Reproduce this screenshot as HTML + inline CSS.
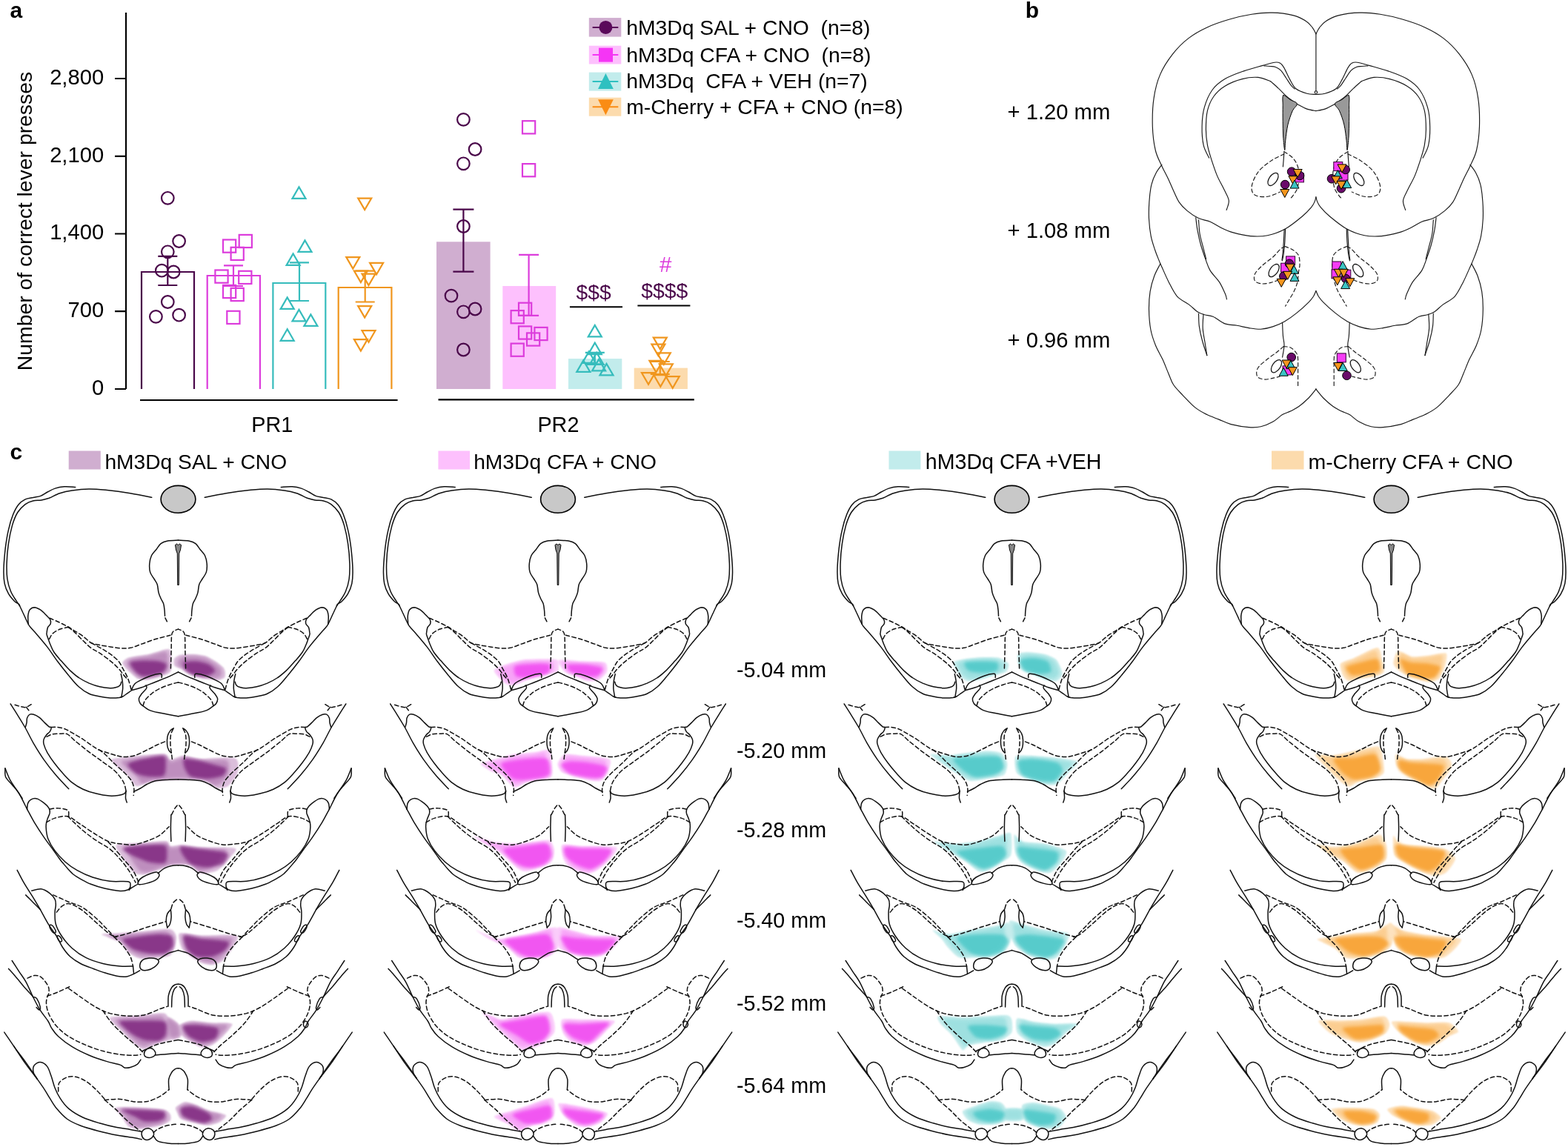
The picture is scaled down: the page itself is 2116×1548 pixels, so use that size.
<!DOCTYPE html>
<html><head><meta charset="utf-8"><style>html,body{margin:0;padding:0;background:#fff;}svg{display:block;}</style></head>
<body><svg width="2116" height="1548" viewBox="0 0 2116 1548">
<rect width="2116" height="1548" fill="#fff"/>
<path d="M170 17V525M155 525H170M155 420.2H170M155 315.5H170M155 210.8H170M155 106H170" stroke="#000" stroke-width="2.2" fill="none"/>
<text x="140.2" y="532.8" text-anchor="end" font-size="29.2" font-family="Liberation Sans, Arial, sans-serif">0</text>
<text x="140.2" y="428.0" text-anchor="end" font-size="29.2" font-family="Liberation Sans, Arial, sans-serif">700</text>
<text x="140.2" y="323.3" text-anchor="end" font-size="29.2" font-family="Liberation Sans, Arial, sans-serif">1,400</text>
<text x="140.2" y="218.5" text-anchor="end" font-size="29.2" font-family="Liberation Sans, Arial, sans-serif">2,100</text>
<text x="140.2" y="113.8" text-anchor="end" font-size="29.2" font-family="Liberation Sans, Arial, sans-serif">2,800</text>
<text transform="translate(42.8 298.5) rotate(-90)" text-anchor="middle" font-size="28.35" font-family="Liberation Sans, Arial, sans-serif">Number of correct lever presses</text>
<text x="13.5" y="23.5" font-size="30" font-weight="bold" font-family="Liberation Sans, Arial, sans-serif">a</text>
<path d="M189 540H536.6M591.5 539.4H936.8" stroke="#000" stroke-width="2.2"/>
<text x="339.3" y="582.9" font-size="28.8" font-family="Liberation Sans, Arial, sans-serif">PR1</text>
<text x="725.4" y="582.9" font-size="28.8" font-family="Liberation Sans, Arial, sans-serif">PR2</text>
<path d="M191 525V367H262V525" fill="none" stroke="#4a084a" stroke-width="2.2"/>
<path d="M279.7 525V372H350.9V525" fill="none" stroke="#dc3cdc" stroke-width="2.2"/>
<path d="M368.4 525V382H439.3V525" fill="none" stroke="#36bcbc" stroke-width="2.2"/>
<path d="M456.7 525V388H528.4V525" fill="none" stroke="#f0961e" stroke-width="2.2"/>
<circle cx="226.3" cy="267.3" r="8.3" fill="none" stroke="#4a084a" stroke-width="2.2"/>
<circle cx="241.6" cy="325.5" r="8.3" fill="none" stroke="#4a084a" stroke-width="2.2"/>
<circle cx="226.3" cy="339.8" r="8.3" fill="none" stroke="#4a084a" stroke-width="2.2"/>
<circle cx="218.3" cy="365.2" r="8.3" fill="none" stroke="#4a084a" stroke-width="2.2"/>
<circle cx="234.2" cy="367.0" r="8.3" fill="none" stroke="#4a084a" stroke-width="2.2"/>
<circle cx="226.3" cy="407.5" r="8.3" fill="none" stroke="#4a084a" stroke-width="2.2"/>
<circle cx="210.4" cy="427.4" r="8.3" fill="none" stroke="#4a084a" stroke-width="2.2"/>
<circle cx="241.6" cy="425.2" r="8.3" fill="none" stroke="#4a084a" stroke-width="2.2"/>
<path d="M226.3 345.8V385.0M213.3 345.8H239.3M213.3 385.0H239.3" stroke="#4a084a" stroke-width="2.2" fill="none"/>
<rect x="301.0" y="323.5" width="17.2" height="17.2" fill="none" stroke="#dc3cdc" stroke-width="2.2"/>
<rect x="322.7" y="316.9" width="17.2" height="17.2" fill="none" stroke="#dc3cdc" stroke-width="2.2"/>
<rect x="311.6" y="333.8" width="17.2" height="17.2" fill="none" stroke="#dc3cdc" stroke-width="2.2"/>
<rect x="290.4" y="364.5" width="17.2" height="17.2" fill="none" stroke="#dc3cdc" stroke-width="2.2"/>
<rect x="322.2" y="365.8" width="17.2" height="17.2" fill="none" stroke="#dc3cdc" stroke-width="2.2"/>
<rect x="301.0" y="384.9" width="17.2" height="17.2" fill="none" stroke="#dc3cdc" stroke-width="2.2"/>
<rect x="311.6" y="388.9" width="17.2" height="17.2" fill="none" stroke="#dc3cdc" stroke-width="2.2"/>
<rect x="306.3" y="419.8" width="17.2" height="17.2" fill="none" stroke="#dc3cdc" stroke-width="2.2"/>
<path d="M315.0 358.3V386.0M302.0 358.3H328.0M302.0 386.0H328.0" stroke="#dc3cdc" stroke-width="2.2" fill="none"/>
<polygon points="403.5,252.4 394.5,267.9 412.5,267.9" fill="none" stroke="#36bcbc" stroke-width="2.2" stroke-linejoin="miter"/>
<polygon points="411.5,324.4 402.5,339.9 420.5,339.9" fill="none" stroke="#36bcbc" stroke-width="2.2" stroke-linejoin="miter"/>
<polygon points="395.6,342.4 386.6,357.9 404.6,357.9" fill="none" stroke="#36bcbc" stroke-width="2.2" stroke-linejoin="miter"/>
<polygon points="387.7,401.4 378.7,416.9 396.7,416.9" fill="none" stroke="#36bcbc" stroke-width="2.2" stroke-linejoin="miter"/>
<polygon points="403.5,417.9 394.5,433.4 412.5,433.4" fill="none" stroke="#36bcbc" stroke-width="2.2" stroke-linejoin="miter"/>
<polygon points="419.4,424.4 410.4,439.9 428.4,439.9" fill="none" stroke="#36bcbc" stroke-width="2.2" stroke-linejoin="miter"/>
<polygon points="387.7,444.2 378.7,459.8 396.7,459.8" fill="none" stroke="#36bcbc" stroke-width="2.2" stroke-linejoin="miter"/>
<path d="M404.0 354.3V406.0M391.0 354.3H417.0M391.0 406.0H417.0" stroke="#36bcbc" stroke-width="2.2" fill="none"/>
<polygon points="492.2,283.1 483.2,267.6 501.2,267.6" fill="none" stroke="#f0961e" stroke-width="2.2" stroke-linejoin="miter"/>
<polygon points="476.3,362.6 467.3,347.1 485.3,347.1" fill="none" stroke="#f0961e" stroke-width="2.2" stroke-linejoin="miter"/>
<polygon points="508.1,370.4 499.1,354.9 517.1,354.9" fill="none" stroke="#f0961e" stroke-width="2.2" stroke-linejoin="miter"/>
<polygon points="486.9,381.1 477.9,365.6 495.9,365.6" fill="none" stroke="#f0961e" stroke-width="2.2" stroke-linejoin="miter"/>
<polygon points="497.5,385.1 488.5,369.6 506.5,369.6" fill="none" stroke="#f0961e" stroke-width="2.2" stroke-linejoin="miter"/>
<polygon points="492.2,428.6 483.2,413.1 501.2,413.1" fill="none" stroke="#f0961e" stroke-width="2.2" stroke-linejoin="miter"/>
<polygon points="497.5,461.8 488.5,446.2 506.5,446.2" fill="none" stroke="#f0961e" stroke-width="2.2" stroke-linejoin="miter"/>
<polygon points="486.9,473.6 477.9,458.1 495.9,458.1" fill="none" stroke="#f0961e" stroke-width="2.2" stroke-linejoin="miter"/>
<path d="M492.7 365.7V407.5M479.7 365.7H505.7M479.7 407.5H505.7" stroke="#f0961e" stroke-width="2.2" fill="none"/>
<rect x="589" y="326.3" width="72.6" height="198.7" fill="#d0aed0"/>
<rect x="678.3" y="386" width="71.9" height="139.0" fill="#fdc0fd"/>
<rect x="767" y="484.1" width="72.3" height="40.9" fill="#c2ecec"/>
<rect x="855.7" y="496.6" width="72.2" height="28.4" fill="#fcdbad"/>
<circle cx="625.4" cy="161.4" r="8.3" fill="none" stroke="#4a084a" stroke-width="2.2"/>
<circle cx="641.1" cy="201.5" r="8.3" fill="none" stroke="#4a084a" stroke-width="2.2"/>
<circle cx="625.4" cy="220.8" r="8.3" fill="none" stroke="#4a084a" stroke-width="2.2"/>
<circle cx="625.4" cy="305.5" r="8.3" fill="none" stroke="#4a084a" stroke-width="2.2"/>
<circle cx="609.0" cy="399.1" r="8.3" fill="none" stroke="#4a084a" stroke-width="2.2"/>
<circle cx="625.4" cy="420.8" r="8.3" fill="none" stroke="#4a084a" stroke-width="2.2"/>
<circle cx="641.1" cy="417.0" r="8.3" fill="none" stroke="#4a084a" stroke-width="2.2"/>
<circle cx="625.4" cy="472.0" r="8.3" fill="none" stroke="#4a084a" stroke-width="2.2"/>
<path d="M625.4 282.6V366.7M611.4 282.6H639.4M611.4 366.7H639.4" stroke="#4a084a" stroke-width="2.2" fill="none"/>
<rect x="705.0" y="163.2" width="17.2" height="17.2" fill="none" stroke="#dc3cdc" stroke-width="2.2"/>
<rect x="705.0" y="221.1" width="17.2" height="17.2" fill="none" stroke="#dc3cdc" stroke-width="2.2"/>
<rect x="700.0" y="408.7" width="17.2" height="17.2" fill="none" stroke="#dc3cdc" stroke-width="2.2"/>
<rect x="689.6" y="419.1" width="17.2" height="17.2" fill="none" stroke="#dc3cdc" stroke-width="2.2"/>
<rect x="700.0" y="440.4" width="17.2" height="17.2" fill="none" stroke="#dc3cdc" stroke-width="2.2"/>
<rect x="721.4" y="441.9" width="17.2" height="17.2" fill="none" stroke="#dc3cdc" stroke-width="2.2"/>
<rect x="711.0" y="449.4" width="17.2" height="17.2" fill="none" stroke="#dc3cdc" stroke-width="2.2"/>
<rect x="689.6" y="463.6" width="17.2" height="17.2" fill="none" stroke="#dc3cdc" stroke-width="2.2"/>
<path d="M713.6 343.9V425.9M700.1 343.9H727.1M700.1 425.9H727.1" stroke="#dc3cdc" stroke-width="2.2" fill="none"/>
<polygon points="802.8,438.9 793.8,454.4 811.8,454.4" fill="none" stroke="#36bcbc" stroke-width="2.2" stroke-linejoin="miter"/>
<polygon points="802.8,462.6 793.8,478.1 811.8,478.1" fill="none" stroke="#36bcbc" stroke-width="2.2" stroke-linejoin="miter"/>
<polygon points="794.8,474.4 785.8,489.9 803.8,489.9" fill="none" stroke="#36bcbc" stroke-width="2.2" stroke-linejoin="miter"/>
<polygon points="805.2,475.9 796.2,491.4 814.2,491.4" fill="none" stroke="#36bcbc" stroke-width="2.2" stroke-linejoin="miter"/>
<polygon points="787.3,486.4 778.3,501.9 796.3,501.9" fill="none" stroke="#36bcbc" stroke-width="2.2" stroke-linejoin="miter"/>
<polygon points="808.1,484.9 799.1,500.4 817.1,500.4" fill="none" stroke="#36bcbc" stroke-width="2.2" stroke-linejoin="miter"/>
<polygon points="818.5,490.9 809.5,506.4 827.5,506.4" fill="none" stroke="#36bcbc" stroke-width="2.2" stroke-linejoin="miter"/>
<path d="M802.8 475.8V492.0M789.8 475.8H815.8M789.8 492.0H815.8" stroke="#36bcbc" stroke-width="2.2" fill="none"/>
<polygon points="890.8,471.1 881.8,455.6 899.8,455.6" fill="none" stroke="#f0961e" stroke-width="2.2" stroke-linejoin="miter"/>
<polygon points="888.4,480.1 879.4,464.6 897.4,464.6" fill="none" stroke="#f0961e" stroke-width="2.2" stroke-linejoin="miter"/>
<polygon points="895.8,491.9 886.8,476.4 904.8,476.4" fill="none" stroke="#f0961e" stroke-width="2.2" stroke-linejoin="miter"/>
<polygon points="885.4,502.4 876.4,486.9 894.4,486.9" fill="none" stroke="#f0961e" stroke-width="2.2" stroke-linejoin="miter"/>
<polygon points="898.8,506.9 889.8,491.4 907.8,491.4" fill="none" stroke="#f0961e" stroke-width="2.2" stroke-linejoin="miter"/>
<polygon points="875.0,518.8 866.0,503.2 884.0,503.2" fill="none" stroke="#f0961e" stroke-width="2.2" stroke-linejoin="miter"/>
<polygon points="891.3,521.8 882.3,506.2 900.3,506.2" fill="none" stroke="#f0961e" stroke-width="2.2" stroke-linejoin="miter"/>
<polygon points="907.7,523.8 898.7,508.2 916.7,508.2" fill="none" stroke="#f0961e" stroke-width="2.2" stroke-linejoin="miter"/>
<path d="M890.8 488.0V505.0M877.8 488.0H903.8M877.8 505.0H903.8" stroke="#f0961e" stroke-width="2.2" fill="none"/>
<text x="777.6" y="403.8" font-size="28.2" fill="#4a084a" font-family="Liberation Sans, Arial, sans-serif">$$$</text>
<path d="M768.9 414.2H840M860.4 412.5H931.4" stroke="#000" stroke-width="2"/>
<text x="865.2" y="401.7" font-size="28.4" fill="#4a084a" font-family="Liberation Sans, Arial, sans-serif">$$$$</text>
<text x="890" y="366.7" font-size="29.5" fill="#dc3cdc" font-family="Liberation Sans, Arial, sans-serif">#</text>
<rect x="794.8" y="24.1" width="43.5" height="25.5" fill="#d0aed0"/>
<path d="M799.6 36.9H834.3" stroke="#5a0a5a" stroke-width="2"/>
<circle cx="817.4" cy="36.9" r="9" fill="#5a0a5a" stroke="#5a0a5a" stroke-width="0"/>
<text x="845.2" y="46.8" font-size="28.3" font-family="Liberation Sans, Arial, sans-serif">hM3Dq SAL + CNO  (n=8)</text>
<rect x="794.8" y="61.7" width="43.5" height="24.8" fill="#fdc0fd"/>
<path d="M799.6 74.1H834.3" stroke="#f535f5" stroke-width="2"/>
<rect x="808" y="64.6" width="19" height="19" fill="#f535f5"/>
<text x="845.2" y="83.5" font-size="28.3" font-family="Liberation Sans, Arial, sans-serif">hM3Dq CFA + CNO  (n=8)</text>
<rect x="794.8" y="97.6" width="43.5" height="25.0" fill="#c2ecec"/>
<path d="M799.6 110.1H834.3" stroke="#2ec0c0" stroke-width="2"/>
<polygon points="817.4,99.1 807,120.1 827.8,120.1" fill="#2ec0c0"/>
<text x="845.2" y="119.0" font-size="28.3" font-family="Liberation Sans, Arial, sans-serif">hM3Dq  CFA + VEH (n=7)</text>
<rect x="794.8" y="131.7" width="43.5" height="25.0" fill="#fcdbad"/>
<path d="M799.6 144.2H834.3" stroke="#fa8c14" stroke-width="2"/>
<polygon points="817.4,155.2 807,134.2 827.8,134.2" fill="#fa8c14"/>
<text x="845.2" y="153.6" font-size="28.3" font-family="Liberation Sans, Arial, sans-serif">m-Cherry + CFA + CNO (n=8)</text>
<g fill="none" stroke="#1a1a1a" stroke-width="1.15" stroke-linecap="round">
<path d="M1775.9 45.8C1775.2 44.4 1773.4 40.1 1771.2 37.3C1769.0 34.5 1767.0 31.5 1762.7 28.8C1758.5 26.0 1753.3 22.8 1745.7 20.9C1738.0 18.9 1726.3 17.3 1716.9 17.1C1707.5 16.8 1698.8 17.7 1689.2 19.2C1679.6 20.7 1669.3 23.1 1659.4 26.0C1649.4 28.9 1638.7 32.4 1629.5 36.7C1620.3 40.9 1611.8 45.5 1603.9 51.6C1596.1 57.6 1589.0 64.7 1582.6 72.9C1576.2 81.1 1569.8 90.7 1565.6 100.6C1561.3 110.5 1558.8 120.9 1557.1 132.6C1555.3 144.2 1555.0 158.9 1555.3 170.5C1555.7 182.2 1557.1 193.6 1559.2 202.5C1561.2 211.4 1564.9 217.4 1567.7 223.8C1570.5 230.2 1573.4 234.8 1576.2 240.8C1579.1 246.9 1582.3 254.7 1584.8 260.0C1587.2 265.3 1588.3 268.7 1591.2 272.8C1594.0 276.9 1597.6 280.8 1602.0 284.4C1606.4 288.1 1612.4 292.1 1617.5 294.5C1622.7 297.0 1627.9 297.0 1633.1 299.2C1638.2 301.4 1643.4 305.2 1648.6 307.7C1653.7 310.2 1657.6 312.1 1664.1 313.9C1670.5 315.7 1679.6 317.9 1687.3 318.6C1695.1 319.2 1702.8 319.3 1710.6 317.8C1718.3 316.2 1726.1 313.5 1733.9 309.3C1741.6 305.0 1751.2 297.1 1757.1 292.2C1763.1 287.3 1766.7 283.1 1769.5 279.8C1772.4 276.4 1773.1 274.4 1774.2 272.0C1775.2 269.7 1775.6 266.9 1775.9 265.8"/>
<path d="M1775.9 45.8C1776.6 44.4 1778.4 40.1 1780.6 37.3C1782.8 34.5 1784.8 31.5 1789.1 28.8C1793.3 26.0 1798.5 22.8 1806.1 20.9C1813.8 18.9 1825.5 17.3 1834.9 17.1C1844.3 16.8 1853.0 17.7 1862.6 19.2C1872.2 20.7 1882.5 23.1 1892.4 26.0C1902.4 28.9 1913.1 32.4 1922.3 36.7C1931.5 40.9 1940.0 45.5 1947.9 51.6C1955.7 57.6 1962.8 64.7 1969.2 72.9C1975.6 81.1 1982.0 90.7 1986.2 100.6C1990.5 110.5 1993.0 120.9 1994.7 132.6C1996.5 144.2 1996.8 158.9 1996.5 170.5C1996.1 182.2 1994.7 193.6 1992.6 202.5C1990.6 211.4 1986.9 217.4 1984.1 223.8C1981.3 230.2 1978.4 234.8 1975.6 240.8C1972.7 246.9 1969.5 254.7 1967.0 260.0C1964.6 265.3 1963.5 268.7 1960.6 272.8C1957.8 276.9 1954.2 280.8 1949.8 284.4C1945.4 288.1 1939.4 292.1 1934.3 294.5C1929.1 297.0 1923.9 297.0 1918.7 299.2C1913.6 301.4 1908.4 305.2 1903.2 307.7C1898.1 310.2 1894.2 312.1 1887.7 313.9C1881.3 315.7 1872.2 317.9 1864.5 318.6C1856.7 319.2 1849.0 319.3 1841.2 317.8C1833.5 316.2 1825.7 313.5 1817.9 309.3C1810.2 305.0 1800.6 297.1 1794.7 292.2C1788.7 287.3 1785.1 283.1 1782.3 279.8C1779.4 276.4 1778.7 274.4 1777.6 272.0C1776.6 269.7 1776.2 266.9 1775.9 265.8"/>
<path d="M1775.9 127.5C1773.9 127.2 1768.3 127.5 1763.8 126.2C1759.3 124.9 1752.8 123.0 1748.9 119.8C1745.0 116.5 1743.0 111.3 1740.3 106.6C1737.7 101.9 1735.0 95.2 1732.9 91.6C1730.8 88.1 1729.7 86.5 1727.6 85.3C1725.4 84.0 1724.0 83.7 1720.1 84.2C1716.2 84.7 1711.0 86.5 1704.1 88.4C1697.2 90.4 1687.1 92.9 1678.5 95.9C1670.0 98.9 1660.1 102.3 1653.0 106.6C1645.9 110.8 1640.5 115.1 1635.9 121.5C1631.3 127.9 1627.6 136.8 1625.3 144.9C1622.9 153.1 1622.2 162.0 1622.1 170.5C1621.9 179.0 1622.6 189.0 1624.2 196.1C1625.8 203.2 1630.4 210.3 1631.6 213.1"/>
<path d="M1775.9 127.5C1777.9 127.2 1783.5 127.5 1788.0 126.2C1792.5 124.9 1799.0 123.0 1802.9 119.8C1806.8 116.5 1808.8 111.3 1811.5 106.6C1814.1 101.9 1816.8 95.2 1818.9 91.6C1821.0 88.1 1822.1 86.5 1824.2 85.3C1826.4 84.0 1827.8 83.7 1831.7 84.2C1835.6 84.7 1840.8 86.5 1847.7 88.4C1854.6 90.4 1864.7 92.9 1873.3 95.9C1881.8 98.9 1891.7 102.3 1898.8 106.6C1905.9 110.8 1911.3 115.1 1915.9 121.5C1920.5 127.9 1924.2 136.8 1926.5 144.9C1928.9 153.1 1929.6 162.0 1929.7 170.5C1929.9 179.0 1929.2 189.0 1927.6 196.1C1926.0 203.2 1921.4 210.3 1920.2 213.1"/>
<path d="M1714.8 109.8C1711.9 108.9 1704.1 105.0 1697.7 104.4C1691.3 103.9 1683.9 104.6 1676.4 106.6C1668.9 108.5 1659.4 112.2 1653.0 116.2C1646.6 120.1 1641.9 124.5 1638.0 130.0C1634.1 135.5 1631.3 141.7 1629.5 149.2C1627.7 156.6 1627.4 167.0 1627.4 174.8C1627.4 182.6 1628.3 189.3 1629.5 196.1C1630.8 202.8 1632.7 208.5 1634.8 215.3C1637.0 222.0 1639.5 229.8 1642.3 236.6C1645.1 243.3 1649.2 250.1 1651.9 255.8C1654.6 261.4 1657.8 266.1 1658.3 270.7C1658.8 275.3 1655.6 281.3 1655.1 283.5"/>
<path d="M1837.0 109.8C1839.9 108.9 1847.7 105.0 1854.1 104.4C1860.5 103.9 1867.9 104.6 1875.4 106.6C1882.9 108.5 1892.4 112.2 1898.8 116.2C1905.2 120.1 1909.9 124.5 1913.8 130.0C1917.7 135.5 1920.5 141.7 1922.3 149.2C1924.1 156.6 1924.4 167.0 1924.4 174.8C1924.4 182.6 1923.5 189.3 1922.3 196.1C1921.0 202.8 1919.1 208.5 1917.0 215.3C1914.8 222.0 1912.3 229.8 1909.5 236.6C1906.7 243.3 1902.6 250.1 1899.9 255.8C1897.2 261.4 1894.0 266.1 1893.5 270.7C1893.0 275.3 1896.2 281.3 1896.7 283.5"/>
<path d="M1705.8 88.9C1707.2 89.0 1711.4 89.2 1714.0 89.5C1716.6 89.8 1718.9 89.6 1721.3 90.5C1723.7 91.4 1726.2 92.6 1728.6 95.1C1731.0 97.6 1733.6 102.2 1735.8 105.5C1738.0 108.8 1740.1 112.4 1742.0 114.8C1743.9 117.2 1746.3 119.1 1747.2 120.0"/>
<path d="M1846.0 88.9C1844.6 89.0 1840.4 89.2 1837.8 89.5C1835.2 89.8 1832.9 89.6 1830.5 90.5C1828.1 91.4 1825.6 92.6 1823.2 95.1C1820.8 97.6 1818.2 102.2 1816.0 105.5C1813.8 108.8 1811.7 112.4 1809.8 114.8C1807.9 117.2 1805.5 119.1 1804.6 120.0"/>
<path d="M1714.8 109.8C1716.5 111.4 1721.9 116.0 1725.4 119.4C1729.0 122.7 1732.9 127.2 1736.1 130.0C1739.3 132.9 1742.1 134.6 1744.6 136.4C1747.1 138.2 1747.8 138.9 1751.0 140.7C1754.2 142.4 1759.6 145.6 1763.8 147.1C1767.9 148.6 1773.9 149.2 1775.9 149.6"/>
<path d="M1837.0 109.8C1835.3 111.4 1829.9 116.0 1826.4 119.4C1822.8 122.7 1818.9 127.2 1815.7 130.0C1812.5 132.9 1809.7 134.6 1807.2 136.4C1804.7 138.2 1804.0 138.9 1800.8 140.7C1797.6 142.4 1792.2 145.6 1788.0 147.1C1783.9 148.6 1777.9 149.2 1775.9 149.6"/>
<path d="M1732.9 204.6C1732.8 206.4 1732.5 211.9 1732.2 215.3C1732.0 218.6 1731.5 223.3 1731.4 224.9"/>
<path d="M1818.9 204.6C1819.0 206.4 1819.3 211.9 1819.6 215.3C1819.8 218.6 1820.3 223.3 1820.4 224.9"/>
<path d="M1732.9 207.8C1729.9 209.4 1720.6 213.3 1714.8 217.4C1708.9 221.5 1702.0 226.6 1697.7 232.3C1693.5 238.0 1689.9 246.3 1689.2 251.5C1688.5 256.6 1689.9 260.9 1693.5 263.2C1697.0 265.5 1704.8 266.1 1710.5 265.3C1716.2 264.6 1724.7 260.0 1727.6 259.0" stroke-dasharray="5 3.5"/>
<path d="M1818.9 207.8C1821.9 209.4 1831.2 213.3 1837.0 217.4C1842.9 221.5 1849.8 226.6 1854.1 232.3C1858.3 238.0 1861.9 246.3 1862.6 251.5C1863.3 256.6 1861.9 260.9 1858.3 263.2C1854.8 265.5 1847.0 266.1 1841.3 265.3C1835.6 264.6 1827.1 260.0 1824.2 259.0" stroke-dasharray="5 3.5"/>
<path d="M1732.9 204.6C1734.8 206.0 1741.6 209.9 1744.6 213.1C1747.6 216.3 1749.6 219.9 1751.0 223.8C1752.4 227.7 1753.1 231.6 1753.1 236.6C1753.1 241.5 1752.4 249.0 1751.0 253.6C1749.6 258.2 1746.4 261.8 1744.6 264.3C1742.8 266.8 1741.1 267.8 1740.3 268.5" stroke-dasharray="5 3.5"/>
<path d="M1818.9 204.6C1817.0 206.0 1810.2 209.9 1807.2 213.1C1804.2 216.3 1802.2 219.9 1800.8 223.8C1799.4 227.7 1798.7 231.6 1798.7 236.6C1798.7 241.5 1799.4 249.0 1800.8 253.6C1802.2 258.2 1805.4 261.8 1807.2 264.3C1809.0 266.8 1810.7 267.8 1811.5 268.5" stroke-dasharray="5 3.5"/>
<path d="M1567.9 222.4C1566.6 224.2 1562.5 228.9 1560.2 233.3C1557.8 237.7 1555.5 242.3 1554.0 248.8C1552.4 255.2 1551.4 264.3 1550.9 272.0C1550.3 279.8 1550.2 287.5 1550.5 295.3C1550.9 303.1 1551.8 311.6 1553.2 318.6C1554.5 325.5 1556.9 332.0 1558.6 337.2C1560.3 342.3 1561.8 345.9 1563.3 349.6C1564.7 353.3 1565.1 354.2 1567.5 359.4C1569.8 364.5 1573.6 373.6 1577.1 380.4C1580.6 387.1 1583.9 394.6 1588.4 399.8C1593.0 404.9 1600.0 407.6 1604.6 411.1C1609.2 414.6 1612.4 418.5 1615.9 420.7C1619.4 423.0 1622.1 423.7 1625.6 424.8C1629.1 425.9 1632.3 425.2 1636.9 427.2C1641.5 429.2 1647.7 434.9 1653.0 436.9C1658.4 438.9 1663.8 438.4 1669.2 439.3C1674.6 440.3 1680.0 441.7 1685.3 442.6C1690.7 443.4 1696.1 444.4 1701.5 444.2C1706.9 443.9 1712.3 442.7 1717.6 440.9C1723.0 439.2 1728.4 436.8 1733.8 433.7C1739.2 430.6 1744.6 426.7 1749.9 422.4C1755.3 418.1 1762.3 411.6 1766.1 407.8C1769.9 404.1 1770.9 402.3 1772.6 399.8C1774.2 397.2 1775.3 393.7 1775.9 392.5"/>
<path d="M1983.9 222.4C1985.2 224.2 1989.3 228.9 1991.6 233.3C1994.0 237.7 1996.3 242.3 1997.8 248.8C1999.4 255.2 2000.4 264.3 2000.9 272.0C2001.5 279.8 2001.6 287.5 2001.3 295.3C2000.9 303.1 2000.0 311.6 1998.6 318.6C1997.3 325.5 1994.9 332.0 1993.2 337.2C1991.5 342.3 1990.0 345.9 1988.5 349.6C1987.1 353.3 1986.7 354.2 1984.3 359.4C1982.0 364.5 1978.2 373.6 1974.7 380.4C1971.2 387.1 1967.9 394.6 1963.4 399.8C1958.8 404.9 1951.8 407.6 1947.2 411.1C1942.6 414.6 1939.4 418.5 1935.9 420.7C1932.4 423.0 1929.7 423.7 1926.2 424.8C1922.7 425.9 1919.5 425.2 1914.9 427.2C1910.3 429.2 1904.1 434.9 1898.8 436.9C1893.4 438.9 1888.0 438.4 1882.6 439.3C1877.2 440.3 1871.8 441.7 1866.5 442.6C1861.1 443.4 1855.7 444.4 1850.3 444.2C1844.9 443.9 1839.5 442.7 1834.2 440.9C1828.8 439.2 1823.4 436.8 1818.0 433.7C1812.6 430.6 1807.2 426.7 1801.9 422.4C1796.5 418.1 1789.5 411.6 1785.7 407.8C1781.9 404.1 1780.9 402.3 1779.2 399.8C1777.6 397.2 1776.5 393.7 1775.9 392.5"/>
<path d="M1613.7 293.7C1614.1 296.6 1614.8 304.6 1616.0 310.8C1617.2 317.0 1618.8 324.5 1620.6 331.0C1622.5 337.4 1624.8 343.9 1626.8 349.6C1628.9 355.3 1630.0 359.9 1633.1 365.1C1636.2 370.3 1642.1 375.4 1645.5 380.6C1648.8 385.8 1651.5 392.2 1653.2 396.1C1654.9 400.0 1655.2 402.6 1655.5 403.9"/>
<path d="M1938.1 293.7C1937.7 296.6 1937.0 304.6 1935.8 310.8C1934.6 317.0 1933.0 324.5 1931.2 331.0C1929.3 337.4 1927.0 343.9 1925.0 349.6C1922.9 355.3 1921.8 359.9 1918.7 365.1C1915.6 370.3 1909.7 375.4 1906.3 380.6C1903.0 385.8 1900.3 392.2 1898.6 396.1C1896.9 400.0 1896.6 402.6 1896.3 403.9"/>
<path d="M1617.5 296.8C1617.8 300.0 1618.1 309.3 1619.1 315.5C1620.1 321.7 1622.3 328.4 1623.7 334.1C1625.2 339.8 1627.0 347.0 1627.6 349.6"/>
<path d="M1934.3 296.8C1934.0 300.0 1933.7 309.3 1932.7 315.5C1931.7 321.7 1929.5 328.4 1928.1 334.1C1926.6 339.8 1924.8 347.0 1924.2 349.6"/>
<path d="M1733.1 309.3C1733.0 312.1 1732.6 320.9 1732.3 326.3C1732.0 331.7 1731.5 337.7 1731.1 341.8C1730.7 346.0 1730.2 349.6 1730.0 351.1"/>
<path d="M1818.7 309.3C1818.8 312.1 1819.2 320.9 1819.5 326.3C1819.8 331.7 1820.3 337.7 1820.7 341.8C1821.1 346.0 1821.6 349.6 1821.8 351.1"/>
<path d="M1734.6 309.3C1734.5 312.1 1734.2 320.9 1733.9 326.3C1733.5 331.7 1732.9 337.6 1732.3 341.8C1731.7 346.1 1730.8 350.2 1730.4 351.9"/>
<path d="M1817.2 309.3C1817.3 312.1 1817.6 320.9 1817.9 326.3C1818.3 331.7 1818.9 337.6 1819.5 341.8C1820.1 346.1 1821.0 350.2 1821.4 351.9"/>
<path d="M1733.9 332.5C1732.8 333.2 1730.2 334.1 1727.7 336.4C1725.1 338.7 1722.5 342.7 1718.3 346.5C1714.2 350.2 1707.0 355.0 1702.8 358.9C1698.7 362.8 1695.1 366.4 1693.5 369.7C1692.0 373.1 1692.0 376.8 1693.5 379.0C1695.1 381.2 1699.2 382.5 1702.8 382.9C1706.5 383.3 1711.4 382.3 1715.2 381.4C1719.1 380.5 1724.3 378.1 1726.1 377.5" stroke-dasharray="5 3.5"/>
<path d="M1817.9 332.5C1819.0 333.2 1821.6 334.1 1824.1 336.4C1826.7 338.7 1829.3 342.7 1833.5 346.5C1837.6 350.2 1844.8 355.0 1849.0 358.9C1853.1 362.8 1856.7 366.4 1858.3 369.7C1859.8 373.1 1859.8 376.8 1858.3 379.0C1856.7 381.2 1852.6 382.5 1849.0 382.9C1845.3 383.3 1840.4 382.3 1836.6 381.4C1832.7 380.5 1827.5 378.1 1825.7 377.5" stroke-dasharray="5 3.5"/>
<path d="M1733.9 332.5C1735.7 333.3 1741.6 335.1 1744.7 337.2C1747.8 339.2 1750.9 341.6 1752.5 344.9C1754.0 348.3 1754.0 353.7 1754.0 357.3C1754.0 361.0 1753.0 362.8 1752.5 366.6C1752.0 370.5 1752.0 376.2 1750.9 380.6C1749.9 385.0 1748.1 389.1 1746.3 393.0C1744.5 396.9 1742.0 400.5 1740.1 403.9C1738.1 407.2 1735.5 411.6 1734.6 413.2" stroke-dasharray="5 3.5"/>
<path d="M1817.9 332.5C1816.1 333.3 1810.2 335.1 1807.1 337.2C1804.0 339.2 1800.9 341.6 1799.3 344.9C1797.8 348.3 1797.8 353.7 1797.8 357.3C1797.8 361.0 1798.8 362.8 1799.3 366.6C1799.8 370.5 1799.8 376.2 1800.9 380.6C1801.9 385.0 1803.7 389.1 1805.5 393.0C1807.3 396.9 1809.8 400.5 1811.7 403.9C1813.7 407.2 1816.3 411.6 1817.2 413.2" stroke-dasharray="5 3.5"/>
<path d="M1565.8 356.1C1564.5 358.8 1560.1 366.1 1557.8 372.3C1555.5 378.5 1553.3 385.8 1552.1 393.3C1550.9 400.8 1550.4 408.9 1550.5 417.5C1550.6 426.1 1551.4 436.9 1552.9 445.0C1554.4 453.0 1556.7 459.2 1559.4 466.0C1562.1 472.7 1566.1 478.9 1569.1 485.3C1572.0 491.8 1574.7 499.1 1577.1 504.7C1579.6 510.4 1580.4 514.4 1583.6 519.3C1586.8 524.1 1591.7 528.7 1596.5 533.8C1601.4 538.9 1607.3 545.6 1612.7 549.9C1618.1 554.3 1623.4 556.9 1628.8 559.6C1634.2 562.3 1639.6 563.9 1645.0 566.1C1650.4 568.3 1654.4 570.8 1661.1 572.6C1667.9 574.3 1678.6 576.1 1685.3 576.6C1692.1 577.1 1696.1 577.0 1701.5 575.8C1706.9 574.6 1712.8 572.0 1717.6 569.3C1722.5 566.6 1726.5 562.1 1730.6 559.6C1734.6 557.2 1738.1 556.7 1741.9 554.8C1745.6 552.9 1749.1 551.3 1753.2 548.3C1757.2 545.4 1762.6 540.5 1766.1 537.0C1769.6 533.5 1772.5 529.4 1774.2 527.3C1775.8 525.3 1775.6 525.3 1775.9 524.9"/>
<path d="M1986.0 356.1C1987.3 358.8 1991.7 366.1 1994.0 372.3C1996.3 378.5 1998.5 385.8 1999.7 393.3C2000.9 400.8 2001.4 408.9 2001.3 417.5C2001.2 426.1 2000.4 436.9 1998.9 445.0C1997.4 453.0 1995.1 459.2 1992.4 466.0C1989.7 472.7 1985.7 478.9 1982.7 485.3C1979.8 491.8 1977.1 499.1 1974.7 504.7C1972.2 510.4 1971.4 514.4 1968.2 519.3C1965.0 524.1 1960.1 528.7 1955.3 533.8C1950.4 538.9 1944.5 545.6 1939.1 549.9C1933.7 554.3 1928.4 556.9 1923.0 559.6C1917.6 562.3 1912.2 563.9 1906.8 566.1C1901.4 568.3 1897.4 570.8 1890.7 572.6C1883.9 574.3 1873.2 576.1 1866.5 576.6C1859.7 577.1 1855.7 577.0 1850.3 575.8C1844.9 574.6 1839.0 572.0 1834.2 569.3C1829.3 566.6 1825.3 562.1 1821.2 559.6C1817.2 557.2 1813.7 556.7 1809.9 554.8C1806.2 552.9 1802.7 551.3 1798.6 548.3C1794.6 545.4 1789.2 540.5 1785.7 537.0C1782.2 533.5 1779.3 529.4 1777.6 527.3C1776.0 525.3 1776.2 525.3 1775.9 524.9"/>
<path d="M1617.5 423.2C1617.7 426.0 1617.5 434.1 1618.3 440.1C1619.1 446.2 1620.6 452.9 1622.4 459.5C1624.1 466.1 1627.7 476.3 1628.8 479.7"/>
<path d="M1934.3 423.2C1934.1 426.0 1934.3 434.1 1933.5 440.1C1932.7 446.2 1931.2 452.9 1929.4 459.5C1927.7 466.1 1924.1 476.3 1923.0 479.7"/>
<path d="M1624.0 424.0C1623.8 427.2 1622.8 436.6 1623.2 443.4C1623.6 450.1 1625.5 458.3 1626.4 464.4C1627.3 470.4 1628.4 477.1 1628.8 479.7"/>
<path d="M1927.8 424.0C1928.0 427.2 1929.0 436.6 1928.6 443.4C1928.2 450.1 1926.3 458.3 1925.4 464.4C1924.5 470.4 1923.4 477.1 1923.0 479.7"/>
<path d="M1730.6 435.3C1730.7 438.2 1731.0 447.9 1731.4 453.0C1731.8 458.2 1733.1 461.1 1733.0 466.0C1732.9 470.8 1731.0 479.4 1730.6 482.1"/>
<path d="M1821.2 435.3C1821.1 438.2 1820.8 447.9 1820.4 453.0C1820.0 458.2 1818.7 461.1 1818.8 466.0C1818.9 470.8 1820.8 479.4 1821.2 482.1"/>
<path d="M1732.2 467.6C1730.6 468.9 1726.3 472.7 1722.5 475.7C1718.7 478.6 1713.7 481.8 1709.6 485.3C1705.4 488.8 1699.6 492.9 1697.5 496.7C1695.3 500.4 1695.2 505.4 1696.7 508.0C1698.1 510.5 1702.8 511.6 1706.3 512.0C1709.8 512.4 1714.1 511.1 1717.6 510.4C1721.1 509.7 1725.7 508.4 1727.3 508.0" stroke-dasharray="5 3.5"/>
<path d="M1819.6 467.6C1821.2 468.9 1825.5 472.7 1829.3 475.7C1833.1 478.6 1838.1 481.8 1842.2 485.3C1846.4 488.8 1852.2 492.9 1854.3 496.7C1856.5 500.4 1856.6 505.4 1855.1 508.0C1853.7 510.5 1849.0 511.6 1845.5 512.0C1842.0 512.4 1837.7 511.1 1834.2 510.4C1830.7 509.7 1826.1 508.4 1824.5 508.0" stroke-dasharray="5 3.5"/>
<path d="M1732.2 467.6C1733.8 467.9 1738.9 467.6 1741.9 469.2C1744.8 470.8 1748.3 474.6 1749.9 477.3C1751.6 480.0 1751.3 481.3 1751.6 485.3C1751.8 489.4 1751.6 495.3 1751.6 501.5C1751.6 507.7 1751.6 519.0 1751.6 522.5" stroke-dasharray="5 3.5"/>
<path d="M1819.6 467.6C1818.0 467.9 1812.9 467.6 1809.9 469.2C1807.0 470.8 1803.5 474.6 1801.9 477.3C1800.2 480.0 1800.5 481.3 1800.2 485.3C1800.0 489.4 1800.2 495.3 1800.2 501.5C1800.2 507.7 1800.2 519.0 1800.2 522.5" stroke-dasharray="5 3.5"/>
<path d="M1775.9 45.8V123"/>
<circle cx="1775.9" cy="124.5" r="1.8"/>
<path d="M1731.7 128.7C1733.3 127.3 1737.9 132.6 1741.0 134.5C1744.1 136.4 1749.8 137.5 1750.3 140.1C1750.8 142.7 1746.2 145.2 1744.1 149.9C1742.0 154.6 1739.5 161.9 1737.9 168.5C1736.4 175.1 1735.5 183.5 1734.8 189.2C1734.1 194.9 1734.2 203.5 1733.7 202.6C1733.2 201.7 1732.1 190.5 1731.7 184.0C1731.3 177.5 1731.3 170.3 1731.2 163.4C1731.1 156.5 1731.1 148.5 1731.2 142.7C1731.3 136.9 1730.1 130.1 1731.7 128.7Z" fill="#999" stroke="#000" stroke-width="1"/>
<path d="M1820.1 128.7C1818.5 127.3 1813.9 132.6 1810.8 134.5C1807.7 136.4 1802.0 137.5 1801.5 140.1C1801.0 142.7 1805.6 145.2 1807.7 149.9C1809.8 154.6 1812.4 161.9 1813.9 168.5C1815.5 175.1 1816.3 183.5 1817.0 189.2C1817.7 194.9 1817.6 203.5 1818.1 202.6C1818.6 201.7 1819.7 190.5 1820.1 184.0C1820.5 177.5 1820.5 170.3 1820.6 163.4C1820.7 156.5 1820.7 148.5 1820.6 142.7C1820.5 136.9 1821.7 130.1 1820.1 128.7Z" fill="#999" stroke="#000" stroke-width="1"/>
<ellipse cx="1718.0" cy="241.9" rx="5.3" ry="9.8" transform="rotate(35 1718.0 241.9)" stroke-width="1.3"/>
<ellipse cx="1833.8" cy="241.9" rx="5.3" ry="9.8" transform="rotate(-35 1833.8 241.9)" stroke-width="1.3"/>
<ellipse cx="1719.1" cy="365.1" rx="5.3" ry="9.8" transform="rotate(35 1719.1 365.1)" stroke-width="1.3"/>
<ellipse cx="1832.7" cy="365.1" rx="5.3" ry="9.8" transform="rotate(-35 1832.7 365.1)" stroke-width="1.3"/>
<ellipse cx="1722.5" cy="494.2" rx="5.3" ry="9.8" transform="rotate(35 1722.5 494.2)" stroke-width="1.3"/>
<ellipse cx="1829.3" cy="494.2" rx="5.3" ry="9.8" transform="rotate(-35 1829.3 494.2)" stroke-width="1.3"/>
</g>
<rect x="1747.4" y="233.9" width="12" height="12" fill="#f53cf5" stroke="#300030" stroke-width="1"/>
<circle cx="1743.1" cy="231.7" r="5.8" fill="#6a0a6a" stroke="#000" stroke-width="1"/>
<circle cx="1754.1" cy="237.0" r="5.8" fill="#6a0a6a" stroke="#000" stroke-width="1"/>
<circle cx="1734.2" cy="249.1" r="5.8" fill="#6a0a6a" stroke="#000" stroke-width="1"/>
<polygon points="1751.2,239.5 1745.2,228.5 1757.2,228.5" fill="#f7961e" stroke="#000" stroke-width="1"/>
<polygon points="1744.9,248.7 1738.9,237.7 1750.9,237.7" fill="#f7961e" stroke="#000" stroke-width="1"/>
<polygon points="1747.0,243.1 1741.0,254.1 1753.0,254.1" fill="#3cc4c4" stroke="#000" stroke-width="1"/>
<polygon points="1733.8,266.5 1727.8,255.5 1739.8,255.5" fill="#f7961e" stroke="#000" stroke-width="1"/>
<rect x="1799.8" y="218.6" width="12" height="12" fill="#f53cf5" stroke="#300030" stroke-width="1"/>
<rect x="1807.0" y="231.2" width="12" height="12" fill="#f53cf5" stroke="#300030" stroke-width="1"/>
<circle cx="1815.7" cy="228.9" r="5.8" fill="#6a0a6a" stroke="#000" stroke-width="1"/>
<circle cx="1797.0" cy="241.3" r="5.8" fill="#6a0a6a" stroke="#000" stroke-width="1"/>
<circle cx="1810.0" cy="254.3" r="5.8" fill="#6a0a6a" stroke="#000" stroke-width="1"/>
<polygon points="1811.0,232.9 1805.0,221.9 1817.0,221.9" fill="#f7961e" stroke="#000" stroke-width="1"/>
<polygon points="1805.3,229.7 1799.3,240.7 1811.3,240.7" fill="#3cc4c4" stroke="#000" stroke-width="1"/>
<polygon points="1802.7,248.9 1796.7,237.9 1808.7,237.9" fill="#f7961e" stroke="#000" stroke-width="1"/>
<polygon points="1810.0,255.6 1804.0,244.6 1816.0,244.6" fill="#f7961e" stroke="#000" stroke-width="1"/>
<polygon points="1817.7,242.6 1811.7,253.6 1823.7,253.6" fill="#3cc4c4" stroke="#000" stroke-width="1"/>
<rect x="1735.6" y="345.9" width="12" height="12" fill="#f53cf5" stroke="#300030" stroke-width="1"/>
<rect x="1728.6" y="355.2" width="12" height="12" fill="#f53cf5" stroke="#300030" stroke-width="1"/>
<circle cx="1740.0" cy="355.8" r="5.8" fill="#6a0a6a" stroke="#000" stroke-width="1"/>
<circle cx="1732.3" cy="372.8" r="5.8" fill="#6a0a6a" stroke="#000" stroke-width="1"/>
<polygon points="1740.8,367.2 1734.8,356.2 1746.8,356.2" fill="#f7961e" stroke="#000" stroke-width="1"/>
<polygon points="1746.3,358.3 1740.3,369.3 1752.3,369.3" fill="#3cc4c4" stroke="#000" stroke-width="1"/>
<polygon points="1737.7,377.3 1731.7,366.3 1743.7,366.3" fill="#f7961e" stroke="#000" stroke-width="1"/>
<polygon points="1747.0,368.4 1741.0,379.4 1753.0,379.4" fill="#3cc4c4" stroke="#000" stroke-width="1"/>
<polygon points="1729.2,387.4 1723.2,376.4 1735.2,376.4" fill="#f7961e" stroke="#000" stroke-width="1"/>
<rect x="1797.8" y="353.0" width="12" height="12" fill="#f53cf5" stroke="#300030" stroke-width="1"/>
<rect x="1797.0" y="363.8" width="12" height="12" fill="#f53cf5" stroke="#300030" stroke-width="1"/>
<rect x="1810.8" y="364.2" width="12" height="12" fill="#f53cf5" stroke="#300030" stroke-width="1"/>
<circle cx="1816.0" cy="376.0" r="5.8" fill="#6a0a6a" stroke="#000" stroke-width="1"/>
<polygon points="1812.1,352.6 1806.1,363.6 1818.1,363.6" fill="#3cc4c4" stroke="#000" stroke-width="1"/>
<polygon points="1806.3,374.3 1800.3,363.3 1812.3,363.3" fill="#f7961e" stroke="#000" stroke-width="1"/>
<polygon points="1813.3,374.3 1807.3,363.3 1819.3,363.3" fill="#f7961e" stroke="#000" stroke-width="1"/>
<polygon points="1804.8,384.8 1798.8,373.8 1810.8,373.8" fill="#f7961e" stroke="#000" stroke-width="1"/>
<polygon points="1821.8,386.7 1815.8,375.7 1827.8,375.7" fill="#f7961e" stroke="#000" stroke-width="1"/>
<polygon points="1815.6,378.6 1809.6,389.6 1821.6,389.6" fill="#3cc4c4" stroke="#000" stroke-width="1"/>
<circle cx="1742.7" cy="482.1" r="5.8" fill="#6a0a6a" stroke="#000" stroke-width="1"/>
<rect x="1731.0" y="493.9" width="12" height="12" fill="#f53cf5" stroke="#300030" stroke-width="1"/>
<polygon points="1736.2,497.0 1730.2,486.0 1742.2,486.0" fill="#f7961e" stroke="#000" stroke-width="1"/>
<polygon points="1741.9,486.6 1735.9,497.6 1747.9,497.6" fill="#3cc4c4" stroke="#000" stroke-width="1"/>
<polygon points="1744.3,506.7 1738.3,495.7 1750.3,495.7" fill="#f7961e" stroke="#000" stroke-width="1"/>
<polygon points="1732.2,496.3 1726.2,507.3 1738.2,507.3" fill="#3cc4c4" stroke="#000" stroke-width="1"/>
<rect x="1804.3" y="476.9" width="12" height="12" fill="#f53cf5" stroke="#300030" stroke-width="1"/>
<polygon points="1805.8,500.5 1799.8,489.5 1811.8,489.5" fill="#f7961e" stroke="#000" stroke-width="1"/>
<polygon points="1812.3,489.5 1806.3,500.5 1818.3,500.5" fill="#3cc4c4" stroke="#000" stroke-width="1"/>
<circle cx="1817.5" cy="506.8" r="5.8" fill="#6a0a6a" stroke="#000" stroke-width="1"/>
<text x="1383.8" y="23.5" font-size="30" font-weight="bold" font-family="Liberation Sans, Arial, sans-serif">b</text>
<text x="1359.5" y="160.9" font-size="29.2" font-family="Liberation Sans, Arial, sans-serif">+ 1.20 mm</text>
<text x="1359.5" y="320.8" font-size="29.2" font-family="Liberation Sans, Arial, sans-serif">+ 1.08 mm</text>
<text x="1359.5" y="468.8" font-size="29.2" font-family="Liberation Sans, Arial, sans-serif">+ 0.96 mm</text>
<text x="13.4" y="619.7" font-size="30" font-weight="bold" font-family="Liberation Sans, Arial, sans-serif">c</text>
<rect x="92.7" y="608.5" width="43.1" height="25" fill="#d0aed0"/>
<text x="141.4" y="633.3" font-size="28.2" font-family="Liberation Sans, Arial, sans-serif">hM3Dq SAL + CNO</text>
<rect x="591.4" y="608.5" width="42.6" height="25" fill="#fdc0fd"/>
<text x="639.2" y="633.3" font-size="28.2" font-family="Liberation Sans, Arial, sans-serif">hM3Dq CFA + CNO</text>
<rect x="1199.5" y="608.5" width="42.9" height="25" fill="#c2ecec"/>
<text x="1248.8" y="633.3" font-size="28.6" font-family="Liberation Sans, Arial, sans-serif">hM3Dq CFA +VEH</text>
<rect x="1716" y="608.5" width="43.5" height="25" fill="#fcdbad"/>
<text x="1765.4" y="633.3" font-size="28.5" font-family="Liberation Sans, Arial, sans-serif">m-Cherry CFA + CNO</text>
<text x="993.9" y="914.1" font-size="28.7" font-family="Liberation Sans, Arial, sans-serif">-5.04 mm</text>
<text x="993.9" y="1023.2" font-size="28.7" font-family="Liberation Sans, Arial, sans-serif">-5.20 mm</text>
<text x="993.9" y="1130.1" font-size="28.7" font-family="Liberation Sans, Arial, sans-serif">-5.28 mm</text>
<text x="993.9" y="1251.6" font-size="28.7" font-family="Liberation Sans, Arial, sans-serif">-5.40 mm</text>
<text x="993.9" y="1364.1" font-size="28.7" font-family="Liberation Sans, Arial, sans-serif">-5.52 mm</text>
<text x="993.9" y="1475.3" font-size="28.7" font-family="Liberation Sans, Arial, sans-serif">-5.64 mm</text>
<defs><g id="col"><g id="secs" fill="none" stroke="#111" stroke-width="1.5" stroke-linecap="round">
<path d="M101.7 657.4C99.3 657.3 91.4 656.5 86.8 656.8C82.3 657.1 78.2 657.9 74.4 659.1C70.7 660.3 67.4 662.3 64.1 664.0C60.8 665.7 58.1 668.2 54.8 669.4C51.5 670.6 47.9 670.7 44.5 671.5C41.0 672.2 37.4 672.3 34.1 673.9C30.8 675.6 27.6 677.7 24.8 681.2C22.1 684.6 19.8 688.9 17.6 694.6C15.3 700.3 13.1 707.7 11.4 715.3C9.6 722.9 8.3 731.2 7.2 740.1C6.2 749.1 5.1 761.1 5.0 769.1C4.8 777.0 5.1 782.3 6.2 787.7C7.3 793.0 9.1 797.2 11.4 801.1C13.6 805.1 17.3 809.1 19.6 811.5C22.0 813.8 24.1 814.2 25.2 815.2C26.4 816.2 26.3 817.1 26.5 817.5"/>
<path d="M379.3 657.4C381.7 657.3 389.6 656.5 394.2 656.8C398.7 657.1 402.8 657.9 406.6 659.1C410.3 660.3 413.6 662.3 416.9 664.0C420.2 665.7 422.9 668.2 426.2 669.4C429.5 670.6 433.1 670.7 436.5 671.5C440.0 672.2 443.6 672.3 446.9 673.9C450.2 675.6 453.4 677.7 456.2 681.2C458.9 684.6 461.2 688.9 463.4 694.6C465.7 700.3 467.9 707.7 469.6 715.3C471.4 722.9 472.7 731.2 473.8 740.1C474.8 749.1 475.9 761.1 476.0 769.1C476.2 777.0 475.9 782.3 474.8 787.7C473.7 793.0 471.9 797.2 469.6 801.1C467.4 805.1 463.7 809.1 461.4 811.5C459.0 813.8 456.9 814.2 455.8 815.2C454.6 816.2 454.7 817.1 454.5 817.5"/>
<path d="M204.7 671.3C199.9 670.3 185.8 667.3 175.8 665.7C165.8 664.1 154.1 662.5 144.7 661.5C135.4 660.6 127.9 659.8 119.9 659.9C112.0 660.0 103.7 661.0 97.2 662.0C90.6 662.9 85.8 664.0 80.6 665.7C75.5 667.4 70.3 670.7 66.2 672.3C62.0 673.8 59.4 674.4 55.8 675.0C52.2 675.6 48.1 675.1 44.5 676.0C40.8 676.9 37.6 678.0 34.1 680.6C30.7 683.2 26.7 686.8 23.8 691.5C20.9 696.3 18.6 702.0 16.5 709.1C14.5 716.2 12.6 725.3 11.4 733.9C10.1 742.5 9.3 752.9 9.1 760.8C8.9 768.7 9.0 775.3 9.9 781.5C10.8 787.7 12.5 793.2 14.5 798.0C16.4 802.8 19.7 807.2 21.7 810.4C23.7 813.7 25.7 816.3 26.5 817.5"/>
<path d="M276.3 671.3C281.1 670.3 295.2 667.3 305.2 665.7C315.2 664.1 326.9 662.5 336.3 661.5C345.6 660.6 353.1 659.8 361.1 659.9C369.0 660.0 377.3 661.0 383.8 662.0C390.4 662.9 395.2 664.0 400.4 665.7C405.5 667.4 410.7 670.7 414.8 672.3C419.0 673.8 421.6 674.4 425.2 675.0C428.8 675.6 432.9 675.1 436.5 676.0C440.2 676.9 443.4 678.0 446.9 680.6C450.3 683.2 454.3 686.8 457.2 691.5C460.1 696.3 462.4 702.0 464.5 709.1C466.5 716.2 468.4 725.3 469.6 733.9C470.9 742.5 471.7 752.9 471.9 760.8C472.1 768.7 472.0 775.3 471.1 781.5C470.2 787.7 468.5 793.2 466.5 798.0C464.6 802.8 461.3 807.2 459.3 810.4C457.3 813.7 455.3 816.3 454.5 817.5"/>
<path d="M26.5 817.5C27.2 819.0 29.1 822.8 31.0 827.0C33.0 831.1 36.4 839.1 38.3 842.5C40.1 845.9 40.0 845.2 41.9 847.4C43.8 849.7 45.8 851.7 49.5 855.9C53.1 860.2 58.9 866.8 63.6 872.9C68.4 879.1 73.1 886.5 77.8 892.8C82.5 899.1 87.3 905.1 92.0 910.7C96.7 916.4 101.4 922.6 106.2 926.8C110.9 931.1 115.6 934.1 120.3 936.3C125.1 938.5 129.8 939.1 134.5 940.0C139.2 941.0 144.3 941.7 148.7 941.9C153.1 942.2 158.1 941.8 161.0 941.5C163.8 941.1 163.8 941.1 165.7 940.0C167.6 939.0 170.3 936.7 172.3 935.3C174.4 933.9 177.1 932.2 178.0 931.5"/>
<path d="M454.5 817.5C453.8 819.0 451.9 822.8 450.0 827.0C448.0 831.1 444.6 839.1 442.7 842.5C440.9 845.9 441.0 845.2 439.1 847.4C437.2 849.7 435.2 851.7 431.5 855.9C427.9 860.2 422.1 866.8 417.4 872.9C412.6 879.1 407.9 886.5 403.2 892.8C398.5 899.1 393.7 905.1 389.0 910.7C384.3 916.4 379.6 922.6 374.8 926.8C370.1 931.1 365.4 934.1 360.7 936.3C355.9 938.5 351.2 939.1 346.5 940.0C341.8 941.0 336.7 941.7 332.3 941.9C327.9 942.2 322.9 941.8 320.0 941.5C317.2 941.1 317.2 941.1 315.3 940.0C313.4 939.0 310.7 936.7 308.7 935.3C306.6 933.9 303.9 932.2 303.0 931.5"/>
<path d="M38.3 842.5C38.2 840.6 37.5 834.4 37.8 831.1C38.2 827.8 38.9 824.7 40.3 822.8C41.8 820.9 44.1 819.7 46.5 819.7C48.9 819.8 52.0 821.4 54.8 823.2C57.6 825.1 60.9 828.9 63.1 831.1C65.2 833.3 67.0 834.5 67.8 836.3C68.7 838.1 68.8 840.1 68.2 841.9C67.7 843.6 65.4 844.6 64.5 846.6C63.7 848.6 63.3 852.1 63.1 853.9C62.8 855.6 62.7 855.3 63.2 856.9C63.6 858.5 64.7 861.1 65.5 863.5C66.4 865.8 67.1 868.2 68.4 871.0C69.6 873.9 70.7 877.0 73.1 880.5C75.4 884.0 78.9 887.7 82.5 891.8C86.2 895.9 90.9 901.3 94.8 905.1C98.8 908.8 101.9 911.7 106.2 914.5C110.4 917.4 115.6 920.0 120.3 922.1C125.1 924.1 129.8 925.7 134.5 926.8C139.2 927.9 145.1 928.5 148.7 928.7C152.3 928.9 154.1 928.4 156.3 927.8C158.5 927.1 160.7 926.2 161.9 924.9C163.2 923.7 163.5 921.0 163.8 920.2"/>
<path d="M442.7 842.5C442.8 840.6 443.5 834.4 443.2 831.1C442.8 827.8 442.1 824.7 440.7 822.8C439.2 820.9 436.9 819.7 434.5 819.7C432.1 819.8 429.0 821.4 426.2 823.2C423.4 825.1 420.1 828.9 417.9 831.1C415.8 833.3 414.0 834.5 413.2 836.3C412.3 838.1 412.2 840.1 412.8 841.9C413.3 843.6 415.6 844.6 416.5 846.6C417.3 848.6 417.7 852.1 417.9 853.9C418.2 855.6 418.3 855.3 417.8 856.9C417.4 858.5 416.3 861.1 415.5 863.5C414.6 865.8 413.9 868.2 412.6 871.0C411.4 873.9 410.3 877.0 407.9 880.5C405.6 884.0 402.1 887.7 398.5 891.8C394.8 895.9 390.1 901.3 386.2 905.1C382.2 908.8 379.1 911.7 374.8 914.5C370.6 917.4 365.4 920.0 360.7 922.1C355.9 924.1 351.2 925.7 346.5 926.8C341.8 927.9 335.9 928.5 332.3 928.7C328.7 928.9 326.9 928.4 324.7 927.8C322.5 927.1 320.3 926.2 319.1 924.9C317.8 923.7 317.5 921.0 317.2 920.2"/>
<path d="M163.3 909.8C163.7 911.4 164.8 916.1 165.2 919.2C165.6 922.4 165.9 925.1 165.7 928.7C165.5 932.3 164.1 938.9 163.8 941.0"/>
<path d="M317.7 909.8C317.3 911.4 316.2 916.1 315.8 919.2C315.4 922.4 315.1 925.1 315.3 928.7C315.5 932.3 316.9 938.9 317.2 941.0"/>
<path d="M66.9 834.2C69.1 835.1 75.5 837.9 79.7 839.8C83.9 841.8 88.8 844.3 92.0 846.0C95.1 847.7 95.9 848.6 98.6 850.2C101.3 851.9 105.2 854.0 108.1 855.9C110.9 857.8 113.1 859.6 115.6 861.6C118.1 863.6 120.0 866.2 123.2 867.7C126.3 869.2 130.3 869.7 134.5 870.6C138.8 871.4 144.0 872.2 148.7 872.9C153.4 873.6 158.3 874.6 162.9 874.8C167.4 875.1 171.4 875.3 176.1 874.3C180.8 873.4 185.6 871.1 191.2 869.1C196.9 867.2 203.7 864.5 210.1 862.5C216.6 860.6 226.7 858.2 230.0 857.3" stroke-dasharray="5.5 3.5"/>
<path d="M414.1 834.2C411.9 835.1 405.5 837.9 401.3 839.8C397.1 841.8 392.2 844.3 389.0 846.0C385.9 847.7 385.1 848.6 382.4 850.2C379.7 851.9 375.8 854.0 372.9 855.9C370.1 857.8 367.9 859.6 365.4 861.6C362.9 863.6 361.0 866.2 357.8 867.7C354.7 869.2 350.7 869.7 346.5 870.6C342.2 871.4 337.0 872.2 332.3 872.9C327.6 873.6 322.7 874.6 318.1 874.8C313.6 875.1 309.6 875.3 304.9 874.3C300.2 873.4 295.4 871.1 289.8 869.1C284.1 867.2 277.3 864.5 270.9 862.5C264.4 860.6 254.3 858.2 251.0 857.3" stroke-dasharray="5.5 3.5"/>
<path d="M66.5 862.5C67.3 861.3 68.8 857.2 71.2 855.0C73.6 852.8 77.2 850.7 80.6 849.3C84.1 847.9 90.1 846.9 92.0 846.5" stroke-dasharray="5.5 3.5"/>
<path d="M414.5 862.5C413.7 861.3 412.2 857.2 409.8 855.0C407.4 852.8 403.8 850.7 400.4 849.3C396.9 847.9 390.9 846.9 389.0 846.5" stroke-dasharray="5.5 3.5"/>
<path d="M92.0 846.5C93.4 847.6 97.2 850.1 100.5 853.1C103.8 856.1 108.1 860.8 111.8 864.4C115.6 868.0 119.4 872.0 123.2 874.8C127.0 877.7 130.3 878.6 134.5 881.4C138.8 884.3 144.6 888.5 148.7 891.8C152.8 895.1 156.1 898.1 159.1 901.3C162.1 904.4 164.7 908.4 166.7 910.7C168.6 913.1 170.2 914.7 170.9 915.5" stroke-dasharray="5.5 3.5"/>
<path d="M389.0 846.5C387.6 847.6 383.8 850.1 380.5 853.1C377.2 856.1 372.9 860.8 369.2 864.4C365.4 868.0 361.6 872.0 357.8 874.8C354.0 877.7 350.7 878.6 346.5 881.4C342.2 884.3 336.4 888.5 332.3 891.8C328.2 895.1 324.9 898.1 321.9 901.3C318.9 904.4 316.3 908.4 314.3 910.7C312.4 913.1 310.8 914.7 310.1 915.5" stroke-dasharray="5.5 3.5"/>
<path d="M123.2 867.7C125.1 868.8 131.1 871.9 134.5 873.9C138.0 875.8 140.8 877.5 144.0 879.5C147.1 881.6 150.6 883.8 153.4 886.2C156.3 888.5 158.9 891.0 161.0 893.7C163.0 896.4 164.1 899.4 165.7 902.2C167.3 905.1 169.0 907.7 170.4 910.7C171.9 913.7 173.1 916.9 174.2 920.2C175.3 923.5 176.6 928.9 177.1 930.6" stroke-dasharray="5.5 3.5"/>
<path d="M357.8 867.7C355.9 868.8 349.9 871.9 346.5 873.9C343.0 875.8 340.2 877.5 337.0 879.5C333.9 881.6 330.4 883.8 327.6 886.2C324.7 888.5 322.1 891.0 320.0 893.7C318.0 896.4 316.9 899.4 315.3 902.2C313.7 905.1 312.0 907.7 310.6 910.7C309.1 913.7 307.9 916.9 306.8 920.2C305.7 923.5 304.4 928.9 303.9 930.6" stroke-dasharray="5.5 3.5"/>
<path d="M240.5 729.0C238.1 729.2 230.1 729.2 226.2 730.0C222.3 730.8 219.7 731.6 217.1 733.6C214.5 735.6 212.9 739.0 210.8 741.7C208.7 744.4 206.0 746.6 204.5 749.8C203.0 753.0 202.1 756.9 201.8 760.7C201.5 764.5 201.6 768.9 202.7 772.4C203.8 775.9 206.5 778.8 208.1 781.5C209.7 784.2 211.2 785.7 212.2 788.7C213.2 791.7 213.2 796.4 214.0 799.6C214.8 802.8 216.0 805.2 217.1 807.7C218.2 810.2 219.9 812.2 220.7 814.9C221.5 817.6 221.8 821.3 222.1 824.0C222.4 826.7 222.4 830.0 222.5 831.2"/>
<path d="M240.5 729.0C242.9 729.2 250.9 729.2 254.8 730.0C258.7 730.8 261.3 731.6 263.9 733.6C266.5 735.6 268.1 739.0 270.2 741.7C272.3 744.4 275.0 746.6 276.5 749.8C278.0 753.0 278.9 756.9 279.2 760.7C279.5 764.5 279.4 768.9 278.3 772.4C277.2 775.9 274.5 778.8 272.9 781.5C271.3 784.2 269.8 785.7 268.8 788.7C267.8 791.7 267.8 796.4 267.0 799.6C266.2 802.8 265.0 805.2 263.9 807.7C262.8 810.2 261.1 812.2 260.3 814.9C259.5 817.6 259.2 821.3 258.9 824.0C258.6 826.7 258.6 830.0 258.5 831.2"/>
<path d="M222.9 833.9L226.2 840.3" stroke-dasharray="5.5 3.5"/>
<path d="M258.1 833.9L254.8 840.3" stroke-dasharray="5.5 3.5"/>
<path d="M230.4 901.9C230.5 898.0 230.9 886.1 231.1 878.7C231.3 871.4 231.1 862.3 231.6 857.9C232.1 853.5 232.4 853.6 233.9 852.1C235.4 850.6 239.3 849.6 240.4 849.1" stroke-dasharray="5.5 3.5"/>
<path d="M250.6 901.9C250.5 898.0 250.1 886.1 249.9 878.7C249.7 871.4 249.9 862.3 249.4 857.9C248.9 853.5 248.6 853.6 247.1 852.1C245.6 850.6 241.7 849.6 240.6 849.1" stroke-dasharray="5.5 3.5"/>
<path d="M177.5 931.1C178.2 929.7 179.5 925.3 181.8 923.0C184.1 920.7 187.4 919.2 191.2 917.4C195.0 915.5 200.4 913.0 204.5 911.7C208.6 910.3 213.5 909.5 215.8 909.3C218.1 909.2 217.8 909.9 218.2 910.7C218.6 911.6 218.2 913.9 218.2 914.5"/>
<path d="M303.5 931.1C302.8 929.7 301.5 925.3 299.2 923.0C296.9 920.7 293.6 919.2 289.8 917.4C286.0 915.5 280.6 913.0 276.5 911.7C272.4 910.3 267.5 909.5 265.2 909.3C262.9 909.2 263.2 909.9 262.8 910.7C262.4 911.6 262.8 913.9 262.8 914.5"/>
<path d="M178.0 931.5C180.2 930.9 185.9 929.6 191.2 927.8C196.6 925.9 203.8 922.7 210.1 920.2C216.4 917.7 224.0 914.8 229.0 912.6C234.1 910.4 238.6 907.9 240.5 907.0"/>
<path d="M303.0 931.5C300.8 930.9 295.1 929.6 289.8 927.8C284.4 925.9 277.2 922.7 270.9 920.2C264.6 917.7 257.0 914.8 252.0 912.6C246.9 910.4 242.4 907.9 240.5 907.0"/>
<path d="M196.9 924.9C197.1 925.5 198.8 926.8 197.8 928.7C196.9 930.6 193.0 933.9 191.2 936.3C189.5 938.6 187.8 940.7 187.4 942.9C187.1 945.1 188.1 947.6 189.3 949.5C190.6 951.4 192.8 952.6 195.0 954.2C197.2 955.8 199.2 957.6 202.6 958.9C206.0 960.3 209.1 960.8 215.4 962.1C221.7 963.4 236.3 966.0 240.5 966.7"/>
<path d="M284.1 924.9C283.9 925.5 282.2 926.8 283.2 928.7C284.1 930.6 288.0 933.9 289.8 936.3C291.5 938.6 293.2 940.7 293.6 942.9C293.9 945.1 292.9 947.6 291.7 949.5C290.4 951.4 288.2 952.6 286.0 954.2C283.8 955.8 281.8 957.6 278.4 958.9C275.0 960.3 271.9 960.8 265.6 962.1C259.3 963.4 244.7 966.0 240.5 966.7"/>
<path d="M193.1 952.3C193.6 951.1 194.1 947.4 196.0 944.8C197.8 942.1 201.3 938.8 204.5 936.3C207.6 933.7 210.8 931.7 214.9 929.6C219.0 927.6 224.8 925.4 229.0 924.0C233.3 922.5 238.6 921.4 240.5 920.9" stroke-dasharray="5.5 3.5"/>
<path d="M287.9 952.3C287.4 951.1 286.9 947.4 285.0 944.8C283.2 942.1 279.7 938.8 276.5 936.3C273.4 933.7 270.2 931.7 266.1 929.6C262.0 927.6 256.2 925.4 252.0 924.0C247.7 922.5 242.4 921.4 240.5 920.9" stroke-dasharray="5.5 3.5"/>
<path d="M14.2 950.0C15.8 952.5 20.3 959.4 23.6 964.8C27.0 970.2 30.7 976.2 34.3 982.5C37.8 988.8 40.8 995.5 44.9 1002.6C49.0 1009.7 54.0 1017.8 59.1 1025.1C64.2 1032.4 70.0 1039.7 75.6 1046.3C81.2 1052.9 89.9 1061.6 92.7 1064.6"/>
<path d="M466.8 950.0C465.2 952.5 460.7 959.4 457.4 964.8C454.0 970.2 450.3 976.2 446.7 982.5C443.2 988.8 440.2 995.5 436.1 1002.6C432.0 1009.7 427.0 1017.8 421.9 1025.1C416.8 1032.4 411.0 1039.7 405.4 1046.3C399.8 1052.9 391.1 1061.6 388.3 1064.6"/>
<path d="M20.1 951.2C21.5 951.6 25.8 953.1 28.4 953.6C30.9 954.1 32.9 955.1 35.4 954.4C38.0 953.8 42.3 950.5 43.7 949.7" stroke-dasharray="5.5 3.5"/>
<path d="M460.9 951.2C459.5 951.6 455.2 953.1 452.6 953.6C450.1 954.1 448.1 955.1 445.6 954.4C443.0 953.8 438.7 950.5 437.3 949.7" stroke-dasharray="5.5 3.5"/>
<path d="M35.4 954.4L39.0 958.9" stroke-dasharray="5.5 3.5"/>
<path d="M445.6 954.4L442.0 958.9" stroke-dasharray="5.5 3.5"/>
<path d="M34.3 981.4C34.6 980.4 35.6 977.5 36.0 975.4C36.4 973.4 35.9 970.8 36.6 968.9C37.3 967.1 38.7 965.0 40.2 964.2C41.6 963.4 43.3 963.5 45.5 964.2C47.7 964.9 50.7 966.5 53.2 968.4C55.6 970.2 58.1 973.4 60.3 975.4C62.4 977.5 64.7 979.7 66.2 980.8C67.6 981.8 68.9 980.9 69.1 981.9C69.3 983.0 68.4 985.6 67.3 987.3C66.3 988.9 64.0 990.2 62.6 992.0C61.2 993.8 59.7 995.8 59.1 997.9C58.5 1000.0 58.3 1001.4 59.1 1004.4C59.9 1007.3 61.4 1011.4 63.8 1015.6C66.2 1019.8 69.7 1025.1 73.3 1029.8C76.8 1034.5 81.1 1039.6 85.1 1044.0C89.0 1048.3 92.4 1052.2 96.9 1055.8C101.4 1059.3 106.7 1062.7 112.2 1065.2C117.8 1067.8 124.1 1069.7 130.0 1071.1C135.9 1072.6 142.8 1073.7 147.7 1074.1C152.6 1074.5 156.2 1074.0 159.5 1073.5C162.8 1073.0 166.0 1072.1 167.8 1071.1C169.5 1070.2 169.7 1068.2 170.1 1067.6"/>
<path d="M446.7 981.4C446.4 980.4 445.4 977.5 445.0 975.4C444.6 973.4 445.1 970.8 444.4 968.9C443.7 967.1 442.3 965.0 440.8 964.2C439.4 963.4 437.7 963.5 435.5 964.2C433.3 964.9 430.3 966.5 427.8 968.4C425.4 970.2 422.9 973.4 420.7 975.4C418.6 977.5 416.3 979.7 414.8 980.8C413.4 981.8 412.1 980.9 411.9 981.9C411.7 983.0 412.6 985.6 413.7 987.3C414.7 988.9 417.0 990.2 418.4 992.0C419.8 993.8 421.3 995.8 421.9 997.9C422.5 1000.0 422.7 1001.4 421.9 1004.4C421.1 1007.3 419.6 1011.4 417.2 1015.6C414.8 1019.8 411.3 1025.1 407.7 1029.8C404.2 1034.5 399.9 1039.6 395.9 1044.0C392.0 1048.3 388.6 1052.2 384.1 1055.8C379.6 1059.3 374.3 1062.7 368.8 1065.2C363.2 1067.8 356.9 1069.7 351.0 1071.1C345.1 1072.6 338.2 1073.7 333.3 1074.1C328.4 1074.5 324.8 1074.0 321.5 1073.5C318.2 1073.0 315.0 1072.1 313.2 1071.1C311.5 1070.2 311.3 1068.2 310.9 1067.6"/>
<path d="M170.1 1067.6C170.0 1069.2 169.3 1074.5 169.5 1077.1C169.7 1079.6 171.0 1082.0 171.3 1083.0"/>
<path d="M310.9 1067.6C311.0 1069.2 311.7 1074.5 311.5 1077.1C311.3 1079.6 310.0 1082.0 309.7 1083.0"/>
<path d="M69.1 981.6C70.4 981.5 73.7 981.0 76.8 981.4C79.8 981.7 83.5 982.1 87.4 983.7C91.4 985.3 96.3 988.4 100.4 990.8C104.6 993.2 108.3 995.3 112.2 997.9C116.2 1000.5 120.5 1003.8 124.1 1006.2C127.6 1008.5 129.6 1010.3 133.5 1012.1C137.4 1013.8 143.4 1015.4 147.7 1016.8C152.0 1018.2 156.0 1019.6 159.5 1020.3C163.0 1021.1 165.0 1021.7 169.0 1021.5C172.9 1021.3 177.8 1020.9 183.1 1019.2C188.4 1017.4 195.9 1013.3 200.9 1010.9C205.8 1008.5 208.5 1006.9 212.7 1005.0C216.8 1003.1 223.5 1000.6 225.7 999.7" stroke-dasharray="5.5 3.5"/>
<path d="M411.9 981.6C410.6 981.5 407.3 981.0 404.2 981.4C401.2 981.7 397.5 982.1 393.6 983.7C389.6 985.3 384.7 988.4 380.6 990.8C376.4 993.2 372.7 995.3 368.8 997.9C364.8 1000.5 360.5 1003.8 356.9 1006.2C353.4 1008.5 351.4 1010.3 347.5 1012.1C343.6 1013.8 337.6 1015.4 333.3 1016.8C329.0 1018.2 325.0 1019.6 321.5 1020.3C318.0 1021.1 316.0 1021.7 312.0 1021.5C308.1 1021.3 303.2 1020.9 297.9 1019.2C292.6 1017.4 285.1 1013.3 280.1 1010.9C275.2 1008.5 272.5 1006.9 268.3 1005.0C264.2 1003.1 257.5 1000.6 255.3 999.7" stroke-dasharray="5.5 3.5"/>
<path d="M63.2 994.3C64.5 993.8 67.6 991.5 70.9 990.8C74.1 990.1 79.4 990.2 82.7 990.2C86.1 990.2 88.0 989.3 91.0 990.8C93.9 992.3 95.9 995.3 100.4 999.1C105.0 1002.8 112.2 1008.7 118.1 1013.3C124.1 1017.8 130.0 1021.9 135.9 1026.2C141.8 1030.6 149.1 1035.3 153.6 1039.2C158.1 1043.2 160.7 1046.7 163.0 1049.9C165.4 1053.0 166.6 1055.2 167.8 1058.1C169.0 1061.1 169.7 1066.0 170.1 1067.6" stroke-dasharray="5.5 3.5"/>
<path d="M417.8 994.3C416.5 993.8 413.4 991.5 410.1 990.8C406.9 990.1 401.6 990.2 398.3 990.2C394.9 990.2 393.0 989.3 390.0 990.8C387.1 992.3 385.1 995.3 380.6 999.1C376.0 1002.8 368.8 1008.7 362.9 1013.3C356.9 1017.8 351.0 1021.9 345.1 1026.2C339.2 1030.6 331.9 1035.3 327.4 1039.2C322.9 1043.2 320.3 1046.7 318.0 1049.9C315.6 1053.0 314.4 1055.2 313.2 1058.1C312.0 1061.1 311.3 1066.0 310.9 1067.6" stroke-dasharray="5.5 3.5"/>
<path d="M133.5 1011.5C134.9 1012.6 138.4 1014.9 141.8 1018.0C145.1 1021.0 149.3 1025.7 153.6 1029.8C157.9 1033.9 163.8 1038.9 167.8 1042.8C171.7 1046.7 175.1 1049.9 177.2 1053.4C179.4 1057.0 180.3 1060.7 180.8 1064.1C181.3 1067.4 180.3 1071.9 180.2 1073.5" stroke-dasharray="5.5 3.5"/>
<path d="M347.5 1011.5C346.1 1012.6 342.6 1014.9 339.2 1018.0C335.9 1021.0 331.7 1025.7 327.4 1029.8C323.1 1033.9 317.2 1038.9 313.2 1042.8C309.3 1046.7 305.9 1049.9 303.8 1053.4C301.6 1057.0 300.7 1060.7 300.2 1064.1C299.7 1067.4 300.7 1071.9 300.8 1073.5" stroke-dasharray="5.5 3.5"/>
<path d="M180.5 1068.4C182.0 1067.7 186.4 1065.7 189.3 1064.0C192.2 1062.4 194.8 1060.2 198.1 1058.5C201.4 1056.9 204.9 1055.1 209.1 1054.1C213.3 1053.1 218.1 1052.8 223.4 1052.5C228.6 1052.1 237.6 1052.0 240.5 1051.9"/>
<path d="M300.5 1068.4C299.0 1067.7 294.6 1065.7 291.7 1064.0C288.8 1062.4 286.2 1060.2 282.9 1058.5C279.6 1056.9 276.1 1055.1 271.9 1054.1C267.7 1053.1 262.9 1052.8 257.6 1052.5C252.4 1052.1 243.4 1052.0 240.5 1051.9"/>
<path d="M234.3 982.7C233.5 983.4 230.8 984.7 229.4 986.6C228.0 988.4 226.8 990.7 226.1 993.7C225.5 996.7 225.3 1001.6 225.6 1004.7C225.8 1007.8 226.8 1010.5 227.8 1012.4C228.7 1014.3 230.5 1015.6 231.1 1016.2"/>
<path d="M246.7 982.7C247.5 983.4 250.2 984.7 251.6 986.6C253.0 988.4 254.2 990.7 254.9 993.7C255.5 996.7 255.7 1001.6 255.4 1004.7C255.2 1007.8 254.2 1010.5 253.2 1012.4C252.3 1014.3 250.5 1015.6 249.9 1016.2"/>
<path d="M233.8 983.8C233.3 985.1 231.1 988.0 230.5 991.5C229.9 995.0 229.8 1000.3 230.0 1004.7C230.1 1009.1 231.1 1014.0 231.6 1017.9C232.1 1021.7 232.5 1026.1 232.7 1027.8" stroke-dasharray="5.5 3.5"/>
<path d="M247.2 983.8C247.7 985.1 249.9 988.0 250.5 991.5C251.1 995.0 251.2 1000.3 251.0 1004.7C250.9 1009.1 249.9 1014.0 249.4 1017.9C248.9 1021.7 248.5 1026.1 248.3 1027.8" stroke-dasharray="5.5 3.5"/>
<path d="M6.9 1036.9C7.1 1038.9 6.1 1044.9 7.6 1048.5C9.2 1052.2 13.2 1055.3 16.2 1058.9C19.2 1062.6 22.1 1065.0 25.5 1070.5C28.9 1076.0 34.7 1088.5 36.6 1092.1"/>
<path d="M474.1 1036.9C473.9 1038.9 474.9 1044.9 473.4 1048.5C471.8 1052.2 467.8 1055.3 464.8 1058.9C461.8 1062.6 458.9 1065.0 455.5 1070.5C452.1 1076.0 446.3 1088.5 444.4 1092.1"/>
<path d="M6.9 1036.9C8.1 1039.6 11.2 1048.1 13.9 1053.2C16.6 1058.2 20.5 1063.0 23.2 1067.1C25.9 1071.1 28.9 1075.7 30.1 1077.5"/>
<path d="M474.1 1036.9C472.9 1039.6 469.8 1048.1 467.1 1053.2C464.4 1058.2 460.5 1063.0 457.8 1067.1C455.1 1071.1 452.1 1075.7 450.9 1077.5"/>
<path d="M36.6 1092.1C38.2 1095.0 42.6 1103.6 46.3 1109.9C50.1 1116.2 54.8 1123.4 59.1 1129.6C63.3 1135.8 68.3 1142.1 71.8 1147.0C75.3 1151.8 77.8 1155.6 79.9 1158.5C82.0 1161.4 82.6 1162.0 84.5 1164.3C86.5 1166.6 89.0 1169.7 91.5 1172.4C94.0 1175.1 96.7 1178.2 99.6 1180.5C102.5 1182.8 105.0 1184.2 108.8 1186.3C112.7 1188.4 117.3 1191.1 122.7 1193.3C128.1 1195.4 134.7 1197.5 141.3 1199.1C147.8 1200.6 156.9 1202.2 162.1 1202.5C167.3 1202.8 170.2 1201.7 172.5 1200.9C174.8 1200.1 175.4 1198.4 176.0 1197.9"/>
<path d="M444.4 1092.1C442.8 1095.0 438.4 1103.6 434.7 1109.9C430.9 1116.2 426.2 1123.4 421.9 1129.6C417.7 1135.8 412.7 1142.1 409.2 1147.0C405.7 1151.8 403.2 1155.6 401.1 1158.5C399.0 1161.4 398.4 1162.0 396.5 1164.3C394.5 1166.6 392.0 1169.7 389.5 1172.4C387.0 1175.1 384.3 1178.2 381.4 1180.5C378.5 1182.8 376.0 1184.2 372.2 1186.3C368.3 1188.4 363.7 1191.1 358.3 1193.3C352.9 1195.4 346.3 1197.5 339.7 1199.1C333.2 1200.6 324.1 1202.2 318.9 1202.5C313.7 1202.8 310.8 1201.7 308.5 1200.9C306.2 1200.1 305.6 1198.4 305.0 1197.9"/>
<path d="M36.6 1092.1C36.7 1090.8 36.7 1086.6 37.5 1084.4C38.4 1082.3 39.6 1080.2 41.7 1079.1C43.7 1078.0 46.7 1077.1 49.8 1077.9C52.9 1078.8 57.5 1082.3 60.2 1084.4C62.9 1086.5 64.8 1088.6 66.0 1090.7C67.2 1092.8 67.5 1094.5 67.2 1097.2C66.8 1099.8 64.5 1103.3 63.7 1106.4C62.8 1109.5 61.9 1111.4 62.1 1115.7C62.3 1119.9 62.8 1126.5 64.8 1131.9C66.9 1137.3 70.2 1142.9 74.1 1148.1C78.0 1153.3 83.0 1158.7 88.0 1163.2C93.0 1167.6 98.0 1171.3 104.2 1174.7C110.4 1178.2 117.7 1181.6 125.1 1184.0C132.4 1186.4 140.3 1188.4 148.2 1189.3C156.1 1190.3 167.9 1188.9 172.5 1189.8C177.2 1190.7 175.7 1193.0 176.0 1194.9C176.3 1196.8 174.5 1200.3 174.2 1201.4"/>
<path d="M444.4 1092.1C444.3 1090.8 444.3 1086.6 443.5 1084.4C442.6 1082.3 441.4 1080.2 439.3 1079.1C437.3 1078.0 434.3 1077.1 431.2 1077.9C428.1 1078.8 423.5 1082.3 420.8 1084.4C418.1 1086.5 416.2 1088.6 415.0 1090.7C413.8 1092.8 413.5 1094.5 413.8 1097.2C414.2 1099.8 416.5 1103.3 417.3 1106.4C418.2 1109.5 419.1 1111.4 418.9 1115.7C418.7 1119.9 418.2 1126.5 416.2 1131.9C414.1 1137.3 410.8 1142.9 406.9 1148.1C403.0 1153.3 398.0 1158.7 393.0 1163.2C388.0 1167.6 383.0 1171.3 376.8 1174.7C370.6 1178.2 363.3 1181.6 355.9 1184.0C348.6 1186.4 340.7 1188.4 332.8 1189.3C324.9 1190.3 313.1 1188.9 308.5 1189.8C303.8 1190.7 305.3 1193.0 305.0 1194.9C304.7 1196.8 306.5 1200.3 306.8 1201.4"/>
<path d="M67.2 1092.1C69.1 1091.8 74.7 1090.4 78.7 1090.7C82.8 1090.9 89.2 1091.8 91.5 1093.7C93.8 1095.5 92.4 1100.4 92.6 1101.8" stroke-dasharray="5.5 3.5"/>
<path d="M413.8 1092.1C411.9 1091.8 406.3 1090.4 402.3 1090.7C398.2 1090.9 391.8 1091.8 389.5 1093.7C387.2 1095.5 388.6 1100.4 388.4 1101.8" stroke-dasharray="5.5 3.5"/>
<path d="M62.5 1109.9C64.5 1108.9 69.3 1105.5 74.1 1104.1C78.9 1102.8 86.1 1100.6 91.5 1101.8C96.9 1103.0 100.5 1107.2 106.5 1111.1C112.5 1114.9 120.8 1120.9 127.4 1125.0C133.9 1129.0 140.1 1133.1 145.9 1135.4C151.7 1137.7 156.3 1138.1 162.1 1138.8C167.9 1139.6 174.5 1140.7 180.6 1140.0C186.8 1139.3 193.4 1136.8 199.2 1134.7C205.0 1132.6 210.6 1130.4 215.4 1127.3C220.2 1124.1 226.0 1117.6 228.1 1115.7" stroke-dasharray="5.5 3.5"/>
<path d="M418.5 1109.9C416.5 1108.9 411.7 1105.5 406.9 1104.1C402.1 1102.8 394.9 1100.6 389.5 1101.8C384.1 1103.0 380.5 1107.2 374.5 1111.1C368.5 1114.9 360.2 1120.9 353.6 1125.0C347.1 1129.0 340.9 1133.1 335.1 1135.4C329.3 1137.7 324.7 1138.1 318.9 1138.8C313.1 1139.6 306.5 1140.7 300.4 1140.0C294.2 1139.3 287.6 1136.8 281.8 1134.7C276.0 1132.6 270.4 1130.4 265.6 1127.3C260.8 1124.1 255.0 1117.6 252.9 1115.7" stroke-dasharray="5.5 3.5"/>
<path d="M91.5 1101.8C94.8 1104.9 104.8 1114.9 111.2 1120.3C117.5 1125.7 123.5 1130.0 129.7 1134.2C135.9 1138.5 142.8 1141.5 148.2 1145.8C153.6 1150.0 157.9 1154.9 162.1 1159.7C166.4 1164.5 170.2 1169.5 173.7 1174.7C177.2 1180.0 181.4 1188.3 183.0 1191.0" stroke-dasharray="5.5 3.5"/>
<path d="M389.5 1101.8C386.2 1104.9 376.2 1114.9 369.8 1120.3C363.5 1125.7 357.5 1130.0 351.3 1134.2C345.1 1138.5 338.2 1141.5 332.8 1145.8C327.4 1150.0 323.1 1154.9 318.9 1159.7C314.6 1164.5 310.8 1169.5 307.3 1174.7C303.8 1180.0 299.6 1188.3 298.0 1191.0" stroke-dasharray="5.5 3.5"/>
<path d="M145.9 1136.1C147.3 1137.5 150.5 1140.7 154.0 1144.6C157.5 1148.6 162.5 1154.7 166.7 1159.7C171.0 1164.7 176.0 1169.3 179.5 1174.7C183.0 1180.1 186.2 1189.2 187.6 1192.1" stroke-dasharray="5.5 3.5"/>
<path d="M335.1 1136.1C333.7 1137.5 330.5 1140.7 327.0 1144.6C323.5 1148.6 318.5 1154.7 314.3 1159.7C310.0 1164.7 305.0 1169.3 301.5 1174.7C298.0 1180.1 294.8 1189.2 293.4 1192.1" stroke-dasharray="5.5 3.5"/>
<path d="M230.9 1099.5C230.8 1102.6 230.4 1112.0 230.4 1118.0C230.4 1124.0 230.8 1132.5 230.9 1135.4"/>
<path d="M250.1 1099.5C250.2 1102.6 250.6 1112.0 250.6 1118.0C250.6 1124.0 250.2 1132.5 250.1 1135.4"/>
<path d="M231.6 1099.5C232.4 1098.0 234.7 1093.0 236.2 1090.7C237.7 1088.4 239.8 1086.4 240.5 1085.6" stroke-dasharray="5.5 3.5"/>
<path d="M249.4 1099.5C248.6 1098.0 246.3 1093.0 244.8 1090.7C243.3 1088.4 241.2 1086.4 240.5 1085.6" stroke-dasharray="5.5 3.5"/>
<path d="M186.4 1189.8C187.2 1188.2 189.3 1185.9 192.2 1184.0C195.1 1182.2 200.5 1179.8 203.8 1178.7C207.1 1177.5 210.1 1176.6 211.9 1177.1C213.8 1177.6 215.3 1179.9 214.9 1181.7C214.5 1183.5 212.4 1186.2 209.6 1187.9C206.8 1189.7 201.7 1191.1 198.0 1192.1C194.3 1193.1 189.5 1194.1 187.6 1193.7C185.7 1193.3 185.7 1191.4 186.4 1189.8Z"/>
<path d="M294.6 1189.8C293.8 1188.2 291.7 1185.9 288.8 1184.0C285.9 1182.2 280.5 1179.8 277.2 1178.7C273.9 1177.5 270.9 1176.6 269.1 1177.1C267.2 1177.6 265.7 1179.9 266.1 1181.7C266.5 1183.5 268.6 1186.2 271.4 1187.9C274.2 1189.7 279.3 1191.1 283.0 1192.1C286.7 1193.1 291.5 1194.1 293.4 1193.7C295.3 1193.3 295.3 1191.4 294.6 1189.8Z"/>
<path d="M213.1 1178.7C214.6 1177.5 219.2 1173.4 222.3 1171.7C225.4 1170.0 228.6 1169.1 231.6 1168.5C234.6 1167.8 239.0 1167.9 240.5 1167.8"/>
<path d="M267.9 1178.7C266.4 1177.5 261.8 1173.4 258.7 1171.7C255.6 1170.0 252.4 1169.1 249.4 1168.5C246.4 1167.8 242.0 1167.9 240.5 1167.8"/>
<path d="M174.8 1200.2C176.2 1199.3 181.0 1196.0 183.0 1194.9C184.9 1193.7 185.8 1193.5 186.4 1193.3"/>
<path d="M306.2 1200.2C304.8 1199.3 300.0 1196.0 298.0 1194.9C296.1 1193.7 295.2 1193.5 294.6 1193.3"/>
<path d="M23.2 1174.3C24.7 1177.2 28.9 1185.7 32.4 1191.7C35.9 1197.7 40.3 1204.2 44.0 1210.2C47.7 1216.2 52.7 1224.7 54.4 1227.6"/>
<path d="M457.8 1174.3C456.3 1177.2 452.1 1185.7 448.6 1191.7C445.1 1197.7 440.7 1204.2 437.0 1210.2C433.3 1216.2 428.3 1224.7 426.6 1227.6"/>
<path d="M34.7 1207.9C36.3 1209.4 40.7 1213.9 44.0 1217.2C47.3 1220.4 52.7 1225.8 54.4 1227.6"/>
<path d="M446.3 1207.9C444.7 1209.4 440.3 1213.9 437.0 1217.2C433.7 1220.4 428.3 1225.8 426.6 1227.6"/>
<path d="M42.8 1202.1C45.0 1201.7 51.5 1199.2 55.6 1199.8C59.6 1200.4 64.1 1203.3 67.2 1205.6C70.2 1207.9 72.8 1211.0 74.1 1213.7C75.5 1216.4 75.3 1218.9 75.3 1221.8C75.3 1224.7 74.1 1226.8 74.1 1231.1C74.1 1235.3 73.7 1241.9 75.3 1247.3C76.8 1252.7 79.7 1258.1 83.4 1263.5C87.0 1268.9 91.9 1274.9 97.3 1279.7C102.7 1284.5 108.8 1289.0 115.8 1292.4C122.7 1295.9 131.2 1298.6 139.0 1300.5C146.7 1302.5 155.4 1303.4 162.1 1304.0C168.9 1304.6 176.6 1304.0 179.5 1304.0"/>
<path d="M438.2 1202.1C436.0 1201.7 429.5 1199.2 425.4 1199.8C421.4 1200.4 416.9 1203.3 413.8 1205.6C410.8 1207.9 408.2 1211.0 406.9 1213.7C405.5 1216.4 405.7 1218.9 405.7 1221.8C405.7 1224.7 406.9 1226.8 406.9 1231.1C406.9 1235.3 407.3 1241.9 405.7 1247.3C404.2 1252.7 401.3 1258.1 397.6 1263.5C394.0 1268.9 389.1 1274.9 383.7 1279.7C378.3 1284.5 372.2 1289.0 365.2 1292.4C358.3 1295.9 349.8 1298.6 342.0 1300.5C334.3 1302.5 325.6 1303.4 318.9 1304.0C312.1 1304.6 304.4 1304.0 301.5 1304.0"/>
<path d="M54.4 1227.6C56.4 1231.1 62.3 1242.4 66.0 1248.4C69.7 1254.4 73.3 1258.5 76.4 1263.5C79.5 1268.5 81.4 1273.9 84.5 1278.5C87.6 1283.2 90.9 1287.6 95.0 1291.3C99.0 1294.9 103.6 1297.8 108.8 1300.5C114.1 1303.2 121.2 1305.6 126.2 1307.5C131.2 1309.4 133.7 1310.5 139.0 1312.1C144.2 1313.7 152.1 1316.2 157.5 1317.2C162.9 1318.2 167.5 1318.4 171.4 1317.9C175.2 1317.4 177.7 1315.8 180.6 1314.4C183.5 1313.1 187.4 1310.6 188.7 1309.8"/>
<path d="M426.6 1227.6C424.6 1231.1 418.7 1242.4 415.0 1248.4C411.3 1254.4 407.7 1258.5 404.6 1263.5C401.5 1268.5 399.6 1273.9 396.5 1278.5C393.4 1283.2 390.1 1287.6 386.0 1291.3C382.0 1294.9 377.4 1297.8 372.2 1300.5C366.9 1303.2 359.8 1305.6 354.8 1307.5C349.8 1309.4 347.3 1310.5 342.0 1312.1C336.8 1313.7 328.9 1316.2 323.5 1317.2C318.1 1318.2 313.5 1318.4 309.6 1317.9C305.8 1317.4 303.3 1315.8 300.4 1314.4C297.5 1313.1 293.6 1310.6 292.3 1309.8"/>
<path d="M179.5 1304.0L180.6 1314.4"/>
<path d="M301.5 1304.0L300.4 1314.4"/>
<path d="M66.7 1249.6C66.7 1248.3 68.3 1247.8 69.5 1248.4C70.6 1249.0 72.7 1251.5 73.6 1253.1C74.6 1254.6 75.4 1256.6 75.3 1257.7C75.2 1258.7 73.9 1259.6 73.0 1259.3C72.0 1259.0 70.5 1257.7 69.5 1256.1C68.4 1254.4 66.7 1250.9 66.7 1249.6Z"/>
<path d="M414.3 1249.6C414.3 1248.3 412.7 1247.8 411.5 1248.4C410.4 1249.0 408.3 1251.5 407.4 1253.1C406.4 1254.6 405.6 1256.6 405.7 1257.7C405.8 1258.7 407.1 1259.6 408.0 1259.3C409.0 1259.0 410.5 1257.7 411.5 1256.1C412.6 1254.4 414.3 1250.9 414.3 1249.6Z"/>
<path d="M77.1 1263.5C77.3 1262.7 78.5 1262.5 79.4 1263.0C80.4 1263.5 82.0 1265.3 82.7 1266.5C83.3 1267.6 83.6 1269.2 83.4 1270.0C83.1 1270.7 81.9 1271.3 81.1 1270.9C80.2 1270.5 78.9 1268.9 78.3 1267.6C77.6 1266.4 76.9 1264.3 77.1 1263.5Z"/>
<path d="M403.9 1263.5C403.7 1262.7 402.5 1262.5 401.6 1263.0C400.6 1263.5 399.0 1265.3 398.3 1266.5C397.7 1267.6 397.4 1269.2 397.6 1270.0C397.9 1270.7 399.1 1271.3 399.9 1270.9C400.8 1270.5 402.1 1268.9 402.7 1267.6C403.4 1266.4 404.1 1264.3 403.9 1263.5Z"/>
<path d="M71.8 1207.9C75.3 1209.4 86.1 1214.4 92.6 1217.2C99.2 1219.9 105.0 1220.9 111.2 1224.6C117.3 1228.2 124.3 1234.4 129.7 1239.2C135.1 1243.9 139.5 1248.9 143.6 1253.1C147.6 1257.2 152.3 1262.3 154.0 1264.2" stroke-dasharray="5.5 3.5"/>
<path d="M409.2 1207.9C405.7 1209.4 394.9 1214.4 388.4 1217.2C381.8 1219.9 376.0 1220.9 369.8 1224.6C363.7 1228.2 356.7 1234.4 351.3 1239.2C345.9 1243.9 341.5 1248.9 337.4 1253.1C333.4 1257.2 328.7 1262.3 327.0 1264.2" stroke-dasharray="5.5 3.5"/>
<path d="M76.4 1231.1C77.8 1229.6 81.4 1224.1 84.5 1222.3C87.6 1220.4 90.5 1218.9 95.0 1219.9C99.4 1221.0 105.4 1224.6 111.2 1228.7C117.0 1232.9 123.5 1239.6 129.7 1245.0C135.9 1250.3 143.6 1257.4 148.2 1260.7C152.8 1264.0 155.9 1264.0 157.5 1264.6" stroke-dasharray="5.5 3.5"/>
<path d="M404.6 1231.1C403.2 1229.6 399.6 1224.1 396.5 1222.3C393.4 1220.4 390.5 1218.9 386.0 1219.9C381.6 1221.0 375.6 1224.6 369.8 1228.7C364.0 1232.9 357.5 1239.6 351.3 1245.0C345.1 1250.3 337.4 1257.4 332.8 1260.7C328.2 1264.0 325.1 1264.0 323.5 1264.6" stroke-dasharray="5.5 3.5"/>
<path d="M154.0 1264.6C157.7 1263.7 168.9 1261.0 176.0 1258.8C183.1 1256.7 188.9 1254.4 196.9 1251.9C204.8 1249.4 219.0 1245.1 223.5 1243.8" stroke-dasharray="5.5 3.5"/>
<path d="M327.0 1264.6C323.3 1263.7 312.1 1261.0 305.0 1258.8C297.9 1256.7 292.1 1254.4 284.1 1251.9C276.2 1249.4 262.0 1245.1 257.5 1243.8" stroke-dasharray="5.5 3.5"/>
<path d="M154.0 1264.6C156.1 1266.8 163.1 1272.9 166.7 1277.4C170.4 1281.8 173.9 1286.8 176.0 1291.3C178.1 1295.7 178.9 1301.9 179.5 1304.0" stroke-dasharray="5.5 3.5"/>
<path d="M327.0 1264.6C324.9 1266.8 317.9 1272.9 314.3 1277.4C310.6 1281.8 307.1 1286.8 305.0 1291.3C302.9 1295.7 302.1 1301.9 301.5 1304.0" stroke-dasharray="5.5 3.5"/>
<path d="M225.8 1251.9C225.5 1250.4 224.2 1245.7 224.2 1242.6C224.2 1239.5 224.8 1235.9 225.8 1233.4C226.8 1230.9 229.7 1228.5 230.4 1227.6"/>
<path d="M255.2 1251.9C255.5 1250.4 256.8 1245.7 256.8 1242.6C256.8 1239.5 256.2 1235.9 255.2 1233.4C254.2 1230.9 251.3 1228.5 250.6 1227.6"/>
<path d="M225.8 1251.9C226.4 1251.1 228.4 1249.6 229.3 1247.3C230.2 1245.0 230.9 1241.3 231.1 1238.0C231.3 1234.7 230.5 1229.3 230.4 1227.6"/>
<path d="M255.2 1251.9C254.6 1251.1 252.6 1249.6 251.7 1247.3C250.8 1245.0 250.1 1241.3 249.9 1238.0C249.7 1234.7 250.5 1229.3 250.6 1227.6"/>
<path d="M230.9 1226.4C231.4 1225.1 232.3 1220.6 233.9 1218.3C235.5 1216.0 239.4 1213.5 240.5 1212.5" stroke-dasharray="5.5 3.5"/>
<path d="M250.1 1226.4C249.6 1225.1 248.7 1220.6 247.1 1218.3C245.5 1216.0 241.6 1213.5 240.5 1212.5" stroke-dasharray="5.5 3.5"/>
<path d="M188.7 1302.8C188.9 1300.7 190.1 1297.5 192.2 1295.9C194.3 1294.3 198.4 1293.4 201.5 1293.1C204.6 1292.8 208.6 1293.2 210.7 1294.0C212.9 1294.9 214.6 1296.4 214.2 1298.2C213.8 1300.1 210.9 1303.3 208.4 1305.2C205.9 1307.0 202.1 1308.8 199.2 1309.3C196.3 1309.9 192.8 1309.7 191.1 1308.6C189.3 1307.6 188.6 1305.0 188.7 1302.8Z"/>
<path d="M292.3 1302.8C292.1 1300.7 290.9 1297.5 288.8 1295.9C286.7 1294.3 282.6 1293.4 279.5 1293.1C276.4 1292.8 272.4 1293.2 270.3 1294.0C268.1 1294.9 266.4 1296.4 266.8 1298.2C267.2 1300.1 270.1 1303.3 272.6 1305.2C275.1 1307.0 278.9 1308.8 281.8 1309.3C284.7 1309.9 288.2 1309.7 289.9 1308.6C291.7 1307.6 292.4 1305.0 292.3 1302.8Z"/>
<path d="M214.2 1294.7C216.3 1293.4 223.3 1288.5 227.0 1286.6C230.6 1284.8 234.0 1284.6 236.2 1283.9C238.5 1283.2 239.8 1282.7 240.5 1282.5"/>
<path d="M266.8 1294.7C264.7 1293.4 257.7 1288.5 254.0 1286.6C250.4 1284.8 247.0 1284.6 244.8 1283.9C242.5 1283.2 241.2 1282.7 240.5 1282.5"/>
<path d="M16.2 1296.5C17.8 1298.9 22.4 1306.1 25.5 1310.8C28.6 1315.6 31.7 1319.1 34.7 1324.7C37.8 1330.3 42.5 1341.1 44.0 1344.4"/>
<path d="M464.8 1296.5C463.2 1298.9 458.6 1306.1 455.5 1310.8C452.4 1315.6 449.3 1319.1 446.3 1324.7C443.2 1330.3 438.5 1341.1 437.0 1344.4"/>
<path d="M11.6 1307.4C13.1 1309.1 17.4 1313.7 20.8 1317.8C24.3 1321.8 28.6 1327.2 32.4 1331.7C36.3 1336.1 42.1 1342.3 44.0 1344.4"/>
<path d="M469.4 1307.4C467.9 1309.1 463.6 1313.7 460.2 1317.8C456.7 1321.8 452.4 1327.2 448.6 1331.7C444.7 1336.1 438.9 1342.3 437.0 1344.4"/>
<path d="M44.0 1344.4C45.5 1347.3 49.8 1356.2 53.3 1361.8C56.7 1367.4 62.1 1373.8 64.8 1378.0C67.5 1382.2 67.2 1383.8 69.5 1387.3C71.8 1390.7 74.1 1394.6 78.7 1398.8C83.4 1403.1 90.3 1408.5 97.3 1412.7C104.2 1417.0 112.7 1421.0 120.4 1424.3C128.1 1427.6 136.6 1430.3 143.6 1432.4C150.5 1434.5 158.1 1435.6 162.1 1437.1C166.2 1438.5 165.6 1440.4 167.9 1441.0C170.2 1441.6 173.1 1441.3 176.0 1440.5C178.9 1439.8 183.0 1438.1 185.3 1436.4C187.6 1434.6 189.1 1431.2 189.9 1430.1"/>
<path d="M437.0 1344.4C435.5 1347.3 431.2 1356.2 427.7 1361.8C424.3 1367.4 418.9 1373.8 416.2 1378.0C413.5 1382.2 413.8 1383.8 411.5 1387.3C409.2 1390.7 406.9 1394.6 402.3 1398.8C397.6 1403.1 390.7 1408.5 383.7 1412.7C376.8 1417.0 368.3 1421.0 360.6 1424.3C352.9 1427.6 344.4 1430.3 337.4 1432.4C330.5 1434.5 322.9 1435.6 318.9 1437.1C314.8 1438.5 315.4 1440.4 313.1 1441.0C310.8 1441.6 307.9 1441.3 305.0 1440.5C302.1 1439.8 298.0 1438.1 295.7 1436.4C293.4 1434.6 291.9 1431.2 291.1 1430.1"/>
<path d="M45.2 1345.6C45.9 1346.0 48.2 1345.6 49.8 1347.9C51.3 1350.2 53.9 1357.0 54.4 1359.5C54.9 1362.0 53.7 1363.0 52.8 1363.0C51.9 1363.0 49.7 1360.1 49.1 1359.5"/>
<path d="M435.8 1345.6C435.1 1346.0 432.8 1345.6 431.2 1347.9C429.7 1350.2 427.1 1357.0 426.6 1359.5C426.1 1362.0 427.3 1363.0 428.2 1363.0C429.1 1363.0 431.3 1360.1 431.9 1359.5"/>
<path d="M37.1 1320.1C38.6 1319.5 43.2 1316.8 46.3 1316.6C49.4 1316.4 52.5 1316.6 55.6 1318.9C58.7 1321.3 63.1 1327.1 64.8 1330.5C66.6 1334.0 66.2 1337.3 66.0 1339.8C65.8 1342.3 64.3 1343.1 63.7 1345.6C63.1 1348.1 62.1 1351.0 62.5 1354.8C62.9 1358.7 63.7 1363.7 66.0 1368.7C68.3 1373.8 72.0 1379.9 76.4 1385.0C80.9 1390.0 86.1 1394.6 92.6 1398.8C99.2 1403.1 108.1 1407.1 115.8 1410.4C123.5 1413.7 131.2 1416.4 139.0 1418.5C146.7 1420.7 155.2 1422.2 162.1 1423.2C169.1 1424.1 176.0 1424.3 180.6 1424.3C185.3 1424.3 188.4 1423.4 189.9 1423.2" stroke-dasharray="5.5 3.5"/>
<path d="M443.9 1320.1C442.4 1319.5 437.8 1316.8 434.7 1316.6C431.6 1316.4 428.5 1316.6 425.4 1318.9C422.3 1321.3 417.9 1327.1 416.2 1330.5C414.4 1334.0 414.8 1337.3 415.0 1339.8C415.2 1342.3 416.7 1343.1 417.3 1345.6C417.9 1348.1 418.9 1351.0 418.5 1354.8C418.1 1358.7 417.3 1363.7 415.0 1368.7C412.7 1373.8 409.0 1379.9 404.6 1385.0C400.1 1390.0 394.9 1394.6 388.4 1398.8C381.8 1403.1 372.9 1407.1 365.2 1410.4C357.5 1413.7 349.8 1416.4 342.0 1418.5C334.3 1420.7 325.8 1422.2 318.9 1423.2C311.9 1424.1 305.0 1424.3 300.4 1424.3C295.7 1424.3 292.6 1423.4 291.1 1423.2" stroke-dasharray="5.5 3.5"/>
<path d="M63.7 1344.4C66.2 1343.5 73.7 1340.8 78.7 1338.6C83.8 1336.5 91.3 1332.8 93.8 1331.7" stroke-dasharray="5.5 3.5"/>
<path d="M417.3 1344.4C414.8 1343.5 407.3 1340.8 402.3 1338.6C397.2 1336.5 389.7 1332.8 387.2 1331.7" stroke-dasharray="5.5 3.5"/>
<path d="M92.6 1334.0C95.3 1335.9 102.7 1341.3 108.8 1345.6C115.0 1349.8 123.1 1355.8 129.7 1359.5C136.3 1363.1 141.3 1365.7 148.2 1367.6C155.2 1369.5 163.7 1370.7 171.4 1371.1C179.1 1371.4 187.2 1371.4 194.5 1369.9C201.9 1368.4 210.2 1363.7 215.4 1361.8C220.6 1359.9 224.1 1358.9 225.8 1358.3" stroke-dasharray="5.5 3.5"/>
<path d="M388.4 1334.0C385.7 1335.9 378.3 1341.3 372.2 1345.6C366.0 1349.8 357.9 1355.8 351.3 1359.5C344.7 1363.1 339.7 1365.7 332.8 1367.6C325.8 1369.5 317.3 1370.7 309.6 1371.1C301.9 1371.4 293.8 1371.4 286.5 1369.9C279.1 1368.4 270.8 1363.7 265.6 1361.8C260.4 1359.9 256.9 1358.9 255.2 1358.3" stroke-dasharray="5.5 3.5"/>
<path d="M139.0 1364.1C140.9 1366.8 145.9 1374.9 150.5 1380.3C155.2 1385.7 161.3 1391.5 166.7 1396.5C172.1 1401.5 178.7 1406.6 183.0 1410.4C187.2 1414.3 190.7 1418.1 192.2 1419.7" stroke-dasharray="5.5 3.5"/>
<path d="M342.0 1364.1C340.1 1366.8 335.1 1374.9 330.5 1380.3C325.8 1385.7 319.7 1391.5 314.3 1396.5C308.9 1401.5 302.3 1406.6 298.0 1410.4C293.8 1414.3 290.3 1418.1 288.8 1419.7" stroke-dasharray="5.5 3.5"/>
<path d="M227.0 1358.3C227.0 1355.8 226.6 1347.5 227.4 1343.3C228.2 1339.0 230.1 1335.2 231.6 1332.8C233.1 1330.5 234.7 1329.7 236.2 1328.9C237.7 1328.1 239.8 1328.3 240.5 1328.2"/>
<path d="M254.0 1358.3C254.0 1355.8 254.4 1347.5 253.6 1343.3C252.8 1339.0 250.9 1335.2 249.4 1332.8C247.9 1330.5 246.3 1329.7 244.8 1328.9C243.3 1328.1 241.2 1328.3 240.5 1328.2"/>
<path d="M231.6 1359.0C231.7 1356.6 231.7 1348.4 232.3 1344.4C232.9 1340.4 234.0 1337.3 235.1 1335.2C236.1 1333.0 238.0 1332.3 238.5 1331.7"/>
<path d="M249.4 1359.0C249.3 1356.6 249.3 1348.4 248.7 1344.4C248.1 1340.4 247.0 1337.3 245.9 1335.2C244.9 1333.0 243.0 1332.3 242.5 1331.7"/>
<path d="M194.5 1423.2C194.4 1421.6 195.0 1418.8 196.4 1417.4C197.7 1415.9 200.7 1414.6 202.6 1414.6C204.6 1414.6 206.8 1415.9 208.0 1417.4C209.1 1418.8 210.3 1421.5 209.6 1423.2C208.9 1424.8 205.8 1426.5 203.8 1427.1C201.8 1427.7 198.9 1427.3 197.3 1426.6C195.8 1426.0 194.7 1424.7 194.5 1423.2Z"/>
<path d="M286.5 1423.2C286.6 1421.6 286.0 1418.8 284.6 1417.4C283.3 1415.9 280.3 1414.6 278.4 1414.6C276.4 1414.6 274.2 1415.9 273.0 1417.4C271.9 1418.8 270.7 1421.5 271.4 1423.2C272.1 1424.8 275.2 1426.5 277.2 1427.1C279.2 1427.7 282.1 1427.3 283.7 1426.6C285.2 1426.0 286.3 1424.7 286.5 1423.2Z"/>
<path d="M209.6 1423.9C211.7 1423.7 218.7 1423.2 222.3 1422.9C226.0 1422.6 228.6 1422.2 231.6 1422.0C234.6 1421.8 239.0 1421.6 240.5 1421.5"/>
<path d="M271.4 1423.9C269.3 1423.7 262.3 1423.2 258.7 1422.9C255.0 1422.6 252.4 1422.2 249.4 1422.0C246.4 1421.8 242.0 1421.6 240.5 1421.5"/>
<path d="M192.2 1418.5C195.7 1417.0 205.0 1411.8 213.1 1409.3C221.1 1406.8 235.9 1404.4 240.5 1403.5" stroke-dasharray="5.5 3.5"/>
<path d="M288.8 1418.5C285.3 1417.0 276.0 1411.8 267.9 1409.3C259.9 1406.8 245.1 1404.4 240.5 1403.5" stroke-dasharray="5.5 3.5"/>
<path d="M412.2 1378.0C413.1 1378.2 415.2 1379.5 415.7 1380.8C416.2 1382.0 415.7 1384.4 415.0 1385.4C414.4 1386.4 412.7 1387.2 411.8 1386.8C410.8 1386.4 409.7 1384.3 409.4 1383.1C409.2 1381.9 409.9 1380.2 410.4 1379.4C410.8 1378.5 411.3 1377.8 412.2 1378.0Z"/>
<path d="M5.8 1393.1C8.3 1396.7 16.0 1408.3 20.8 1415.1C25.7 1421.8 29.9 1426.8 34.7 1433.6C39.6 1440.3 47.3 1451.9 49.8 1455.6"/>
<path d="M475.2 1393.1C472.7 1396.7 465.0 1408.3 460.2 1415.1C455.3 1421.8 451.1 1426.8 446.3 1433.6C441.4 1440.3 433.7 1451.9 431.2 1455.6"/>
<path d="M18.5 1411.6C21.2 1415.6 29.5 1428.6 34.7 1435.9C39.9 1443.2 47.3 1452.3 49.8 1455.6"/>
<path d="M462.5 1411.6C459.8 1415.6 451.5 1428.6 446.3 1435.9C441.1 1443.2 433.7 1452.3 431.2 1455.6"/>
<path d="M49.8 1455.6C51.5 1458.1 57.3 1466.2 60.2 1470.6C63.1 1475.1 64.5 1478.0 67.2 1482.2C69.9 1486.5 72.6 1491.5 76.4 1496.1C80.3 1500.7 84.9 1506.1 90.3 1510.0C95.7 1513.9 101.9 1516.6 108.8 1519.3C115.8 1522.0 123.9 1524.1 132.0 1526.2C140.1 1528.3 149.4 1530.5 157.5 1532.0C165.6 1533.6 175.0 1534.5 180.6 1535.5C186.2 1536.4 189.3 1537.4 191.1 1537.8"/>
<path d="M431.2 1455.6C429.5 1458.1 423.7 1466.2 420.8 1470.6C417.9 1475.1 416.5 1478.0 413.8 1482.2C411.1 1486.5 408.4 1491.5 404.6 1496.1C400.7 1500.7 396.1 1506.1 390.7 1510.0C385.3 1513.9 379.1 1516.6 372.2 1519.3C365.2 1522.0 357.1 1524.1 349.0 1526.2C340.9 1528.3 331.6 1530.5 323.5 1532.0C315.4 1533.6 306.0 1534.5 300.4 1535.5C294.8 1536.4 291.7 1537.4 289.9 1537.8"/>
<path d="M49.8 1455.6C49.0 1454.2 45.8 1450.4 45.2 1447.5C44.5 1444.6 44.3 1440.5 45.9 1438.2C47.4 1435.9 51.5 1433.4 54.4 1433.6C57.4 1433.8 61.3 1436.3 63.7 1439.4C66.1 1442.5 67.3 1447.3 69.0 1452.1C70.8 1456.9 72.1 1463.3 74.1 1468.3C76.1 1473.3 78.0 1477.6 81.1 1482.2C84.1 1486.9 87.6 1491.9 92.6 1496.1C97.7 1500.4 104.2 1504.4 111.2 1507.7C118.1 1511.0 126.6 1513.5 134.3 1515.8C142.0 1518.1 150.5 1520.2 157.5 1521.6C164.4 1523.0 170.4 1523.4 176.0 1524.4C181.6 1525.3 188.6 1526.9 191.1 1527.4"/>
<path d="M431.2 1455.6C432.0 1454.2 435.2 1450.4 435.8 1447.5C436.5 1444.6 436.7 1440.5 435.1 1438.2C433.6 1435.9 429.5 1433.4 426.6 1433.6C423.6 1433.8 419.7 1436.3 417.3 1439.4C414.9 1442.5 413.7 1447.3 412.0 1452.1C410.2 1456.9 408.9 1463.3 406.9 1468.3C404.9 1473.3 403.0 1477.6 399.9 1482.2C396.9 1486.9 393.4 1491.9 388.4 1496.1C383.3 1500.4 376.8 1504.4 369.8 1507.7C362.9 1511.0 354.4 1513.5 346.7 1515.8C339.0 1518.1 330.5 1520.2 323.5 1521.6C316.6 1523.0 310.6 1523.4 305.0 1524.4C299.4 1525.3 292.4 1526.9 289.9 1527.4"/>
<path d="M78.7 1473.0C78.9 1471.0 78.0 1464.5 79.9 1461.4C81.8 1458.2 86.7 1455.3 90.3 1454.0C94.0 1452.6 97.7 1452.4 101.9 1453.3C106.1 1454.1 111.2 1456.2 115.8 1459.1C120.4 1462.0 125.4 1466.6 129.7 1470.6C133.9 1474.7 139.3 1481.3 141.3 1483.4" stroke-dasharray="5.5 3.5"/>
<path d="M402.3 1473.0C402.1 1471.0 403.0 1464.5 401.1 1461.4C399.2 1458.2 394.3 1455.3 390.7 1454.0C387.0 1452.6 383.3 1452.4 379.1 1453.3C374.9 1454.1 369.8 1456.2 365.2 1459.1C360.6 1462.0 355.6 1466.6 351.3 1470.6C347.1 1474.7 341.7 1481.3 339.7 1483.4" stroke-dasharray="5.5 3.5"/>
<path d="M141.3 1484.5C144.7 1484.3 155.6 1483.0 162.1 1483.4C168.7 1483.8 174.5 1486.3 180.6 1486.9C186.8 1487.4 193.4 1487.5 199.2 1486.4C205.0 1485.2 210.6 1482.5 215.4 1479.9C220.2 1477.3 226.0 1472.2 228.1 1470.6" stroke-dasharray="5.5 3.5"/>
<path d="M339.7 1484.5C336.3 1484.3 325.4 1483.0 318.9 1483.4C312.3 1483.8 306.5 1486.3 300.4 1486.9C294.2 1487.4 287.6 1487.5 281.8 1486.4C276.0 1485.2 270.4 1482.5 265.6 1479.9C260.8 1477.3 255.0 1472.2 252.9 1470.6" stroke-dasharray="5.5 3.5"/>
<path d="M141.3 1484.5C144.0 1486.9 152.5 1493.8 157.5 1498.4C162.5 1503.1 167.1 1508.5 171.4 1512.3C175.6 1516.2 180.1 1519.3 183.0 1521.6C185.8 1523.9 187.8 1525.4 188.7 1526.2" stroke-dasharray="5.5 3.5"/>
<path d="M339.7 1484.5C337.0 1486.9 328.5 1493.8 323.5 1498.4C318.5 1503.1 313.9 1508.5 309.6 1512.3C305.4 1516.2 300.9 1519.3 298.0 1521.6C295.2 1523.9 293.2 1525.4 292.3 1526.2" stroke-dasharray="5.5 3.5"/>
<path d="M228.1 1470.6C228.0 1468.3 227.1 1460.6 227.7 1456.7C228.2 1452.9 230.2 1449.8 231.6 1447.5C233.0 1445.2 234.7 1443.8 236.2 1442.8C237.7 1441.9 239.8 1441.9 240.5 1441.7"/>
<path d="M252.9 1470.6C253.0 1468.3 253.9 1460.6 253.3 1456.7C252.8 1452.9 250.8 1449.8 249.4 1447.5C248.0 1445.2 246.3 1443.8 244.8 1442.8C243.3 1441.9 241.2 1441.9 240.5 1441.7"/>
<path d="M191.1 1530.9C190.9 1528.8 191.8 1526.4 193.4 1525.1C194.9 1523.7 198.2 1522.6 200.3 1522.7C202.4 1522.9 205.0 1524.7 206.1 1526.2C207.3 1527.8 208.0 1530.1 207.3 1532.0C206.5 1533.9 203.6 1536.9 201.5 1537.8C199.4 1538.7 196.3 1538.5 194.5 1537.3C192.8 1536.2 191.3 1532.9 191.1 1530.9Z"/>
<path d="M289.9 1530.9C290.1 1528.8 289.2 1526.4 287.6 1525.1C286.1 1523.7 282.8 1522.6 280.7 1522.7C278.6 1522.9 276.0 1524.7 274.9 1526.2C273.7 1527.8 273.0 1530.1 273.7 1532.0C274.5 1533.9 277.4 1536.9 279.5 1537.8C281.6 1538.7 284.7 1538.5 286.5 1537.3C288.2 1536.2 289.7 1532.9 289.9 1530.9Z"/>
<path d="M207.3 1528.5C208.2 1527.8 210.2 1525.4 213.1 1523.9C216.0 1522.4 220.1 1520.4 224.6 1519.3C229.2 1518.1 237.9 1517.3 240.5 1517.0" stroke-dasharray="5.5 3.5"/>
<path d="M273.7 1528.5C272.8 1527.8 270.8 1525.4 267.9 1523.9C265.0 1522.4 260.9 1520.4 256.4 1519.3C251.8 1518.1 243.1 1517.3 240.5 1517.0" stroke-dasharray="5.5 3.5"/>
<path d="M207.3 1533.2C208.2 1534.3 209.8 1538.5 213.1 1540.1C216.3 1541.7 222.4 1542.3 227.0 1542.9C231.5 1543.5 238.2 1543.5 240.5 1543.6"/>
<path d="M273.7 1533.2C272.8 1534.3 271.2 1538.5 267.9 1540.1C264.7 1541.7 258.6 1542.3 254.0 1542.9C249.5 1543.5 242.8 1543.5 240.5 1543.6"/>
</g>
<ellipse cx="240.5" cy="673.8" rx="23.4" ry="18.4" fill="#c8c8c8" stroke="#000" stroke-width="1.6"/>
<path d="M236.5 735.5L238.5 734L240.5 735.5L242.5 734L244.5 735.5L243.5 742L241.7 747L241.3 789.5H239.7L239.3 747L237.5 742Z" fill="#888" stroke="#000" stroke-width="1"/></g></defs>
<defs><filter id="bo" x="-20%" y="-20%" width="140%" height="140%"><feGaussianBlur stdDeviation="1.3"/></filter><filter id="bc" x="-20%" y="-20%" width="140%" height="140%"><feGaussianBlur stdDeviation="2.2"/></filter></defs>
<g fill="#b070b0" opacity="0.45" filter="url(#bo)">
<path d="M165.3 894.0C165.7 892.5 169.9 889.1 172.1 888.1C174.3 887.1 180.7 886.1 184.0 885.5C187.4 884.9 196.3 884.1 201.0 883.0C205.8 881.9 221.4 876.6 224.9 876.2C228.3 875.8 230.0 876.7 230.8 879.6C231.6 882.4 231.9 897.6 231.7 900.8C231.5 904.1 230.2 906.4 229.1 907.6C228.0 908.8 224.6 910.1 222.3 911.0C220.0 911.9 212.5 914.5 209.5 915.3C206.6 916.1 199.6 917.7 196.8 917.8C194.0 917.9 188.2 917.3 185.7 916.1C183.2 915.0 177.5 909.4 175.5 907.6C173.5 905.8 169.9 902.4 168.7 900.8C167.5 899.2 164.9 895.5 165.3 894.0Z"/>
<path d="M235.1 888.9C236.1 887.2 240.6 884.5 243.6 883.8C246.5 883.1 256.6 882.8 260.6 883.0C264.6 883.2 274.1 884.4 277.6 885.5C281.1 886.6 287.6 890.5 290.4 892.3C293.1 894.1 299.8 899.0 301.4 900.8C303.0 902.6 303.8 906.0 304.0 907.6C304.2 909.2 304.2 913.2 303.1 914.4C302.0 915.6 297.6 917.6 294.6 917.8C291.6 918.0 281.4 916.8 277.6 916.1C273.8 915.4 265.3 912.9 262.3 911.9C259.3 910.9 254.3 908.7 252.1 907.6C249.9 906.5 245.6 903.6 243.6 902.5C241.6 901.4 236.1 899.9 235.1 898.3C234.1 896.7 234.1 890.6 235.1 888.9Z"/>
<path d="M151.3 1024.8C154.6 1023.0 178.6 1020.7 186.9 1019.8C195.1 1019.0 217.4 1017.1 222.4 1017.7C227.4 1018.4 226.5 1025.3 229.5 1025.5C232.5 1025.8 243.0 1020.0 248.0 1019.8C252.9 1019.7 264.0 1023.7 272.1 1024.1C280.3 1024.5 312.0 1021.1 317.6 1023.4C323.2 1025.7 321.6 1039.6 320.4 1044.0C319.3 1048.4 310.8 1058.7 307.7 1061.1C304.5 1063.4 295.9 1064.2 293.4 1063.9C291.0 1063.6 288.8 1059.5 286.3 1058.2C283.9 1056.9 278.8 1053.2 272.1 1052.5C265.5 1051.9 237.8 1052.2 229.5 1052.5C221.2 1052.9 206.4 1054.4 201.1 1055.4C195.8 1056.4 187.3 1062.1 184.0 1061.1C180.7 1060.1 175.6 1049.8 172.6 1046.9C169.7 1043.9 160.9 1038.1 158.4 1035.5C155.9 1032.9 148.0 1026.6 151.3 1024.8Z"/>
<path d="M157.0 1140.7C159.5 1138.3 179.1 1138.5 186.9 1137.8C194.6 1137.1 218.8 1134.5 223.8 1135.0C228.8 1135.5 227.2 1141.4 229.5 1142.1C231.8 1142.7 238.7 1140.5 243.7 1140.7C248.7 1140.8 263.5 1143.0 272.1 1143.5C280.7 1144.0 313.5 1142.9 317.6 1144.9C321.8 1146.9 310.5 1157.1 307.7 1160.6C304.8 1164.0 297.6 1172.6 293.4 1174.8C289.3 1176.9 276.3 1179.9 272.1 1179.0C268.0 1178.2 262.6 1169.0 257.9 1167.7C253.3 1166.3 237.3 1167.0 232.3 1167.7C227.4 1168.3 219.8 1171.9 215.3 1173.3C210.8 1174.8 198.1 1180.0 194.0 1180.4C189.8 1180.9 183.1 1180.3 179.7 1177.6C176.4 1175.0 168.2 1162.0 165.5 1157.7C162.9 1153.4 154.5 1143.0 157.0 1140.7Z"/>
<path d="M137.1 1261.1C136.8 1259.8 151.8 1260.2 158.4 1259.7C165.1 1259.2 185.7 1257.5 194.0 1256.9C202.2 1256.2 224.3 1253.2 229.5 1254.0C234.6 1254.8 237.4 1261.0 238.0 1264.0C238.7 1266.9 236.2 1276.6 235.2 1279.6C234.2 1282.6 231.8 1288.0 229.5 1289.5C227.2 1291.0 219.9 1291.9 215.3 1292.4C210.6 1292.9 194.7 1294.6 189.7 1293.8C184.7 1293.0 176.0 1287.9 172.6 1285.3C169.3 1282.6 165.4 1273.9 161.3 1271.1C157.1 1268.2 137.4 1262.4 137.1 1261.1Z"/>
<path d="M242.3 1259.7C245.4 1257.7 263.2 1262.2 272.1 1262.5C281.1 1262.9 314.1 1260.7 319.0 1262.5C324.0 1264.4 316.9 1274.2 314.8 1278.2C312.6 1282.1 303.9 1293.8 300.6 1296.6C297.2 1299.5 289.7 1302.0 286.3 1302.3C283.0 1302.7 275.4 1300.8 272.1 1299.5C268.8 1298.2 261.1 1293.3 257.9 1291.0C254.8 1288.6 246.9 1283.2 245.1 1279.6C243.3 1275.9 239.1 1261.7 242.3 1259.7Z"/>
<path d="M148.5 1373.4C151.5 1371.2 178.2 1371.2 186.9 1370.6C195.5 1369.9 217.4 1366.1 222.4 1367.7C227.4 1369.4 228.3 1380.8 229.5 1384.8C230.6 1388.7 234.0 1399.2 232.3 1401.8C230.7 1404.5 219.8 1405.8 215.3 1407.5C210.8 1409.2 198.1 1416.0 194.0 1416.0C189.8 1416.0 183.6 1410.7 179.7 1407.5C175.9 1404.4 164.9 1393.0 161.3 1389.0C157.6 1385.0 145.5 1375.5 148.5 1373.4Z"/>
<path d="M223.8 1372.0C225.1 1369.7 238.5 1378.8 240.9 1381.9C243.2 1385.1 245.0 1396.7 243.7 1399.0C242.4 1401.3 231.8 1405.0 229.5 1401.8C227.2 1398.7 222.5 1374.3 223.8 1372.0Z"/>
<path d="M242.3 1383.3C243.9 1381.2 252.8 1378.0 257.9 1377.7C263.1 1377.3 279.9 1380.0 286.3 1380.5C292.8 1381.0 311.7 1379.8 313.3 1381.9C315.0 1384.1 303.7 1395.7 300.6 1399.0C297.4 1402.3 289.7 1408.7 286.3 1410.3C283.0 1412.0 275.8 1413.9 272.1 1413.2C268.5 1412.5 258.4 1406.7 255.1 1404.7C251.8 1402.7 245.2 1398.6 243.7 1396.1C242.2 1393.6 240.6 1385.5 242.3 1383.3Z"/>
<path d="M156.0 1495.1C158.1 1493.7 174.3 1494.3 182.0 1494.6C189.6 1494.9 215.9 1496.6 221.5 1497.7C227.1 1498.8 228.8 1502.3 229.8 1504.0C230.8 1505.7 231.1 1510.6 229.8 1512.3C228.5 1514.0 221.5 1517.4 218.4 1518.5C215.2 1519.6 206.3 1521.0 202.8 1521.6C199.3 1522.3 191.6 1523.8 188.2 1523.7C184.8 1523.6 176.5 1522.5 173.7 1520.6C170.9 1518.7 166.4 1510.1 164.3 1507.1C162.2 1504.1 153.9 1496.6 156.0 1495.1Z"/>
<path d="M237.1 1494.6C238.3 1492.9 246.3 1487.7 249.6 1487.3C252.8 1487.0 261.5 1490.2 265.2 1491.5C268.8 1492.8 276.1 1497.2 280.8 1498.8C285.4 1500.4 302.9 1503.2 304.7 1505.0C306.5 1506.8 299.1 1512.8 296.4 1514.4C293.6 1515.9 284.4 1518.4 280.8 1518.5C277.1 1518.6 269.4 1516.4 265.2 1515.4C260.9 1514.4 247.4 1511.8 244.4 1510.2C241.3 1508.6 240.0 1503.7 239.2 1501.9C238.3 1500.1 235.9 1496.3 237.1 1494.6Z"/>
</g>
<g fill="#741474" opacity="0.28" filter="url(#bc)">
<path d="M170.5 894.7C170.8 893.5 174.4 890.5 176.3 889.7C178.1 888.8 183.5 888.0 186.4 887.5C189.3 887.0 196.8 886.3 200.9 885.3C204.9 884.4 218.1 879.9 221.1 879.6C224.1 879.2 225.5 880.0 226.2 882.5C226.8 884.9 227.1 897.7 226.9 900.5C226.7 903.3 225.6 905.3 224.7 906.3C223.8 907.3 220.9 908.4 218.9 909.2C217.0 910.0 210.6 912.1 208.1 912.8C205.6 913.5 199.6 914.9 197.2 915.0C194.9 915.1 189.9 914.6 187.8 913.5C185.7 912.5 180.9 907.8 179.2 906.3C177.5 904.8 174.4 901.9 173.4 900.5C172.4 899.2 170.2 896.0 170.5 894.7Z"/>
<path d="M240.3 890.7C241.2 889.3 245.0 887.0 247.5 886.4C250.1 885.8 258.6 885.5 262.0 885.6C265.4 885.8 273.5 886.9 276.5 887.8C279.4 888.7 284.9 892.1 287.3 893.6C289.7 895.1 295.4 899.3 296.7 900.8C298.1 902.3 298.7 905.3 298.9 906.6C299.0 908.0 299.1 911.4 298.2 912.4C297.2 913.4 293.5 915.1 290.9 915.3C288.4 915.5 279.7 914.4 276.5 913.8C273.3 913.2 266.0 911.1 263.4 910.2C260.9 909.4 256.6 907.5 254.8 906.6C252.9 905.7 249.2 903.2 247.5 902.3C245.9 901.3 241.2 900.0 240.3 898.7C239.5 897.3 239.5 892.1 240.3 890.7Z"/>
<path d="M164.4 1027.2C167.2 1025.6 187.5 1023.6 194.6 1022.9C201.6 1022.2 220.6 1020.5 224.8 1021.1C229.0 1021.7 228.3 1027.5 230.8 1027.8C233.4 1028.0 242.3 1023.1 246.5 1022.9C250.8 1022.8 260.2 1026.2 267.1 1026.5C274.0 1026.9 300.9 1024.0 305.7 1025.9C310.5 1027.9 309.1 1039.7 308.1 1043.5C307.2 1047.2 300.0 1056.0 297.3 1058.0C294.6 1059.9 287.3 1060.7 285.2 1060.4C283.1 1060.1 281.3 1056.7 279.2 1055.5C277.0 1054.4 272.7 1051.3 267.1 1050.7C261.4 1050.1 237.9 1050.4 230.8 1050.7C223.8 1051.0 211.2 1052.3 206.7 1053.1C202.2 1054.0 195.0 1058.8 192.2 1058.0C189.4 1057.1 185.0 1048.4 182.5 1045.9C180.0 1043.3 172.5 1038.4 170.4 1036.2C168.3 1034.0 161.6 1028.7 164.4 1027.2Z"/>
<path d="M168.6 1143.2C170.7 1141.2 187.3 1141.4 194.0 1140.8C200.6 1140.2 221.1 1138.0 225.4 1138.4C229.6 1138.8 228.2 1143.9 230.2 1144.4C232.2 1145.0 238.1 1143.1 242.3 1143.2C246.5 1143.4 259.1 1145.2 266.5 1145.6C273.8 1146.1 301.6 1145.1 305.1 1146.8C308.6 1148.5 299.0 1157.2 296.7 1160.1C294.3 1163.1 288.1 1170.4 284.6 1172.2C281.0 1174.0 270.0 1176.5 266.5 1175.8C262.9 1175.1 258.3 1167.3 254.4 1166.2C250.4 1165.0 236.9 1165.6 232.6 1166.2C228.4 1166.7 221.9 1169.7 218.1 1171.0C214.3 1172.3 203.5 1176.6 200.0 1177.0C196.5 1177.5 190.7 1176.9 187.9 1174.6C185.1 1172.4 178.1 1161.4 175.8 1157.7C173.6 1154.0 166.5 1145.2 168.6 1143.2Z"/>
<path d="M146.0 1263.0C145.7 1261.8 158.5 1262.2 164.1 1261.7C169.8 1261.3 187.3 1259.9 194.3 1259.3C201.4 1258.8 220.2 1256.2 224.5 1256.9C228.9 1257.6 231.2 1262.8 231.8 1265.4C232.3 1267.9 230.2 1276.1 229.4 1278.7C228.5 1281.2 226.5 1285.8 224.5 1287.1C222.6 1288.4 216.4 1289.1 212.4 1289.5C208.5 1290.0 194.9 1291.4 190.7 1290.7C186.5 1290.0 179.0 1285.7 176.2 1283.5C173.4 1281.2 170.1 1273.8 166.5 1271.4C163.0 1269.0 146.3 1264.1 146.0 1263.0Z"/>
<path d="M247.8 1262.9C250.5 1261.2 265.5 1265.1 273.1 1265.4C280.8 1265.6 308.8 1263.8 313.0 1265.4C317.2 1266.9 311.2 1275.3 309.4 1278.6C307.6 1282.0 300.1 1292.0 297.3 1294.3C294.5 1296.7 288.0 1298.9 285.2 1299.2C282.4 1299.5 276.0 1297.9 273.1 1296.8C270.3 1295.6 263.7 1291.5 261.1 1289.5C258.4 1287.5 251.7 1283.0 250.2 1279.9C248.6 1276.8 245.1 1264.6 247.8 1262.9Z"/>
<path d="M155.7 1376.0C158.2 1374.2 181.0 1374.2 188.3 1373.6C195.6 1373.0 214.3 1369.8 218.5 1371.2C222.7 1372.6 223.6 1382.3 224.6 1385.7C225.5 1389.1 228.4 1397.9 227.0 1400.2C225.6 1402.4 216.3 1403.6 212.5 1405.0C208.7 1406.4 197.9 1412.3 194.4 1412.3C190.8 1412.3 185.5 1407.7 182.3 1405.0C179.0 1402.3 169.7 1392.7 166.6 1389.3C163.5 1385.9 153.2 1377.9 155.7 1376.0Z"/>
<path d="M225.4 1374.5C226.5 1372.5 237.9 1380.3 239.9 1382.9C241.9 1385.6 243.4 1395.5 242.3 1397.4C241.2 1399.4 232.2 1402.5 230.2 1399.8C228.3 1397.2 224.3 1376.5 225.4 1374.5Z"/>
<path d="M246.9 1385.0C248.3 1383.1 255.8 1380.4 260.2 1380.1C264.6 1379.8 278.9 1382.1 284.3 1382.5C289.8 1383.0 305.9 1381.9 307.3 1383.7C308.7 1385.6 299.1 1395.4 296.4 1398.2C293.8 1401.1 287.2 1406.5 284.3 1407.9C281.5 1409.3 275.4 1410.9 272.3 1410.3C269.2 1409.8 260.6 1404.8 257.8 1403.1C255.0 1401.4 249.4 1397.9 248.1 1395.8C246.8 1393.7 245.5 1386.8 246.9 1385.0Z"/>
<path d="M162.1 1497.3C163.8 1496.1 177.7 1496.6 184.2 1496.9C190.7 1497.1 213.0 1498.6 217.8 1499.5C222.5 1500.4 224.0 1503.4 224.8 1504.8C225.7 1506.2 226.0 1510.4 224.8 1511.9C223.7 1513.3 217.8 1516.3 215.1 1517.2C212.4 1518.1 204.9 1519.3 201.9 1519.8C198.9 1520.3 192.4 1521.7 189.5 1521.6C186.6 1521.5 179.5 1520.6 177.1 1518.9C174.7 1517.3 170.9 1510.0 169.2 1507.5C167.4 1504.9 160.3 1498.5 162.1 1497.3Z"/>
<path d="M241.5 1496.0C242.5 1494.5 249.3 1490.1 252.1 1489.8C254.9 1489.5 262.2 1492.2 265.3 1493.3C268.4 1494.5 274.7 1498.2 278.6 1499.5C282.5 1500.9 297.4 1503.3 298.9 1504.8C300.5 1506.4 294.2 1511.4 291.8 1512.8C289.5 1514.1 281.7 1516.2 278.6 1516.3C275.5 1516.4 268.9 1514.5 265.3 1513.7C261.7 1512.8 250.2 1510.6 247.7 1509.2C245.1 1507.9 244.0 1503.7 243.2 1502.2C242.5 1500.6 240.4 1497.4 241.5 1496.0Z"/>
</g>
<g fill="#741474" opacity="0.72" filter="url(#bc)">
<path d="M175.5 894.0C176.7 892.3 188.1 891.7 192.5 891.5C197.0 891.3 210.0 891.7 213.8 892.3C217.6 892.9 224.0 895.0 224.9 896.6C225.7 898.2 223.2 904.2 221.5 905.9C219.7 907.6 212.9 910.2 209.5 911.0C206.2 911.8 195.7 913.3 192.5 912.7C189.4 912.1 184.3 908.1 182.3 905.9C180.3 903.8 174.3 895.7 175.5 894.0Z"/>
<path d="M247.8 894.0C249.5 892.6 260.9 892.0 264.8 892.3C268.8 892.6 278.9 895.0 281.8 896.6C284.8 898.2 290.9 904.0 290.4 905.9C289.9 907.8 281.1 912.1 277.6 912.7C274.1 913.3 263.8 912.0 260.6 911.0C257.4 910.0 251.9 906.2 250.4 904.2C248.9 902.2 246.1 895.4 247.8 894.0Z"/>
<path d="M172.6 1031.2C173.8 1028.9 188.3 1025.4 194.0 1024.1C199.6 1022.8 217.5 1018.9 221.0 1019.8C224.4 1020.8 223.8 1029.5 223.8 1032.6C223.8 1035.8 223.6 1045.0 221.0 1046.9C218.3 1048.7 205.4 1048.6 201.1 1048.3C196.8 1047.9 187.3 1046.0 184.0 1044.0C180.7 1042.0 171.5 1033.5 172.6 1031.2Z"/>
<path d="M248.0 1024.1C249.8 1022.8 260.5 1024.7 265.0 1025.5C269.5 1026.4 281.7 1029.9 286.3 1031.2C291.0 1032.5 303.2 1035.1 304.8 1036.9C306.5 1038.7 303.5 1045.2 300.6 1046.9C297.6 1048.5 284.2 1050.9 279.2 1051.1C274.3 1051.3 261.4 1049.9 257.9 1048.3C254.4 1046.6 250.5 1039.7 249.4 1036.9C248.2 1034.1 246.1 1025.4 248.0 1024.1Z"/>
<path d="M165.5 1144.9C167.2 1143.3 187.3 1141.2 194.0 1140.7C200.6 1140.2 218.7 1139.2 222.4 1140.7C226.0 1142.1 225.2 1150.6 225.2 1153.4C225.2 1156.3 225.2 1163.7 222.4 1164.8C219.6 1166.0 206.0 1164.6 201.1 1163.4C196.1 1162.2 183.9 1157.0 179.7 1154.9C175.6 1152.7 163.9 1146.6 165.5 1144.9Z"/>
<path d="M243.7 1142.1C245.9 1141.1 260.0 1144.3 265.0 1144.9C270.0 1145.6 281.4 1146.9 286.3 1147.8C291.3 1148.6 306.0 1149.9 307.7 1152.0C309.3 1154.2 303.9 1164.1 300.6 1166.2C297.2 1168.4 284.2 1170.5 279.2 1170.5C274.3 1170.5 261.7 1168.2 257.9 1166.2C254.1 1164.2 248.2 1156.3 246.5 1153.4C244.9 1150.6 241.5 1143.1 243.7 1142.1Z"/>
<path d="M165.5 1268.2C166.4 1266.2 181.0 1264.8 186.9 1264.0C192.7 1263.1 210.0 1261.1 215.3 1261.1C220.6 1261.1 230.2 1262.0 232.3 1264.0C234.5 1265.9 234.9 1275.5 233.8 1278.2C232.6 1280.8 226.2 1285.7 222.4 1286.7C218.6 1287.7 206.0 1287.4 201.1 1286.7C196.1 1286.0 183.9 1283.2 179.7 1281.0C175.6 1278.9 164.7 1270.2 165.5 1268.2Z"/>
<path d="M248.0 1262.5C250.3 1260.9 265.2 1265.8 272.1 1266.8C279.1 1267.8 304.0 1269.2 307.7 1271.1C311.3 1272.9 305.9 1280.1 303.4 1282.4C300.9 1284.8 290.8 1290.0 286.3 1291.0C281.9 1292.0 269.0 1292.1 265.0 1291.0C261.0 1289.8 254.2 1284.3 252.2 1281.0C250.2 1277.7 245.6 1264.2 248.0 1262.5Z"/>
<path d="M161.3 1379.1C162.4 1377.1 179.7 1377.7 186.9 1377.7C194.0 1377.7 218.1 1376.9 222.4 1379.1C226.7 1381.2 224.6 1393.1 223.8 1396.1C223.0 1399.1 218.8 1403.8 215.3 1404.7C211.8 1405.5 198.4 1404.4 194.0 1403.2C189.5 1402.1 180.7 1397.5 176.9 1394.7C173.1 1391.9 160.1 1381.1 161.3 1379.1Z"/>
<path d="M246.5 1384.8C247.7 1382.9 259.5 1383.0 265.0 1383.3C270.5 1383.7 290.5 1385.5 293.4 1387.6C296.4 1389.8 293.1 1399.7 290.6 1401.8C288.1 1404.0 276.3 1406.4 272.1 1406.1C268.0 1405.8 258.1 1401.5 255.1 1399.0C252.1 1396.5 245.4 1386.6 246.5 1384.8Z"/>
<path d="M164.3 1497.7C165.2 1496.8 180.6 1497.5 187.2 1497.7C193.7 1498.0 216.5 1498.5 220.5 1499.8C224.5 1501.1 222.6 1507.6 221.5 1509.2C220.4 1510.7 214.3 1512.8 211.1 1513.3C207.9 1513.8 198.1 1514.2 194.5 1513.3C190.8 1512.5 183.4 1507.9 179.9 1506.1C176.4 1504.2 163.5 1498.7 164.3 1497.7Z"/>
<path d="M244.4 1495.7C245.9 1494.2 255.7 1492.8 260.0 1493.6C264.2 1494.3 277.7 1500.0 280.8 1501.9C283.8 1503.8 286.6 1508.6 286.0 1510.2C285.4 1511.8 278.6 1515.2 275.6 1515.4C272.5 1515.7 263.4 1513.4 260.0 1512.3C256.6 1511.2 248.3 1508.0 246.4 1506.1C244.6 1504.1 242.8 1497.1 244.4 1495.7Z"/>
</g>
<g fill="#f590f5" opacity="0.45" filter="url(#bo)">
<path d="M667.2 903.4C669.0 901.6 681.1 897.2 685.8 895.7C690.5 894.1 701.4 891.0 707.5 890.2C713.7 889.5 733.3 889.4 738.6 889.5C743.8 889.6 750.9 889.0 752.5 891.0C754.1 893.0 755.1 904.2 752.5 906.5C750.0 908.9 736.1 909.7 730.8 911.2C725.6 912.6 712.1 917.3 707.5 918.9C703.0 920.6 695.1 924.8 692.0 925.1C689.0 925.5 683.7 923.7 681.2 922.0C678.6 920.4 672.0 913.3 670.3 911.2C668.7 909.0 665.4 905.2 667.2 903.4Z"/>
<path d="M754.1 891.0C756.8 889.4 777.8 892.2 785.1 892.6C792.3 892.9 812.1 892.5 816.1 894.1C820.1 895.7 820.1 903.8 819.2 906.5C818.3 909.2 811.4 915.9 808.3 917.4C805.3 918.8 796.5 919.5 792.8 918.9C789.2 918.4 781.0 914.2 777.3 912.7C773.7 911.3 764.5 909.1 761.8 906.5C759.1 904.0 751.4 892.6 754.1 891.0Z"/>
<path d="M648.6 1030.6C649.5 1028.8 663.7 1025.8 668.8 1024.4C673.8 1022.9 685.7 1019.3 692.0 1018.2C698.4 1017.1 717.3 1015.8 723.1 1015.1C728.8 1014.4 739.1 1010.2 741.7 1012.0C744.2 1013.8 744.6 1026.3 744.8 1030.6C744.9 1034.9 746.7 1046.5 743.2 1049.2C739.8 1051.9 720.4 1052.4 715.3 1053.9C710.2 1055.3 702.5 1060.7 699.8 1061.6C697.1 1062.5 694.7 1063.4 692.0 1061.6C689.3 1059.8 680.1 1048.6 676.5 1046.1C672.9 1043.6 664.3 1041.7 661.0 1039.9C657.8 1038.1 647.7 1032.4 648.6 1030.6Z"/>
<path d="M752.5 1030.6C753.1 1027.9 758.0 1019.5 761.8 1018.2C765.6 1016.9 778.0 1019.0 785.1 1019.7C792.1 1020.5 818.1 1022.0 822.3 1024.4C826.5 1026.7 822.2 1036.5 820.8 1039.9C819.3 1043.3 813.2 1052.4 809.9 1053.9C806.6 1055.3 797.5 1053.2 792.8 1052.3C788.1 1051.4 773.7 1047.4 769.6 1046.1C765.4 1044.8 759.2 1043.3 757.2 1041.5C755.2 1039.6 752.0 1033.3 752.5 1030.6Z"/>
<path d="M639.3 1127.9C640.8 1127.9 654.9 1134.4 661.0 1135.7C667.2 1136.9 684.8 1138.8 692.0 1138.8C699.3 1138.8 717.3 1136.2 723.1 1135.7C728.8 1135.1 738.8 1132.9 741.7 1134.1C744.6 1135.4 747.5 1143.3 747.9 1146.5C748.2 1149.8 746.8 1159.3 744.8 1162.0C742.8 1164.7 734.8 1168.2 730.8 1169.8C726.8 1171.4 714.3 1175.6 710.6 1176.0C707.0 1176.4 702.9 1174.9 699.8 1172.9C696.7 1170.9 687.9 1162.0 684.3 1158.9C680.7 1155.9 672.9 1149.2 668.8 1146.5C664.6 1143.8 652.0 1137.8 648.6 1135.7C645.2 1133.5 637.9 1127.9 639.3 1127.9Z"/>
<path d="M758.7 1140.3C761.6 1138.3 776.6 1141.5 785.1 1141.9C793.6 1142.2 827.1 1141.4 831.6 1143.4C836.1 1145.4 826.6 1155.5 823.9 1158.9C821.1 1162.4 812.0 1170.5 808.3 1172.9C804.7 1175.2 797.4 1179.3 792.8 1179.1C788.3 1178.9 773.4 1173.7 769.6 1171.3C765.8 1169.0 761.5 1162.6 760.3 1158.9C759.0 1155.3 755.8 1142.3 758.7 1140.3Z"/>
<path d="M642.4 1255.1C643.3 1255.1 663.0 1266.4 668.8 1267.5C674.6 1268.6 685.7 1265.5 692.0 1264.4C698.4 1263.3 716.2 1259.6 723.1 1258.2C729.9 1256.7 747.5 1249.5 751.0 1252.0C754.4 1254.5 754.0 1275.4 752.5 1279.9C751.1 1284.4 742.9 1289.1 738.6 1290.8C734.2 1292.4 719.8 1293.7 715.3 1293.9C710.8 1294.0 703.4 1294.1 699.8 1292.3C696.2 1290.5 688.8 1281.2 684.3 1278.3C679.8 1275.5 665.9 1270.2 661.0 1267.5C656.1 1264.8 641.5 1255.1 642.4 1255.1Z"/>
<path d="M752.5 1252.0C754.3 1249.3 764.0 1253.8 769.6 1255.1C775.2 1256.4 792.6 1261.8 800.6 1262.8C808.6 1263.9 835.1 1262.2 837.8 1264.4C840.5 1266.6 827.3 1278.4 823.9 1281.5C820.4 1284.5 812.9 1289.7 808.3 1290.8C803.8 1291.8 790.0 1291.3 785.1 1290.8C780.2 1290.2 770.1 1287.6 766.5 1286.1C762.9 1284.7 755.7 1282.3 754.1 1278.3C752.4 1274.4 750.7 1254.7 752.5 1252.0Z"/>
<path d="M650.6 1365.7C651.5 1364.6 668.0 1375.5 674.2 1376.0C680.4 1376.5 695.9 1371.3 703.7 1370.1C711.4 1368.9 735.3 1364.6 740.5 1365.7C745.6 1366.7 747.0 1375.7 747.9 1378.9C748.7 1382.2 749.6 1390.2 747.9 1393.7C746.1 1397.1 736.6 1406.0 733.1 1408.4C729.7 1410.8 721.8 1413.3 718.4 1414.3C715.0 1415.3 707.4 1418.6 703.7 1417.2C699.9 1415.9 690.3 1406.3 686.0 1402.5C681.7 1398.7 671.0 1389.1 666.8 1384.8C662.7 1380.5 649.8 1366.7 650.6 1365.7Z"/>
<path d="M758.2 1376.0C761.1 1373.9 776.4 1375.8 784.7 1376.0C792.9 1376.2 824.9 1375.7 828.9 1377.5C832.8 1379.2 821.5 1387.4 818.6 1390.7C815.6 1394.0 807.3 1403.0 803.8 1405.4C800.4 1407.9 793.1 1411.3 789.1 1411.3C785.2 1411.3 773.4 1407.5 770.0 1405.4C766.5 1403.4 761.0 1397.1 759.6 1393.7C758.3 1390.2 755.2 1378.0 758.2 1376.0Z"/>
<path d="M666.8 1507.1C667.2 1505.0 683.8 1501.4 688.9 1499.7C694.1 1498.0 704.5 1494.4 711.0 1492.4C717.6 1490.3 740.6 1480.7 744.9 1482.1C749.2 1483.4 749.2 1500.4 747.9 1504.1C746.5 1507.9 736.6 1512.7 733.1 1514.5C729.7 1516.2 722.2 1517.5 718.4 1518.9C714.6 1520.3 704.5 1526.4 700.7 1526.2C696.9 1526.1 689.9 1519.6 686.0 1517.4C682.0 1515.2 666.5 1509.2 666.8 1507.1Z"/>
<path d="M753.7 1489.4C755.0 1487.9 764.6 1490.0 770.0 1490.9C775.3 1491.7 793.6 1495.4 799.4 1496.8C805.3 1498.2 818.7 1500.6 820.0 1502.7C821.4 1504.7 814.1 1512.4 811.2 1514.5C808.3 1516.5 799.0 1519.8 795.0 1520.4C791.0 1520.9 781.4 1520.8 777.3 1518.9C773.2 1517.0 762.4 1507.6 759.6 1504.1C756.9 1500.7 752.5 1491.0 753.7 1489.4Z"/>
</g>
<g fill="#f03ef0" opacity="0.28" filter="url(#bc)">
<path d="M673.3 903.8C674.8 902.3 685.1 898.5 689.1 897.2C693.1 895.9 702.4 893.2 707.6 892.6C712.8 892.0 729.5 891.9 734.0 891.9C738.4 892.0 744.4 891.6 745.8 893.2C747.2 894.9 748.0 904.4 745.8 906.4C743.7 908.4 731.8 909.2 727.4 910.4C722.9 911.6 711.4 915.6 707.6 917.0C703.7 918.4 697.0 921.9 694.4 922.2C691.8 922.6 687.3 921.0 685.2 919.6C683.0 918.2 677.3 912.2 675.9 910.4C674.6 908.5 671.8 905.3 673.3 903.8Z"/>
<path d="M759.4 893.1C761.7 891.7 779.6 894.1 785.7 894.4C791.9 894.7 808.7 894.4 812.1 895.7C815.5 897.1 815.5 904.0 814.7 906.3C814.0 908.6 808.1 914.3 805.5 915.5C802.9 916.8 795.4 917.3 792.3 916.8C789.2 916.4 782.2 912.8 779.1 911.6C776.1 910.3 768.3 908.4 766.0 906.3C763.6 904.1 757.1 894.5 759.4 893.1Z"/>
<path d="M656.4 1031.5C657.2 1030.0 669.2 1027.5 673.5 1026.3C677.8 1025.0 687.9 1021.9 693.3 1021.0C698.7 1020.1 714.8 1019.0 719.7 1018.4C724.6 1017.7 733.3 1014.2 735.5 1015.7C737.7 1017.3 738.0 1027.9 738.1 1031.5C738.3 1035.2 739.7 1045.1 736.8 1047.4C733.9 1049.7 717.4 1050.1 713.1 1051.3C708.8 1052.5 702.2 1057.1 699.9 1057.9C697.6 1058.7 695.6 1059.4 693.3 1057.9C691.0 1056.4 683.2 1046.9 680.1 1044.7C677.1 1042.6 669.7 1041.0 666.9 1039.5C664.2 1037.9 655.6 1033.1 656.4 1031.5Z"/>
<path d="M757.5 1031.4C758.0 1029.1 762.2 1022.0 765.4 1020.9C768.6 1019.8 779.2 1021.6 785.2 1022.2C791.2 1022.8 813.3 1024.2 816.8 1026.2C820.4 1028.2 816.7 1036.4 815.5 1039.4C814.3 1042.3 809.1 1050.0 806.3 1051.2C803.5 1052.5 795.8 1050.7 791.8 1049.9C787.8 1049.1 775.5 1045.7 772.0 1044.6C768.5 1043.6 763.2 1042.2 761.5 1040.7C759.8 1039.1 757.0 1033.8 757.5 1031.4Z"/>
<path d="M648.3 1131.1C649.6 1131.1 661.6 1136.6 666.8 1137.7C672.0 1138.8 687.0 1140.3 693.1 1140.3C699.3 1140.3 714.6 1138.2 719.5 1137.7C724.4 1137.2 732.9 1135.3 735.3 1136.4C737.8 1137.5 740.3 1144.2 740.6 1146.9C740.9 1149.7 739.7 1157.8 738.0 1160.1C736.3 1162.4 729.5 1165.3 726.1 1166.7C722.7 1168.1 712.0 1171.7 709.0 1172.0C705.9 1172.3 702.3 1171.0 699.7 1169.3C697.1 1167.7 689.6 1160.1 686.6 1157.5C683.5 1154.9 676.9 1149.2 673.4 1146.9C669.8 1144.6 659.2 1139.6 656.2 1137.7C653.3 1135.9 647.1 1131.1 648.3 1131.1Z"/>
<path d="M763.6 1143.0C766.1 1141.3 778.8 1144.0 786.0 1144.3C793.2 1144.7 821.7 1144.0 825.6 1145.7C829.4 1147.4 821.3 1155.9 819.0 1158.8C816.7 1161.8 808.9 1168.7 805.8 1170.7C802.7 1172.7 796.5 1176.1 792.6 1176.0C788.8 1175.8 776.1 1171.4 772.8 1169.4C769.6 1167.4 766.0 1161.9 764.9 1158.8C763.8 1155.8 761.1 1144.7 763.6 1143.0Z"/>
<path d="M651.4 1257.7C652.2 1257.7 668.9 1267.4 673.8 1268.3C678.8 1269.2 688.2 1266.6 693.6 1265.6C699.0 1264.7 714.1 1261.6 720.0 1260.4C725.8 1259.1 740.8 1252.9 743.7 1255.1C746.6 1257.2 746.3 1275.0 745.0 1278.8C743.8 1282.7 736.9 1286.7 733.2 1288.0C729.5 1289.4 717.2 1290.5 713.4 1290.7C709.5 1290.8 703.3 1290.9 700.2 1289.4C697.1 1287.8 690.9 1280.0 687.0 1277.5C683.2 1275.0 671.4 1270.6 667.3 1268.3C663.1 1266.0 650.7 1257.7 651.4 1257.7Z"/>
<path d="M757.9 1255.2C759.5 1252.9 767.7 1256.8 772.4 1257.9C777.2 1258.9 792.0 1263.5 798.8 1264.4C805.6 1265.4 828.1 1263.9 830.4 1265.8C832.8 1267.6 821.5 1277.6 818.6 1280.3C815.7 1282.9 809.2 1287.2 805.4 1288.2C801.6 1289.1 789.8 1288.6 785.6 1288.2C781.5 1287.7 772.9 1285.4 769.8 1284.2C766.7 1283.0 760.6 1281.0 759.3 1277.6C757.9 1274.2 756.4 1257.5 757.9 1255.2Z"/>
<path d="M659.0 1369.1C659.8 1368.3 673.8 1377.5 679.1 1377.9C684.3 1378.3 697.5 1373.9 704.1 1372.9C710.7 1371.9 731.0 1368.3 735.4 1369.1C739.8 1370.0 740.9 1377.6 741.7 1380.4C742.4 1383.2 743.1 1390.0 741.7 1392.9C740.2 1395.9 732.1 1403.4 729.1 1405.5C726.2 1407.5 719.5 1409.6 716.6 1410.5C713.7 1411.3 707.3 1414.1 704.1 1413.0C700.9 1411.8 692.7 1403.7 689.1 1400.4C685.4 1397.2 676.3 1389.1 672.8 1385.4C669.3 1381.8 658.3 1370.0 659.0 1369.1Z"/>
<path d="M762.8 1378.4C765.3 1376.6 778.3 1378.2 785.3 1378.4C792.4 1378.5 819.6 1378.2 822.9 1379.6C826.3 1381.1 816.6 1388.1 814.1 1390.9C811.7 1393.7 804.5 1401.4 801.6 1403.4C798.7 1405.5 792.5 1408.4 789.1 1408.4C785.7 1408.4 775.7 1405.2 772.8 1403.4C769.9 1401.7 765.2 1396.3 764.1 1393.4C762.9 1390.5 760.3 1380.1 762.8 1378.4Z"/>
<path d="M673.4 1507.1C673.7 1505.3 687.8 1502.3 692.2 1500.8C696.6 1499.3 705.4 1496.3 711.0 1494.5C716.6 1492.8 736.1 1484.6 739.8 1485.8C743.5 1487.0 743.5 1501.4 742.3 1504.6C741.1 1507.8 732.7 1511.9 729.8 1513.3C726.9 1514.8 720.5 1515.9 717.3 1517.1C714.0 1518.3 705.4 1523.5 702.2 1523.3C699.0 1523.2 693.1 1517.7 689.7 1515.8C686.4 1513.9 673.1 1508.8 673.4 1507.1Z"/>
<path d="M758.6 1491.7C759.6 1490.4 767.8 1492.2 772.3 1493.0C776.9 1493.7 792.4 1496.8 797.4 1498.0C802.3 1499.1 813.7 1501.2 814.9 1503.0C816.1 1504.7 809.9 1511.2 807.4 1513.0C804.9 1514.7 797.0 1517.6 793.6 1518.0C790.3 1518.4 782.1 1518.4 778.6 1516.8C775.1 1515.1 765.9 1507.2 763.6 1504.2C761.2 1501.3 757.5 1493.0 758.6 1491.7Z"/>
</g>
<g fill="#f03ef0" opacity="0.75" filter="url(#bc)">
<path d="M695.1 898.8C698.2 896.8 717.6 895.9 723.1 895.7C728.5 895.5 739.9 895.6 741.7 897.2C743.5 898.8 741.6 907.6 738.6 909.6C735.5 911.6 720.2 913.9 715.3 914.3C710.4 914.6 699.0 914.5 696.7 912.7C694.3 910.9 692.1 900.8 695.1 898.8Z"/>
<path d="M766.5 897.2C769.2 896.1 787.4 896.7 792.8 897.2C798.3 897.8 811.6 900.1 813.0 901.9C814.4 903.7 808.5 911.6 805.2 912.7C802.0 913.8 789.2 911.9 785.1 911.2C780.9 910.5 771.7 908.2 769.6 906.5C767.4 904.9 763.8 898.3 766.5 897.2Z"/>
<path d="M676.5 1030.6C678.3 1027.5 700.3 1025.1 707.5 1024.4C714.8 1023.7 734.6 1021.9 738.6 1024.4C742.5 1026.9 744.4 1042.8 741.7 1046.1C738.9 1049.4 721.1 1051.8 715.3 1052.3C709.5 1052.9 696.6 1053.3 692.0 1050.8C687.5 1048.2 674.7 1033.7 676.5 1030.6Z"/>
<path d="M757.2 1032.1C757.2 1030.2 765.4 1027.9 769.6 1027.5C773.7 1027.1 787.1 1028.1 792.8 1029.0C798.6 1029.9 816.9 1032.9 819.2 1035.2C821.6 1037.6 816.1 1047.6 813.0 1049.2C809.9 1050.8 797.9 1049.7 792.8 1049.2C787.8 1048.7 773.7 1046.5 769.6 1044.6C765.4 1042.6 757.2 1034.1 757.2 1032.1Z"/>
<path d="M679.6 1146.5C680.9 1143.8 700.7 1142.8 707.5 1141.9C714.4 1141.0 734.2 1137.3 738.6 1138.8C742.9 1140.2 745.1 1151.0 744.8 1154.3C744.4 1157.5 738.9 1164.7 735.5 1166.7C732.0 1168.7 719.8 1171.5 715.3 1171.3C710.8 1171.2 700.8 1168.0 696.7 1165.1C692.5 1162.2 678.4 1149.2 679.6 1146.5Z"/>
<path d="M761.8 1143.4C764.4 1142.2 777.8 1144.6 785.1 1145.0C792.3 1145.3 820.2 1144.5 823.9 1146.5C827.5 1148.5 819.2 1159.0 816.1 1162.0C813.0 1165.1 802.0 1172.3 797.5 1172.9C793.0 1173.4 781.3 1168.7 777.3 1166.7C773.4 1164.7 765.2 1158.5 763.4 1155.8C761.6 1153.1 759.3 1144.7 761.8 1143.4Z"/>
<path d="M681.2 1269.0C682.1 1266.5 700.8 1265.3 707.5 1264.4C714.2 1263.5 733.9 1259.7 738.6 1261.3C743.3 1262.9 747.9 1275.1 747.9 1278.3C747.9 1281.6 742.4 1287.6 738.6 1289.2C734.8 1290.8 719.8 1292.7 715.3 1292.3C710.8 1291.9 703.8 1288.8 699.8 1286.1C695.8 1283.4 680.3 1271.6 681.2 1269.0Z"/>
<path d="M757.2 1264.4C758.1 1262.2 771.4 1265.6 777.3 1265.9C783.3 1266.3 802.0 1267.1 808.3 1267.5C814.7 1267.9 830.7 1266.9 831.6 1269.0C832.5 1271.2 820.6 1283.8 816.1 1286.1C811.6 1288.5 798.3 1289.4 792.8 1289.2C787.4 1289.0 773.7 1287.4 769.6 1284.6C765.4 1281.7 756.3 1266.6 757.2 1264.4Z"/>
<path d="M674.2 1381.9C675.1 1379.5 696.4 1377.2 703.7 1376.0C710.9 1374.8 731.6 1369.8 736.1 1371.6C740.5 1373.3 742.3 1386.9 742.0 1390.7C741.6 1394.5 736.2 1401.9 733.1 1404.0C730.0 1406.0 719.7 1409.3 715.4 1408.4C711.1 1407.5 701.1 1399.7 696.3 1396.6C691.5 1393.5 673.3 1384.3 674.2 1381.9Z"/>
<path d="M761.1 1381.9C763.7 1380.8 777.6 1382.0 784.7 1381.9C791.7 1381.7 818.6 1379.0 821.5 1380.4C824.4 1381.8 812.8 1390.6 809.7 1393.7C806.6 1396.8 799.1 1406.1 795.0 1406.9C790.9 1407.8 778.2 1402.9 774.4 1401.0C770.6 1399.1 764.1 1392.9 762.6 1390.7C761.0 1388.5 758.5 1382.9 761.1 1381.9Z"/>
<path d="M691.9 1504.1C693.1 1501.9 712.5 1498.2 718.4 1496.8C724.2 1495.4 738.9 1491.0 742.0 1492.4C745.1 1493.7 746.3 1505.8 744.9 1508.6C743.5 1511.3 734.5 1515.1 730.2 1515.9C725.9 1516.8 712.5 1517.3 708.1 1515.9C703.6 1514.6 690.7 1506.4 691.9 1504.1Z"/>
<path d="M759.6 1496.8C761.0 1495.8 771.0 1497.4 777.3 1498.3C783.7 1499.1 811.1 1502.3 814.1 1504.1C817.2 1506.0 807.1 1512.9 803.8 1514.5C800.6 1516.0 790.6 1518.3 786.2 1517.4C781.7 1516.5 768.6 1509.5 765.5 1507.1C762.4 1504.7 758.3 1497.8 759.6 1496.8Z"/>
</g>
<g fill="#7fd6d6" opacity="0.45" filter="url(#bo)">
<path d="M1286.5 894.1C1287.4 891.6 1297.5 890.3 1302.0 889.5C1306.6 888.7 1319.9 887.3 1325.3 887.1C1330.7 887.0 1344.4 886.9 1348.6 887.9C1352.7 888.9 1359.9 893.5 1361.0 895.7C1362.1 897.8 1360.0 904.7 1357.9 906.5C1355.7 908.3 1346.7 909.9 1342.4 911.2C1338.0 912.4 1325.0 916.5 1320.6 917.4C1316.3 918.3 1308.2 919.7 1305.1 918.9C1302.1 918.2 1296.5 914.1 1294.3 911.2C1292.1 908.3 1285.6 896.7 1286.5 894.1Z"/>
<path d="M1373.4 883.3C1374.6 880.7 1383.0 880.2 1387.3 880.2C1391.7 880.2 1406.1 882.0 1410.6 883.3C1415.1 884.5 1423.4 887.9 1426.1 891.0C1428.8 894.1 1433.9 906.4 1433.9 909.6C1433.9 912.9 1428.8 918.0 1426.1 918.9C1423.4 919.8 1414.6 918.5 1410.6 917.4C1406.6 916.3 1396.0 911.4 1392.0 909.6C1388.0 907.8 1378.6 904.9 1376.5 901.9C1374.3 898.8 1372.1 885.8 1373.4 883.3Z"/>
<path d="M1255.5 1018.2C1256.4 1016.9 1273.3 1019.9 1278.8 1019.7C1284.2 1019.6 1295.7 1017.4 1302.0 1016.6C1308.4 1015.9 1327.3 1013.5 1333.1 1013.5C1338.8 1013.5 1348.6 1014.6 1351.7 1016.6C1354.7 1018.6 1359.1 1027.2 1359.4 1030.6C1359.8 1034.0 1357.8 1043.8 1354.8 1046.1C1351.7 1048.5 1338.3 1049.9 1333.1 1050.8C1327.8 1051.7 1314.3 1054.4 1309.8 1053.9C1305.3 1053.3 1298.8 1048.8 1294.3 1046.1C1289.8 1043.4 1275.5 1033.9 1271.0 1030.6C1266.5 1027.3 1254.6 1019.5 1255.5 1018.2Z"/>
<path d="M1370.3 1021.3C1372.1 1018.6 1382.6 1019.7 1387.3 1019.7C1392.0 1019.7 1402.8 1020.4 1410.6 1021.3C1418.4 1022.2 1450.4 1025.0 1454.0 1027.5C1457.6 1030.0 1444.9 1039.4 1441.6 1043.0C1438.4 1046.6 1429.7 1056.7 1426.1 1058.5C1422.5 1060.3 1415.1 1059.4 1410.6 1058.5C1406.1 1057.6 1391.9 1052.6 1387.3 1050.8C1382.8 1048.9 1373.8 1046.4 1371.8 1043.0C1369.8 1039.6 1368.5 1024.0 1370.3 1021.3Z"/>
<path d="M1260.2 1135.7C1261.1 1134.6 1279.8 1138.8 1286.5 1138.8C1293.2 1138.8 1310.3 1136.9 1317.5 1135.7C1324.8 1134.4 1343.1 1129.2 1348.6 1127.9C1354.0 1126.6 1362.3 1121.7 1364.1 1124.8C1365.9 1127.9 1365.9 1149.6 1364.1 1154.3C1362.3 1159.0 1352.2 1162.8 1348.6 1165.1C1344.9 1167.5 1336.3 1173.2 1333.1 1174.4C1329.8 1175.7 1324.3 1177.4 1320.6 1176.0C1317.0 1174.5 1306.9 1165.3 1302.0 1162.0C1297.1 1158.8 1283.7 1151.2 1278.8 1148.1C1273.9 1145.0 1259.3 1136.8 1260.2 1135.7Z"/>
<path d="M1368.7 1126.4C1369.8 1124.6 1374.7 1134.2 1379.6 1135.7C1384.5 1137.1 1403.7 1137.3 1410.6 1138.8C1417.5 1140.2 1435.8 1145.4 1438.5 1148.1C1441.2 1150.8 1436.2 1158.6 1433.9 1162.0C1431.5 1165.5 1422.0 1175.9 1418.3 1177.5C1414.7 1179.2 1407.4 1177.4 1402.8 1176.0C1398.3 1174.5 1383.4 1168.0 1379.6 1165.1C1375.8 1162.2 1371.5 1155.7 1370.3 1151.2C1369.0 1146.7 1367.6 1128.2 1368.7 1126.4Z"/>
<path d="M1258.6 1255.1C1259.5 1254.4 1272.8 1261.3 1278.8 1261.3C1284.7 1261.3 1301.6 1256.5 1309.8 1255.1C1317.9 1253.6 1342.6 1250.0 1348.6 1248.9C1354.5 1247.8 1359.2 1243.6 1361.0 1245.8C1362.8 1248.0 1364.6 1263.2 1364.1 1267.5C1363.5 1271.8 1359.0 1280.3 1356.3 1283.0C1353.6 1285.7 1345.3 1289.7 1340.8 1290.8C1336.3 1291.8 1323.0 1292.1 1317.5 1292.3C1312.1 1292.5 1298.8 1293.9 1294.3 1292.3C1289.8 1290.7 1281.5 1281.2 1278.8 1278.3C1276.1 1275.5 1273.4 1270.2 1271.0 1267.5C1268.7 1264.8 1257.7 1255.8 1258.6 1255.1Z"/>
<path d="M1362.5 1242.7C1364.3 1240.7 1374.0 1245.9 1379.6 1247.3C1385.2 1248.8 1403.4 1253.6 1410.6 1255.1C1417.8 1256.5 1438.4 1257.6 1441.6 1259.7C1444.9 1261.9 1440.3 1269.9 1438.5 1273.7C1436.7 1277.5 1429.4 1289.8 1426.1 1292.3C1422.8 1294.8 1415.1 1295.8 1410.6 1295.4C1406.1 1295.0 1391.9 1291.2 1387.3 1289.2C1382.8 1287.2 1374.5 1281.2 1371.8 1278.3C1369.1 1275.5 1365.2 1268.6 1364.1 1264.4C1363.0 1260.2 1360.7 1244.7 1362.5 1242.7Z"/>
<path d="M1266.5 1371.6C1270.0 1370.5 1291.7 1373.0 1298.9 1373.0C1306.1 1373.0 1321.5 1371.9 1328.4 1371.6C1335.3 1371.2 1353.6 1369.6 1357.9 1370.1C1362.2 1370.6 1364.4 1373.2 1365.2 1376.0C1366.1 1378.7 1366.9 1390.4 1365.2 1393.7C1363.5 1396.9 1354.8 1402.4 1350.5 1404.0C1346.2 1405.5 1333.5 1406.1 1328.4 1406.9C1323.2 1407.8 1309.7 1410.1 1306.3 1411.3C1302.9 1412.5 1301.5 1418.9 1298.9 1417.2C1296.3 1415.5 1287.6 1400.7 1284.2 1396.6C1280.8 1392.5 1271.5 1384.8 1269.5 1381.9C1267.4 1379.0 1263.1 1372.6 1266.5 1371.6Z"/>
<path d="M1372.6 1374.5C1375.2 1372.8 1388.7 1378.1 1394.7 1378.9C1400.7 1379.8 1417.1 1381.5 1424.1 1381.9C1431.2 1382.2 1453.4 1380.5 1455.1 1381.9C1456.8 1383.2 1442.5 1390.6 1438.9 1393.7C1435.3 1396.8 1427.6 1406.2 1424.1 1408.4C1420.7 1410.6 1413.7 1413.2 1409.4 1412.8C1405.1 1412.5 1391.6 1407.7 1387.3 1405.4C1383.0 1403.2 1374.3 1397.3 1372.6 1393.7C1370.9 1390.1 1370.0 1376.2 1372.6 1374.5Z"/>
<path d="M1298.9 1499.7C1300.1 1497.5 1312.3 1493.9 1316.6 1492.4C1320.9 1490.8 1331.8 1487.0 1335.8 1486.5C1339.7 1486.0 1347.9 1486.7 1350.5 1487.9C1353.1 1489.1 1357.0 1494.0 1357.9 1496.8C1358.7 1499.5 1359.6 1509.1 1357.9 1511.5C1356.1 1513.9 1347.4 1516.7 1343.1 1517.4C1338.8 1518.1 1325.3 1518.1 1321.0 1517.4C1316.7 1516.7 1308.9 1513.6 1306.3 1511.5C1303.7 1509.5 1297.7 1502.0 1298.9 1499.7Z"/>
<path d="M1354.9 1496.8C1357.8 1495.1 1377.0 1495.1 1380.0 1496.8C1382.9 1498.5 1382.9 1509.8 1380.0 1511.5C1377.0 1513.2 1357.8 1513.2 1354.9 1511.5C1352.0 1509.8 1352.0 1498.5 1354.9 1496.8Z"/>
<path d="M1380.0 1490.9C1381.8 1488.8 1390.4 1487.8 1394.7 1487.9C1399.0 1488.1 1412.5 1491.3 1416.8 1492.4C1421.1 1493.4 1428.9 1494.9 1431.5 1496.8C1434.1 1498.7 1439.2 1505.6 1438.9 1508.6C1438.5 1511.5 1432.0 1520.1 1428.6 1521.8C1425.1 1523.5 1414.2 1524.0 1409.4 1523.3C1404.6 1522.6 1390.9 1518.0 1387.3 1515.9C1383.7 1513.9 1379.3 1508.5 1378.5 1505.6C1377.6 1502.7 1378.1 1493.0 1380.0 1490.9Z"/>
</g>
<g fill="#3ec4c4" opacity="0.28" filter="url(#bc)">
<path d="M1292.2 895.3C1293.0 893.1 1301.5 892.0 1305.4 891.3C1309.2 890.6 1320.5 889.5 1325.2 889.4C1329.8 889.2 1341.4 889.2 1344.9 890.0C1348.5 890.9 1354.6 894.8 1355.5 896.6C1356.4 898.5 1354.7 904.3 1352.8 905.8C1351.0 907.4 1343.3 908.7 1339.7 909.8C1336.0 910.9 1324.9 914.3 1321.2 915.1C1317.5 915.8 1310.6 917.0 1308.0 916.4C1305.4 915.8 1300.6 912.3 1298.8 909.8C1296.9 907.3 1291.4 897.4 1292.2 895.3Z"/>
<path d="M1378.0 885.7C1379.1 883.5 1386.1 883.1 1389.8 883.1C1393.5 883.1 1405.8 884.6 1409.6 885.7C1413.5 886.8 1420.5 889.7 1422.8 892.3C1425.1 894.9 1429.4 905.3 1429.4 908.1C1429.4 910.9 1425.1 915.2 1422.8 916.0C1420.5 916.8 1413.0 915.6 1409.6 914.7C1406.2 913.8 1397.2 909.6 1393.8 908.1C1390.4 906.6 1382.5 904.1 1380.6 901.5C1378.8 898.9 1376.9 887.8 1378.0 885.7Z"/>
<path d="M1264.1 1020.1C1264.9 1019.1 1279.3 1021.6 1283.9 1021.5C1288.5 1021.3 1298.3 1019.4 1303.7 1018.8C1309.1 1018.2 1325.1 1016.2 1330.0 1016.2C1335.0 1016.2 1343.3 1017.1 1345.9 1018.8C1348.5 1020.5 1352.2 1027.8 1352.5 1030.7C1352.8 1033.6 1351.1 1041.9 1348.5 1043.9C1345.9 1045.9 1334.5 1047.0 1330.0 1047.8C1325.6 1048.6 1314.1 1050.9 1310.3 1050.5C1306.4 1050.0 1300.9 1046.2 1297.1 1043.9C1293.2 1041.6 1281.2 1033.4 1277.3 1030.7C1273.5 1027.9 1263.4 1021.2 1264.1 1020.1Z"/>
<path d="M1375.7 1023.8C1377.3 1021.5 1386.2 1022.5 1390.2 1022.5C1394.2 1022.5 1403.4 1023.1 1410.0 1023.8C1416.6 1024.6 1443.8 1026.9 1446.9 1029.1C1450.0 1031.2 1439.1 1039.2 1436.4 1042.3C1433.6 1045.4 1426.3 1053.9 1423.2 1055.5C1420.1 1057.0 1413.8 1056.2 1410.0 1055.5C1406.2 1054.7 1394.1 1050.4 1390.2 1048.9C1386.4 1047.3 1378.7 1045.2 1377.0 1042.3C1375.4 1039.4 1374.2 1026.1 1375.7 1023.8Z"/>
<path d="M1269.2 1137.7C1270.0 1136.8 1285.9 1140.4 1291.6 1140.4C1297.3 1140.4 1311.8 1138.8 1318.0 1137.7C1324.1 1136.6 1339.7 1132.2 1344.3 1131.1C1348.9 1130.1 1356.0 1125.9 1357.5 1128.5C1359.1 1131.1 1359.1 1149.5 1357.5 1153.5C1356.0 1157.5 1347.4 1160.8 1344.3 1162.8C1341.3 1164.8 1333.9 1169.6 1331.1 1170.7C1328.4 1171.8 1323.7 1173.2 1320.6 1172.0C1317.5 1170.8 1308.9 1162.9 1304.8 1160.1C1300.6 1157.4 1289.2 1150.9 1285.0 1148.3C1280.9 1145.7 1268.4 1138.6 1269.2 1137.7Z"/>
<path d="M1373.5 1130.4C1374.4 1128.9 1378.5 1137.1 1382.7 1138.3C1386.8 1139.6 1403.2 1139.7 1409.0 1141.0C1414.9 1142.2 1430.5 1146.6 1432.8 1148.9C1435.1 1151.2 1430.8 1157.8 1428.8 1160.7C1426.8 1163.7 1418.7 1172.5 1415.6 1173.9C1412.6 1175.3 1406.3 1173.8 1402.5 1172.6C1398.6 1171.4 1385.9 1165.8 1382.7 1163.4C1379.5 1160.9 1375.8 1155.4 1374.8 1151.5C1373.7 1147.7 1372.5 1132.0 1373.5 1130.4Z"/>
<path d="M1267.1 1257.3C1267.8 1256.7 1279.1 1262.6 1284.2 1262.6C1289.3 1262.6 1303.6 1258.5 1310.6 1257.3C1317.5 1256.1 1338.4 1252.9 1343.5 1252.0C1348.6 1251.1 1352.5 1247.5 1354.1 1249.4C1355.6 1251.2 1357.2 1264.2 1356.7 1267.8C1356.2 1271.5 1352.4 1278.7 1350.1 1281.0C1347.8 1283.3 1340.8 1286.7 1336.9 1287.6C1333.1 1288.5 1321.8 1288.8 1317.2 1288.9C1312.5 1289.1 1301.2 1290.3 1297.4 1288.9C1293.5 1287.6 1286.5 1279.5 1284.2 1277.1C1281.9 1274.6 1279.6 1270.1 1277.6 1267.8C1275.6 1265.5 1266.3 1257.9 1267.1 1257.3Z"/>
<path d="M1368.0 1246.8C1369.6 1245.1 1377.8 1249.5 1382.5 1250.7C1387.3 1251.9 1402.7 1256.1 1408.9 1257.3C1415.0 1258.5 1432.5 1259.4 1435.3 1261.3C1438.0 1263.1 1434.2 1269.9 1432.6 1273.1C1431.1 1276.3 1424.8 1286.8 1422.1 1288.9C1419.3 1291.1 1412.7 1291.9 1408.9 1291.6C1405.1 1291.3 1393.0 1288.0 1389.1 1286.3C1385.3 1284.6 1378.2 1279.5 1375.9 1277.1C1373.6 1274.6 1370.3 1268.7 1369.4 1265.2C1368.4 1261.7 1366.5 1248.4 1368.0 1246.8Z"/>
<path d="M1274.3 1374.3C1277.2 1373.4 1295.7 1375.5 1301.8 1375.5C1308.0 1375.5 1321.0 1374.5 1326.9 1374.3C1332.7 1374.0 1348.3 1372.6 1351.9 1373.0C1355.6 1373.4 1357.5 1375.7 1358.2 1378.0C1358.9 1380.3 1359.6 1390.3 1358.2 1393.0C1356.7 1395.8 1349.3 1400.5 1345.7 1401.8C1342.0 1403.1 1331.3 1403.6 1326.9 1404.3C1322.5 1405.0 1311.0 1407.0 1308.1 1408.1C1305.2 1409.1 1304.0 1414.5 1301.8 1413.1C1299.6 1411.6 1292.2 1399.0 1289.3 1395.5C1286.4 1392.0 1278.5 1385.5 1276.8 1383.0C1275.0 1380.5 1271.4 1375.1 1274.3 1374.3Z"/>
<path d="M1378.0 1377.2C1380.2 1375.7 1391.7 1380.2 1396.8 1380.9C1401.9 1381.7 1415.9 1383.2 1421.8 1383.4C1427.8 1383.7 1446.7 1382.3 1448.1 1383.4C1449.6 1384.6 1437.4 1390.8 1434.4 1393.5C1431.3 1396.1 1424.8 1404.1 1421.8 1406.0C1418.9 1407.9 1413.0 1410.0 1409.3 1409.7C1405.7 1409.4 1394.2 1405.4 1390.5 1403.5C1386.9 1401.6 1379.5 1396.5 1378.0 1393.5C1376.6 1390.4 1375.8 1378.6 1378.0 1377.2Z"/>
<path d="M1303.9 1500.1C1304.9 1498.2 1315.3 1495.2 1318.9 1493.9C1322.6 1492.5 1331.8 1489.3 1335.2 1488.9C1338.6 1488.4 1345.5 1489.1 1347.7 1490.1C1349.9 1491.1 1353.2 1495.3 1354.0 1497.6C1354.7 1500.0 1355.4 1508.1 1354.0 1510.1C1352.5 1512.2 1345.1 1514.6 1341.5 1515.1C1337.8 1515.7 1326.3 1515.7 1322.7 1515.1C1319.0 1514.6 1312.3 1511.9 1310.1 1510.1C1308.0 1508.4 1302.9 1502.0 1303.9 1500.1Z"/>
<path d="M1356.8 1497.9C1359.3 1496.4 1375.6 1496.4 1378.1 1497.9C1380.6 1499.3 1380.6 1508.9 1378.1 1510.4C1375.6 1511.9 1359.3 1511.9 1356.8 1510.4C1354.3 1508.9 1354.3 1499.3 1356.8 1497.9Z"/>
<path d="M1384.1 1493.0C1385.7 1491.2 1392.9 1490.3 1396.6 1490.5C1400.2 1490.6 1411.7 1493.4 1415.4 1494.2C1419.0 1495.1 1425.7 1496.4 1427.9 1498.0C1430.1 1499.6 1434.4 1505.5 1434.1 1508.0C1433.8 1510.5 1428.3 1517.8 1425.4 1519.3C1422.5 1520.7 1413.2 1521.1 1409.1 1520.5C1405.0 1519.9 1393.4 1516.0 1390.3 1514.3C1387.2 1512.5 1383.5 1508.0 1382.8 1505.5C1382.1 1503.0 1382.4 1494.7 1384.1 1493.0Z"/>
</g>
<g fill="#3ec4c4" opacity="0.72" filter="url(#bc)">
<path d="M1302.0 894.1C1304.2 892.7 1320.2 892.6 1325.3 892.6C1330.4 892.6 1343.1 892.7 1345.5 894.1C1347.8 895.6 1347.6 903.3 1345.5 905.0C1343.3 906.6 1331.4 908.1 1326.8 908.1C1322.3 908.1 1309.6 906.6 1306.7 905.0C1303.8 903.3 1299.9 895.6 1302.0 894.1Z"/>
<path d="M1376.5 891.0C1377.9 889.0 1390.7 887.7 1395.1 887.9C1399.4 888.1 1411.0 890.4 1413.7 892.6C1416.4 894.7 1419.6 904.5 1418.3 906.5C1417.1 908.5 1407.0 909.8 1402.8 909.6C1398.7 909.4 1385.8 907.1 1382.7 905.0C1379.6 902.8 1375.0 893.0 1376.5 891.0Z"/>
<path d="M1286.5 1024.4C1288.3 1022.0 1310.3 1021.7 1317.5 1021.3C1324.8 1020.9 1344.2 1019.5 1348.6 1021.3C1352.9 1023.1 1355.7 1033.9 1354.8 1036.8C1353.9 1039.7 1345.1 1044.7 1340.8 1046.1C1336.5 1047.6 1322.1 1049.7 1317.5 1049.2C1313.0 1048.7 1305.7 1044.3 1302.0 1041.5C1298.4 1038.6 1284.7 1026.7 1286.5 1024.4Z"/>
<path d="M1373.4 1027.5C1375.2 1025.0 1388.9 1024.2 1395.1 1024.4C1401.2 1024.6 1421.6 1027.2 1426.1 1029.0C1430.6 1030.9 1434.2 1037.0 1433.9 1039.9C1433.5 1042.8 1426.6 1052.2 1423.0 1053.9C1419.4 1055.5 1407.9 1054.8 1402.8 1053.9C1397.8 1053.0 1383.0 1049.2 1379.6 1046.1C1376.1 1043.0 1371.6 1030.0 1373.4 1027.5Z"/>
<path d="M1291.2 1149.6C1292.4 1147.6 1310.5 1145.9 1317.5 1145.0C1324.6 1144.1 1347.0 1140.8 1351.7 1141.9C1356.4 1143.0 1358.6 1151.4 1357.9 1154.3C1357.1 1157.2 1349.1 1164.5 1345.5 1166.7C1341.8 1168.9 1331.4 1173.4 1326.8 1172.9C1322.3 1172.3 1310.8 1164.7 1306.7 1162.0C1302.5 1159.3 1289.9 1151.6 1291.2 1149.6Z"/>
<path d="M1373.4 1143.4C1375.5 1142.0 1388.9 1144.3 1395.1 1145.0C1401.2 1145.7 1422.5 1147.5 1426.1 1149.6C1429.7 1151.8 1427.9 1160.7 1426.1 1163.6C1424.3 1166.5 1414.6 1173.9 1410.6 1174.4C1406.6 1175.0 1396.0 1170.2 1392.0 1168.2C1388.0 1166.2 1378.6 1160.3 1376.5 1157.4C1374.3 1154.5 1371.2 1144.9 1373.4 1143.4Z"/>
<path d="M1291.2 1265.9C1292.1 1263.0 1310.5 1261.8 1317.5 1261.3C1324.6 1260.7 1346.6 1260.2 1351.7 1261.3C1356.7 1262.4 1361.0 1267.9 1361.0 1270.6C1361.0 1273.3 1355.3 1282.2 1351.7 1284.6C1348.0 1286.9 1334.8 1290.6 1330.0 1290.8C1325.1 1290.9 1314.3 1289.0 1309.8 1286.1C1305.3 1283.2 1290.3 1268.8 1291.2 1265.9Z"/>
<path d="M1370.3 1264.4C1371.9 1262.9 1381.7 1261.3 1387.3 1261.3C1392.9 1261.3 1412.6 1263.5 1418.3 1264.4C1424.1 1265.3 1436.1 1266.5 1437.0 1269.0C1437.9 1271.6 1429.2 1283.4 1426.1 1286.1C1423.0 1288.8 1415.1 1292.3 1410.6 1292.3C1406.1 1292.3 1391.7 1288.3 1387.3 1286.1C1383.0 1283.9 1375.4 1276.2 1373.4 1273.7C1371.4 1271.2 1368.6 1265.8 1370.3 1264.4Z"/>
<path d="M1306.3 1384.8C1307.7 1382.9 1322.4 1383.2 1328.4 1383.3C1334.4 1383.5 1354.8 1384.7 1357.9 1386.3C1360.9 1387.8 1357.5 1394.7 1354.9 1396.6C1352.3 1398.5 1340.2 1402.2 1335.8 1402.5C1331.3 1402.8 1320.0 1401.6 1316.6 1399.6C1313.2 1397.5 1304.9 1386.7 1306.3 1384.8Z"/>
<path d="M1375.5 1383.3C1377.3 1382.3 1389.0 1384.3 1394.7 1384.8C1400.4 1385.3 1419.9 1386.4 1424.1 1387.8C1428.4 1389.1 1432.4 1394.7 1431.5 1396.6C1430.7 1398.5 1421.1 1403.3 1416.8 1404.0C1412.5 1404.7 1399.0 1403.7 1394.7 1402.5C1390.4 1401.3 1382.2 1395.9 1380.0 1393.7C1377.7 1391.4 1373.8 1384.4 1375.5 1383.3Z"/>
<path d="M1313.7 1501.2C1315.5 1499.7 1330.9 1496.8 1335.8 1496.8C1340.6 1496.8 1353.0 1499.5 1354.9 1501.2C1356.8 1502.9 1354.2 1510.0 1352.0 1511.5C1349.7 1513.1 1339.5 1514.6 1335.8 1514.5C1332.0 1514.3 1322.1 1511.6 1319.6 1510.0C1317.0 1508.5 1311.8 1502.7 1313.7 1501.2Z"/>
<path d="M1381.4 1498.3C1383.3 1496.9 1397.1 1499.0 1402.1 1499.7C1407.0 1500.4 1421.9 1502.3 1424.1 1504.1C1426.4 1506.0 1423.8 1514.2 1421.2 1515.9C1418.6 1517.7 1406.2 1519.4 1402.1 1518.9C1397.9 1518.4 1388.3 1513.9 1385.8 1511.5C1383.4 1509.1 1379.5 1499.6 1381.4 1498.3Z"/>
</g>
<g fill="#fbbf70" opacity="0.45" filter="url(#bo)">
<path d="M1808.9 895.7C1810.7 893.0 1821.8 890.4 1827.5 887.9C1833.3 885.4 1854.2 874.0 1858.6 874.0C1862.9 874.0 1863.7 884.1 1864.8 887.9C1865.8 891.7 1869.0 903.6 1867.9 906.5C1866.8 909.4 1859.3 911.6 1855.5 912.7C1851.7 913.8 1839.5 915.1 1835.3 915.8C1831.1 916.6 1822.5 919.5 1819.8 918.9C1817.1 918.4 1813.3 913.9 1812.0 911.2C1810.8 908.5 1807.1 898.4 1808.9 895.7Z"/>
<path d="M1886.5 878.6C1889.4 877.5 1900.2 885.6 1905.1 886.4C1910.0 887.1 1922.9 885.4 1928.3 884.8C1933.8 884.3 1949.1 880.1 1951.6 881.7C1954.1 883.3 1951.1 894.8 1950.1 898.8C1949.0 902.8 1944.8 913.3 1942.3 915.8C1939.8 918.4 1932.7 920.7 1928.3 920.5C1924.0 920.3 1909.6 915.9 1905.1 914.3C1900.6 912.7 1892.5 908.7 1889.6 906.5C1886.7 904.4 1880.6 898.9 1880.3 895.7C1879.9 892.4 1883.6 879.7 1886.5 878.6Z"/>
<path d="M1774.8 1018.2C1775.7 1016.4 1790.4 1020.3 1796.5 1019.7C1802.7 1019.2 1820.3 1015.0 1827.5 1013.5C1834.8 1012.1 1854.2 1007.2 1858.6 1007.3C1862.9 1007.5 1863.7 1011.1 1864.8 1015.1C1865.8 1019.1 1868.6 1037.5 1867.9 1041.5C1867.1 1045.4 1862.4 1047.8 1858.6 1049.2C1854.8 1050.7 1839.8 1052.4 1835.3 1053.9C1830.8 1055.3 1823.4 1062.0 1819.8 1061.6C1816.2 1061.3 1807.9 1053.8 1804.3 1050.8C1800.7 1047.7 1792.2 1039.0 1788.8 1035.2C1785.3 1031.4 1773.9 1020.0 1774.8 1018.2Z"/>
<path d="M1883.4 1018.2C1884.8 1017.1 1893.0 1023.7 1897.3 1024.4C1901.7 1025.1 1914.3 1024.8 1920.6 1024.4C1926.9 1024.0 1947.1 1020.2 1951.6 1021.3C1956.1 1022.4 1959.7 1030.3 1959.4 1033.7C1959.0 1037.1 1951.2 1047.1 1948.5 1050.8C1945.8 1054.4 1939.4 1063.8 1936.1 1064.7C1932.8 1065.6 1925.1 1060.7 1920.6 1058.5C1916.1 1056.3 1901.5 1049.0 1897.3 1046.1C1893.2 1043.2 1886.6 1037.0 1884.9 1033.7C1883.3 1030.4 1881.9 1019.3 1883.4 1018.2Z"/>
<path d="M1774.8 1138.8C1775.2 1137.7 1790.4 1143.4 1796.5 1143.4C1802.7 1143.4 1819.9 1140.8 1827.5 1138.8C1835.1 1136.8 1856.6 1126.2 1861.7 1126.4C1866.7 1126.5 1869.9 1136.5 1871.0 1140.3C1872.1 1144.1 1872.4 1155.5 1871.0 1158.9C1869.5 1162.4 1861.8 1167.8 1858.6 1169.8C1855.3 1171.8 1846.3 1175.1 1843.1 1176.0C1839.8 1176.9 1834.3 1179.2 1830.6 1177.5C1827.0 1175.9 1816.4 1164.9 1812.0 1162.0C1807.7 1159.1 1797.8 1155.4 1793.4 1152.7C1789.1 1150.0 1774.5 1139.9 1774.8 1138.8Z"/>
<path d="M1880.3 1127.9C1881.2 1126.1 1884.9 1137.1 1889.6 1138.8C1894.3 1140.4 1913.4 1141.0 1920.6 1141.9C1927.8 1142.8 1946.5 1144.5 1951.6 1146.5C1956.7 1148.5 1964.0 1155.3 1964.0 1158.9C1964.0 1162.6 1954.9 1174.8 1951.6 1177.5C1948.4 1180.3 1939.7 1182.2 1936.1 1182.2C1932.5 1182.2 1925.1 1179.5 1920.6 1177.5C1916.1 1175.6 1901.9 1167.9 1897.3 1165.1C1892.8 1162.4 1883.8 1158.6 1881.8 1154.3C1879.8 1149.9 1879.4 1129.7 1880.3 1127.9Z"/>
<path d="M1777.9 1267.5C1778.8 1266.4 1790.7 1265.3 1796.5 1264.4C1802.3 1263.5 1820.3 1260.6 1827.5 1259.7C1834.8 1258.8 1852.8 1258.3 1858.6 1256.6C1864.4 1255.0 1874.8 1243.8 1877.2 1245.8C1879.5 1247.8 1880.0 1269.0 1878.7 1273.7C1877.5 1278.4 1869.6 1284.1 1866.3 1286.1C1863.1 1288.1 1855.3 1289.9 1850.8 1290.8C1846.3 1291.7 1831.7 1293.7 1827.5 1293.9C1823.4 1294.0 1818.2 1293.9 1815.1 1292.3C1812.1 1290.7 1804.3 1282.1 1801.2 1279.9C1798.1 1277.7 1791.5 1275.1 1788.8 1273.7C1786.1 1272.2 1777.0 1268.6 1777.9 1267.5Z"/>
<path d="M1875.6 1245.8C1876.2 1243.1 1884.3 1253.3 1889.6 1255.1C1894.8 1256.9 1913.4 1260.2 1920.6 1261.3C1927.8 1262.4 1945.6 1263.7 1951.6 1264.4C1957.6 1265.1 1970.3 1265.7 1971.8 1267.5C1973.2 1269.3 1966.7 1277.0 1964.0 1279.9C1961.3 1282.8 1952.7 1290.9 1948.5 1292.3C1944.3 1293.8 1933.4 1292.7 1928.3 1292.3C1923.3 1291.9 1910.2 1290.8 1905.1 1289.2C1900.0 1287.6 1888.4 1283.4 1884.9 1278.3C1881.5 1273.3 1875.1 1248.5 1875.6 1245.8Z"/>
<path d="M1779.5 1377.5C1781.2 1375.6 1802.1 1377.6 1808.9 1377.5C1815.8 1377.3 1831.5 1376.7 1838.4 1376.0C1845.3 1375.3 1863.6 1370.9 1867.9 1371.6C1872.2 1372.2 1874.9 1379.3 1875.2 1381.9C1875.6 1384.5 1873.4 1391.3 1870.8 1393.7C1868.2 1396.1 1857.2 1401.0 1853.1 1402.5C1849.0 1404.0 1839.7 1406.9 1835.4 1406.9C1831.1 1406.9 1821.1 1404.0 1816.3 1402.5C1811.5 1401.0 1798.5 1396.6 1794.2 1393.7C1789.9 1390.7 1777.7 1379.3 1779.5 1377.5Z"/>
<path d="M1878.2 1378.9C1879.5 1377.6 1891.6 1378.8 1897.3 1378.9C1903.0 1379.1 1919.9 1380.2 1926.8 1380.4C1933.7 1380.6 1951.4 1379.0 1956.2 1380.4C1961.1 1381.8 1968.0 1390.1 1968.0 1392.2C1968.0 1394.2 1959.3 1396.2 1956.2 1398.1C1953.2 1400.0 1945.3 1406.8 1941.5 1408.4C1937.7 1409.9 1928.1 1411.9 1923.8 1411.3C1919.5 1410.8 1909.2 1406.4 1904.7 1404.0C1900.2 1401.6 1888.6 1393.6 1885.5 1390.7C1882.4 1387.8 1876.8 1380.3 1878.2 1378.9Z"/>
<path d="M1797.1 1496.8C1798.9 1495.1 1817.1 1495.3 1823.7 1495.3C1830.2 1495.3 1848.7 1495.8 1853.1 1496.8C1857.6 1497.8 1861.3 1502.1 1862.0 1504.1C1862.6 1506.2 1860.9 1512.7 1859.0 1514.5C1857.1 1516.2 1849.5 1518.5 1845.8 1518.9C1842.0 1519.2 1830.9 1518.4 1826.6 1517.4C1822.3 1516.4 1812.4 1512.4 1808.9 1510.0C1805.5 1507.6 1795.4 1498.5 1797.1 1496.8Z"/>
<path d="M1872.3 1496.8C1873.5 1495.2 1885.3 1492.5 1890.0 1492.4C1894.6 1492.2 1906.9 1494.5 1912.1 1495.3C1917.2 1496.2 1930.4 1498.2 1934.1 1499.7C1937.9 1501.3 1944.5 1506.5 1944.5 1508.6C1944.5 1510.6 1937.1 1516.2 1934.1 1517.4C1931.2 1518.6 1923.7 1519.4 1919.4 1518.9C1915.1 1518.4 1902.0 1514.5 1897.3 1513.0C1892.7 1511.4 1882.6 1507.5 1879.6 1505.6C1876.7 1503.7 1871.1 1498.3 1872.3 1496.8Z"/>
</g>
<g fill="#f7981c" opacity="0.28" filter="url(#bc)">
<path d="M1813.4 896.5C1815.0 894.2 1824.3 892.1 1829.2 889.9C1834.2 887.8 1851.9 878.0 1855.6 878.0C1859.3 878.0 1860.0 886.7 1860.9 889.9C1861.8 893.1 1864.4 903.3 1863.5 905.7C1862.6 908.2 1856.2 910.1 1853.0 911.0C1849.7 911.9 1839.4 913.0 1835.8 913.6C1832.3 914.2 1825.0 916.7 1822.7 916.3C1820.4 915.8 1817.1 912.0 1816.1 909.7C1815.0 907.4 1811.9 898.8 1813.4 896.5Z"/>
<path d="M1891.0 881.6C1893.5 880.6 1902.7 887.5 1906.8 888.2C1911.0 888.8 1922.0 887.3 1926.6 886.8C1931.2 886.4 1944.2 882.8 1946.4 884.2C1948.5 885.6 1946.0 895.3 1945.1 898.7C1944.1 902.1 1940.6 911.0 1938.5 913.2C1936.3 915.4 1930.3 917.3 1926.6 917.2C1922.9 917.0 1910.7 913.3 1906.8 911.9C1903.0 910.5 1896.1 907.1 1893.6 905.3C1891.2 903.4 1886.0 898.8 1885.7 896.1C1885.4 893.3 1888.6 882.5 1891.0 881.6Z"/>
<path d="M1782.6 1020.5C1783.4 1018.9 1795.9 1022.2 1801.1 1021.8C1806.3 1021.3 1821.3 1017.7 1827.5 1016.5C1833.6 1015.3 1850.1 1011.1 1853.8 1011.2C1857.5 1011.4 1858.2 1014.4 1859.1 1017.8C1860.0 1021.2 1862.3 1036.8 1861.7 1040.2C1861.1 1043.6 1857.1 1045.6 1853.8 1046.8C1850.6 1048.0 1837.9 1049.5 1834.1 1050.8C1830.2 1052.0 1823.9 1057.7 1820.9 1057.4C1817.8 1057.1 1810.8 1050.7 1807.7 1048.1C1804.6 1045.5 1797.4 1038.2 1794.5 1035.0C1791.6 1031.7 1781.9 1022.0 1782.6 1020.5Z"/>
<path d="M1888.9 1021.1C1890.1 1020.2 1897.0 1025.8 1900.7 1026.4C1904.4 1027.0 1915.1 1026.7 1920.5 1026.4C1925.9 1026.1 1943.0 1022.8 1946.9 1023.7C1950.7 1024.7 1953.8 1031.4 1953.5 1034.3C1953.2 1037.2 1946.5 1045.7 1944.2 1048.8C1941.9 1051.9 1936.5 1059.9 1933.7 1060.6C1930.9 1061.4 1924.3 1057.2 1920.5 1055.4C1916.7 1053.5 1904.3 1047.3 1900.7 1044.8C1897.2 1042.4 1891.6 1037.0 1890.2 1034.3C1888.8 1031.5 1887.6 1022.0 1888.9 1021.1Z"/>
<path d="M1783.2 1140.9C1783.5 1140.0 1796.5 1144.9 1801.7 1144.9C1806.9 1144.9 1821.6 1142.6 1828.1 1140.9C1834.5 1139.2 1852.7 1130.2 1857.1 1130.4C1861.4 1130.5 1864.0 1139.0 1865.0 1142.2C1865.9 1145.5 1866.2 1155.1 1865.0 1158.1C1863.7 1161.0 1857.2 1165.6 1854.4 1167.3C1851.6 1169.0 1844.0 1171.8 1841.2 1172.6C1838.5 1173.3 1833.8 1175.3 1830.7 1173.9C1827.6 1172.5 1818.6 1163.2 1814.9 1160.7C1811.2 1158.2 1802.7 1155.1 1799.0 1152.8C1795.4 1150.5 1782.9 1141.9 1783.2 1140.9Z"/>
<path d="M1886.1 1132.3C1886.9 1130.8 1890.0 1140.1 1894.0 1141.5C1898.0 1142.9 1914.3 1143.4 1920.4 1144.2C1926.6 1144.9 1942.5 1146.4 1946.8 1148.1C1951.1 1149.8 1957.3 1155.6 1957.3 1158.7C1957.3 1161.7 1949.5 1172.2 1946.8 1174.5C1944.0 1176.8 1936.7 1178.4 1933.6 1178.4C1930.5 1178.4 1924.3 1176.2 1920.4 1174.5C1916.6 1172.8 1904.5 1166.2 1900.6 1163.9C1896.8 1161.6 1889.1 1158.4 1887.5 1154.7C1885.8 1151.0 1885.4 1133.8 1886.1 1132.3Z"/>
<path d="M1785.8 1268.4C1786.6 1267.5 1796.7 1266.6 1801.6 1265.8C1806.5 1265.0 1821.8 1262.6 1828.0 1261.8C1834.1 1261.1 1849.4 1260.6 1854.4 1259.2C1859.3 1257.8 1868.2 1248.3 1870.2 1250.0C1872.2 1251.7 1872.6 1269.7 1871.5 1273.7C1870.4 1277.7 1863.7 1282.6 1860.9 1284.2C1858.2 1285.9 1851.6 1287.4 1847.8 1288.2C1843.9 1289.0 1831.5 1290.7 1828.0 1290.8C1824.5 1291.0 1820.1 1290.9 1817.4 1289.5C1814.8 1288.1 1808.2 1280.8 1805.6 1279.0C1803.0 1277.1 1797.3 1274.9 1795.0 1273.7C1792.7 1272.5 1785.0 1269.3 1785.8 1268.4Z"/>
<path d="M1882.9 1249.8C1883.3 1247.5 1890.3 1256.2 1894.7 1257.7C1899.2 1259.3 1915.0 1262.1 1921.1 1263.0C1927.3 1263.9 1942.4 1265.0 1947.5 1265.6C1952.5 1266.2 1963.4 1266.7 1964.6 1268.3C1965.8 1269.8 1960.3 1276.3 1958.0 1278.8C1955.7 1281.3 1948.4 1288.1 1944.8 1289.4C1941.3 1290.6 1932.0 1289.7 1927.7 1289.4C1923.4 1289.0 1912.2 1288.1 1907.9 1286.7C1903.6 1285.3 1893.7 1281.8 1890.8 1277.5C1887.9 1273.2 1882.4 1252.1 1882.9 1249.8Z"/>
<path d="M1787.6 1379.1C1789.1 1377.5 1806.8 1379.2 1812.7 1379.1C1818.5 1378.9 1831.9 1378.4 1837.7 1377.8C1843.6 1377.3 1859.1 1373.5 1862.8 1374.1C1866.4 1374.7 1868.7 1380.7 1869.0 1382.8C1869.3 1385.0 1867.5 1390.8 1865.3 1392.9C1863.1 1394.9 1853.8 1399.1 1850.3 1400.4C1846.7 1401.7 1838.9 1404.1 1835.2 1404.1C1831.6 1404.1 1823.0 1401.7 1818.9 1400.4C1814.9 1399.1 1803.8 1395.3 1800.2 1392.9C1796.5 1390.4 1786.2 1380.7 1787.6 1379.1Z"/>
<path d="M1885.0 1380.9C1886.2 1379.8 1896.5 1380.8 1901.3 1380.9C1906.1 1381.1 1920.5 1382.0 1926.3 1382.2C1932.2 1382.3 1947.3 1381.0 1951.4 1382.2C1955.5 1383.4 1961.4 1390.5 1961.4 1392.2C1961.4 1394.0 1954.0 1395.6 1951.4 1397.2C1948.8 1398.8 1942.1 1404.7 1938.9 1406.0C1935.6 1407.3 1927.5 1408.9 1923.8 1408.5C1920.2 1408.0 1911.4 1404.3 1907.6 1402.2C1903.8 1400.2 1893.9 1393.4 1891.3 1391.0C1888.6 1388.5 1883.8 1382.1 1885.0 1380.9Z"/>
<path d="M1802.7 1498.3C1804.2 1496.8 1819.7 1497.0 1825.3 1497.0C1830.8 1497.0 1846.5 1497.4 1850.3 1498.3C1854.1 1499.2 1857.3 1502.8 1857.8 1504.5C1858.4 1506.3 1856.9 1511.8 1855.3 1513.3C1853.7 1514.8 1847.3 1516.8 1844.1 1517.1C1840.9 1517.3 1831.4 1516.7 1827.8 1515.8C1824.1 1514.9 1815.7 1511.6 1812.8 1509.5C1809.8 1507.5 1801.3 1499.7 1802.7 1498.3Z"/>
<path d="M1877.8 1498.1C1878.8 1496.7 1888.9 1494.4 1892.9 1494.3C1896.8 1494.2 1907.3 1496.1 1911.6 1496.8C1916.0 1497.5 1927.2 1499.2 1930.4 1500.6C1933.6 1501.9 1939.2 1506.3 1939.2 1508.1C1939.2 1509.8 1932.9 1514.6 1930.4 1515.6C1927.9 1516.6 1921.5 1517.3 1917.9 1516.8C1914.2 1516.4 1903.1 1513.1 1899.1 1511.8C1895.2 1510.5 1886.6 1507.2 1884.1 1505.6C1881.6 1504.0 1876.8 1499.4 1877.8 1498.1Z"/>
</g>
<g fill="#f7981c" opacity="0.72" filter="url(#bc)">
<path d="M1816.7 900.3C1818.0 898.3 1830.4 895.4 1835.3 894.1C1840.2 892.9 1855.5 888.2 1858.6 889.5C1861.6 890.7 1863.5 902.6 1861.7 905.0C1859.9 907.3 1847.4 908.9 1843.1 909.6C1838.7 910.4 1827.5 912.3 1824.4 911.2C1821.4 910.1 1815.4 902.3 1816.7 900.3Z"/>
<path d="M1889.6 889.5C1890.3 887.7 1900.6 893.4 1905.1 894.1C1909.6 894.8 1923.8 894.9 1928.3 895.7C1932.9 896.4 1943.0 898.2 1943.9 900.3C1944.8 902.5 1938.8 912.5 1936.1 914.3C1933.4 916.1 1924.9 916.4 1920.6 915.8C1916.3 915.3 1902.5 912.7 1898.9 909.6C1895.3 906.6 1888.9 891.3 1889.6 889.5Z"/>
<path d="M1799.6 1024.4C1801.4 1022.0 1821.0 1023.6 1827.5 1022.8C1834.1 1022.1 1851.3 1016.4 1855.5 1018.2C1859.6 1020.0 1863.8 1034.7 1863.2 1038.3C1862.7 1042.0 1855.0 1047.6 1850.8 1049.2C1846.6 1050.8 1832.1 1053.0 1827.5 1052.3C1823.0 1051.6 1815.3 1046.3 1812.0 1043.0C1808.8 1039.7 1797.8 1026.7 1799.6 1024.4Z"/>
<path d="M1886.5 1025.9C1888.3 1024.7 1900.2 1028.5 1905.1 1029.0C1910.0 1029.6 1923.3 1030.1 1928.3 1030.6C1933.4 1031.1 1947.1 1031.2 1948.5 1033.7C1950.0 1036.2 1943.1 1049.2 1940.8 1052.3C1938.4 1055.4 1932.1 1060.2 1928.3 1060.1C1924.6 1059.9 1912.7 1053.1 1908.2 1050.8C1903.7 1048.4 1892.1 1042.8 1889.6 1039.9C1887.0 1037.0 1884.7 1027.2 1886.5 1025.9Z"/>
<path d="M1808.9 1146.5C1810.7 1144.4 1828.8 1144.1 1835.3 1143.4C1841.8 1142.7 1861.0 1138.7 1864.8 1140.3C1868.6 1142.0 1869.0 1154.1 1867.9 1157.4C1866.8 1160.6 1859.1 1166.2 1855.5 1168.2C1851.8 1170.2 1841.0 1175.2 1836.8 1174.4C1832.7 1173.7 1823.0 1165.3 1819.8 1162.0C1816.5 1158.8 1807.1 1148.7 1808.9 1146.5Z"/>
<path d="M1883.4 1140.3C1885.5 1138.9 1897.5 1142.5 1905.1 1143.4C1912.7 1144.3 1944.0 1145.5 1948.5 1148.1C1953.0 1150.6 1946.2 1161.9 1943.9 1165.1C1941.5 1168.4 1932.9 1175.6 1928.3 1176.0C1923.8 1176.4 1910.0 1170.6 1905.1 1168.2C1900.2 1165.9 1889.0 1159.1 1886.5 1155.8C1883.9 1152.6 1881.2 1141.8 1883.4 1140.3Z"/>
<path d="M1801.2 1267.5C1802.1 1265.1 1820.5 1264.8 1827.5 1264.4C1834.6 1264.0 1856.2 1263.3 1861.7 1264.4C1867.1 1265.5 1874.1 1271.3 1874.1 1273.7C1874.1 1276.0 1865.6 1282.6 1861.7 1284.6C1857.7 1286.5 1844.8 1290.8 1840.0 1290.8C1835.1 1290.8 1824.3 1287.3 1819.8 1284.6C1815.3 1281.8 1800.3 1269.8 1801.2 1267.5Z"/>
<path d="M1881.8 1264.4C1884.2 1263.1 1898.8 1264.0 1905.1 1264.4C1911.4 1264.8 1930.7 1266.8 1936.1 1267.5C1941.5 1268.2 1950.7 1268.4 1951.6 1270.6C1952.5 1272.8 1947.1 1283.6 1943.9 1286.1C1940.6 1288.6 1929.1 1292.3 1923.7 1292.3C1918.3 1292.3 1901.9 1288.1 1897.3 1286.1C1892.8 1284.1 1886.7 1277.8 1884.9 1275.2C1883.1 1272.7 1879.5 1265.7 1881.8 1264.4Z"/>
<path d="M1811.9 1387.8C1813.1 1385.7 1832.2 1385.3 1838.4 1384.8C1844.6 1384.3 1861.6 1382.3 1864.9 1383.3C1868.2 1384.4 1868.1 1391.6 1866.4 1393.7C1864.7 1395.7 1854.6 1400.0 1850.2 1401.0C1845.7 1402.1 1832.5 1404.0 1828.1 1402.5C1823.6 1401.0 1810.7 1389.8 1811.9 1387.8Z"/>
<path d="M1887.0 1384.8C1888.6 1384.0 1899.2 1385.8 1904.7 1386.3C1910.2 1386.8 1929.9 1387.9 1934.1 1389.2C1938.4 1390.6 1942.4 1396.0 1941.5 1398.1C1940.7 1400.1 1930.6 1406.1 1926.8 1406.9C1923.0 1407.8 1913.2 1407.0 1909.1 1405.4C1905.0 1403.9 1894.0 1396.1 1891.4 1393.7C1888.8 1391.3 1885.5 1385.7 1887.0 1384.8Z"/>
<path d="M1813.3 1499.7C1815.6 1498.5 1833.2 1499.0 1838.4 1499.7C1843.5 1500.4 1855.8 1503.9 1857.5 1505.6C1859.3 1507.3 1855.7 1513.1 1853.1 1514.5C1850.5 1515.8 1839.4 1517.9 1835.4 1517.4C1831.5 1516.9 1821.8 1512.1 1819.2 1510.0C1816.7 1508.0 1811.1 1500.9 1813.3 1499.7Z"/>
<path d="M1882.6 1498.3C1884.1 1497.1 1899.5 1497.7 1904.7 1498.3C1909.8 1498.8 1924.2 1501.0 1926.8 1502.7C1929.4 1504.4 1928.5 1511.3 1926.8 1513.0C1925.1 1514.7 1916.2 1517.9 1912.1 1517.4C1907.9 1516.9 1894.9 1510.8 1891.4 1508.6C1888.0 1506.3 1881.0 1499.5 1882.6 1498.3Z"/>
</g>
<use href="#col" x="0" y="0"/>
<use href="#col" x="512.5" y="0"/>
<use href="#col" x="1125" y="0"/>
<use href="#col" x="1637" y="0"/>
</svg></body></html>
